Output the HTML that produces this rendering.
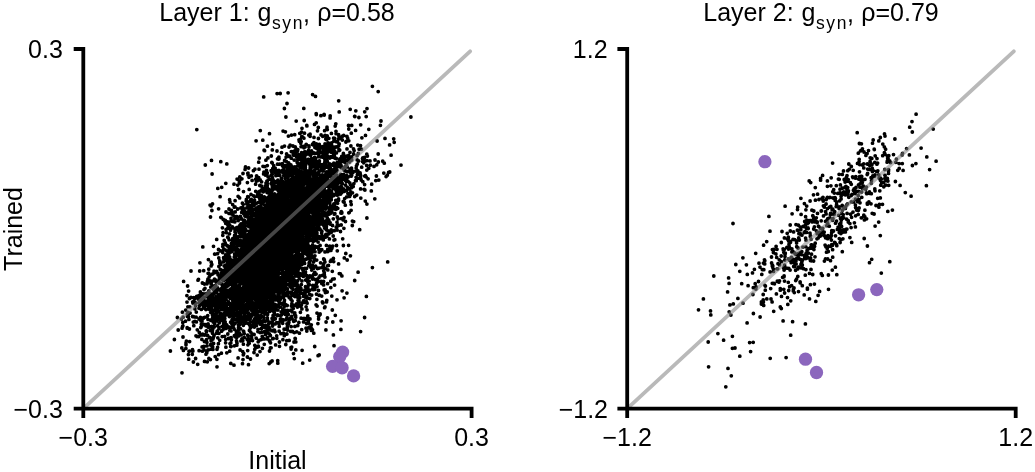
<!DOCTYPE html>
<html><head><meta charset="utf-8"><style>
html,body{margin:0;padding:0;background:#fff;}
body{width:1035px;height:472px;overflow:hidden;}
svg{display:block;}
text{font-family:"Liberation Sans",sans-serif;fill:#000;}
svg{will-change:transform;}
</style></head><body>
<svg width="1035" height="472" viewBox="0 0 1035 472">
<path fill="none" stroke="#000" stroke-width="3.8" stroke-linecap="round" d="M372.4 86.3h0M378.2 91.6h0M280.2 93.5h0M288.1 92.8h0M277.1 93.6h0M312.6 94.6h0M315.5 96.4h0M263.7 96.9h0M338.7 100.8h0M287.0 103.5h0M303.8 108.4h0M284.4 108.5h0M350.2 109.3h0M367.0 108.6h0M355.8 110.8h0M339.2 111.9h0M364.7 111.8h0M316.2 113.7h0M324.1 114.3h0M316.3 114.6h0M324.2 115.0h0M320.9 115.7h0M330.2 115.9h0M354.6 116.3h0M354.9 116.5h0M285.9 117.0h0M358.9 117.5h0M366.2 116.6h0M410.9 117.0h0M330.1 117.9h0M304.2 120.5h0M296.2 121.1h0M381.0 121.0h0M316.2 122.8h0M314.5 124.4h0M335.8 123.8h0M306.8 125.5h0M348.5 125.4h0M351.7 125.4h0M360.7 124.8h0M380.4 125.3h0M306.9 125.9h0M335.2 126.1h0M318.3 127.5h0M327.0 127.2h0M302.0 128.3h0M326.9 129.0h0M348.8 129.0h0M368.8 129.3h0M196.8 129.6h0M327.3 129.6h0M355.6 130.4h0M260.3 130.6h0M283.1 131.1h0M317.5 130.8h0M324.6 130.7h0M336.0 131.3h0M285.4 131.8h0M301.6 132.1h0M299.8 133.3h0M304.5 133.2h0M331.4 133.4h0M351.3 133.2h0M269.5 133.7h0M310.1 134.2h0M336.1 133.7h0M291.5 135.1h0M294.7 134.7h0M308.8 135.1h0M321.1 134.9h0M325.1 135.3h0M338.6 134.7h0M343.7 135.4h0M365.5 135.4h0M288.4 136.1h0M301.8 136.4h0M310.1 136.3h0M322.7 136.3h0M326.2 136.2h0M327.2 136.0h0M338.9 135.9h0M342.5 136.2h0M347.0 136.5h0M302.7 137.1h0M314.0 137.4h0M326.1 136.8h0M303.9 138.2h0M318.4 138.5h0M328.9 138.3h0M333.6 138.2h0M340.3 138.4h0M347.7 138.3h0M361.9 137.8h0M385.0 138.4h0M300.2 139.3h0M325.8 139.0h0M328.1 138.6h0M334.7 138.5h0M338.6 138.9h0M393.7 138.8h0M262.8 140.2h0M299.0 139.8h0M326.5 139.5h0M342.3 140.0h0M256.1 140.8h0M299.3 141.3h0M333.9 141.0h0M346.2 141.5h0M348.8 140.8h0M377.1 141.0h0M301.2 141.6h0M336.2 141.7h0M337.6 142.1h0M345.9 142.0h0M394.2 142.3h0M300.8 143.3h0M313.9 142.6h0M328.1 142.8h0M331.6 142.9h0M272.7 144.2h0M306.2 144.3h0M312.5 144.4h0M313.1 143.7h0M313.5 144.2h0M316.4 144.0h0M319.3 144.5h0M325.0 143.9h0M329.4 143.5h0M339.0 144.1h0M339.2 144.0h0M290.1 145.1h0M313.2 144.9h0M315.1 145.2h0M316.6 145.3h0M319.4 144.8h0M357.8 145.1h0M389.6 144.9h0M267.4 146.2h0M284.5 146.1h0M292.9 146.0h0M304.5 146.2h0M308.9 145.8h0M324.8 145.6h0M326.6 145.7h0M328.6 146.3h0M331.8 145.6h0M338.3 146.3h0M338.8 145.7h0M350.9 146.0h0M360.5 145.6h0M282.0 147.2h0M289.0 147.0h0M295.2 146.9h0M301.1 146.7h0M302.6 146.7h0M304.6 147.0h0M305.2 146.8h0M309.0 147.0h0M319.9 147.2h0M322.5 146.7h0M325.7 147.0h0M329.0 147.3h0M334.3 147.2h0M336.0 147.0h0M304.0 147.8h0M314.9 147.6h0M316.4 148.2h0M318.9 148.1h0M321.1 147.7h0M323.1 147.8h0M328.7 148.4h0M331.8 148.4h0M332.1 148.2h0M296.0 149.0h0M317.3 148.7h0M318.7 148.5h0M323.7 149.0h0M325.4 148.9h0M326.6 148.8h0M327.0 149.5h0M339.0 149.4h0M347.0 148.9h0M353.5 148.8h0M359.1 149.2h0M361.4 149.2h0M264.1 150.2h0M272.3 149.9h0M296.6 150.3h0M297.8 149.7h0M323.6 149.6h0M324.7 150.1h0M329.5 149.8h0M333.7 149.9h0M339.7 150.1h0M264.6 150.7h0M277.0 151.0h0M293.7 151.4h0M294.0 151.5h0M297.5 151.2h0M308.6 150.5h0M311.6 151.0h0M320.0 151.0h0M324.6 151.4h0M327.8 151.3h0M329.3 151.1h0M330.9 151.5h0M334.6 150.8h0M339.0 150.6h0M354.1 150.6h0M291.3 151.6h0M304.6 152.0h0M305.3 152.0h0M318.3 151.7h0M321.5 152.3h0M331.1 152.2h0M334.8 152.0h0M350.0 152.3h0M281.5 152.6h0M294.4 153.1h0M295.7 153.3h0M301.6 152.7h0M308.0 152.8h0M310.3 153.2h0M312.0 153.5h0M314.0 153.0h0M315.2 153.3h0M317.0 153.2h0M318.5 152.6h0M323.0 152.9h0M327.3 152.6h0M336.4 152.9h0M343.4 153.4h0M286.6 154.0h0M293.3 154.4h0M303.1 154.3h0M304.6 153.7h0M307.8 153.7h0M310.3 154.3h0M318.9 154.3h0M323.8 154.0h0M325.1 153.7h0M333.6 154.4h0M353.6 154.0h0M358.3 153.5h0M366.8 154.2h0M378.2 154.0h0M293.7 155.3h0M295.3 154.8h0M296.9 155.0h0M298.7 155.0h0M299.2 154.8h0M306.2 154.5h0M309.8 154.7h0M310.1 154.8h0M310.6 155.3h0M322.9 155.3h0M325.1 154.9h0M334.1 155.5h0M334.3 155.3h0M348.7 155.5h0M391.1 155.2h0M271.3 156.0h0M288.6 156.3h0M288.8 156.3h0M289.7 156.2h0M296.7 156.4h0M299.9 156.1h0M300.1 155.8h0M300.4 156.4h0M323.9 156.2h0M325.6 155.6h0M326.0 155.9h0M327.4 155.9h0M334.0 155.6h0M341.7 156.4h0M344.0 155.9h0M346.4 156.1h0M357.1 155.7h0M367.4 156.1h0M278.9 157.1h0M286.1 157.1h0M296.6 157.1h0M298.4 157.1h0M303.6 156.8h0M304.7 157.1h0M318.4 156.7h0M320.3 156.8h0M322.3 157.1h0M322.8 156.7h0M324.0 157.4h0M326.2 157.1h0M328.6 156.8h0M331.0 156.7h0M332.1 157.2h0M343.7 157.5h0M344.7 157.4h0M351.7 157.0h0M364.5 157.5h0M259.3 158.1h0M267.9 157.9h0M291.2 158.2h0M302.4 158.2h0M311.5 158.4h0M314.6 157.5h0M326.0 158.3h0M327.1 158.1h0M329.8 158.0h0M334.9 158.0h0M335.0 158.2h0M335.2 157.9h0M336.3 158.5h0M343.2 157.6h0M348.2 157.8h0M348.5 157.5h0M362.8 157.9h0M277.5 158.8h0M278.6 159.2h0M279.0 158.7h0M301.2 158.9h0M301.2 159.0h0M302.6 159.1h0M308.0 159.5h0M308.7 159.5h0M313.7 158.6h0M315.4 158.5h0M324.8 159.5h0M324.8 158.7h0M325.2 159.0h0M339.9 159.0h0M362.5 158.6h0M363.5 158.6h0M211.5 160.4h0M265.9 160.2h0M284.6 160.4h0M294.2 160.1h0M297.7 159.8h0M300.9 159.9h0M306.1 159.9h0M307.0 160.2h0M315.0 159.6h0M339.7 160.2h0M343.2 159.5h0M344.5 159.6h0M347.0 160.3h0M351.1 159.7h0M351.7 160.0h0M357.2 159.9h0M375.0 160.0h0M285.3 160.9h0M286.3 161.3h0M302.7 160.8h0M306.0 161.3h0M310.4 161.3h0M311.5 160.9h0M313.7 161.4h0M316.5 161.2h0M319.4 161.0h0M327.4 161.5h0M341.5 161.5h0M347.7 160.9h0M358.6 160.9h0M365.8 160.8h0M366.9 160.6h0M370.0 160.9h0M382.7 161.2h0M220.8 161.7h0M258.7 162.2h0M271.8 162.4h0M302.7 162.3h0M304.0 161.8h0M307.1 162.4h0M307.8 162.2h0M307.8 161.8h0M309.9 162.2h0M313.8 161.5h0M316.4 162.4h0M324.7 162.4h0M337.3 162.5h0M339.5 161.8h0M344.5 162.0h0M348.8 161.6h0M349.6 162.1h0M362.6 161.6h0M378.3 162.0h0M272.3 163.1h0M288.7 162.9h0M297.2 162.5h0M301.6 163.0h0M302.7 163.3h0M304.0 162.6h0M306.6 162.7h0M310.5 163.0h0M310.6 163.2h0M311.7 162.6h0M312.2 163.2h0M314.2 162.7h0M314.5 163.1h0M318.9 163.3h0M319.2 162.9h0M325.5 163.1h0M325.8 163.1h0M333.8 163.2h0M338.2 162.8h0M363.7 162.8h0M384.3 163.2h0M226.8 163.9h0M277.5 164.2h0M279.6 164.1h0M282.0 163.9h0M282.4 163.6h0M298.6 163.7h0M302.3 164.1h0M309.1 163.9h0M316.7 163.7h0M318.4 163.9h0M324.7 164.0h0M324.8 164.5h0M325.3 164.0h0M325.4 164.5h0M325.4 164.3h0M325.9 164.1h0M329.7 164.0h0M330.6 164.3h0M333.0 164.3h0M334.8 164.1h0M357.3 164.1h0M205.3 165.0h0M282.4 165.4h0M282.5 165.1h0M286.9 165.2h0M288.7 165.5h0M290.9 164.9h0M305.1 164.8h0M311.5 164.5h0M313.5 165.2h0M315.0 164.6h0M317.5 164.9h0M321.9 164.6h0M324.9 164.9h0M332.9 165.1h0M333.2 165.2h0M337.5 164.5h0M339.7 164.6h0M340.9 165.1h0M346.6 164.7h0M366.7 165.5h0M370.4 165.2h0M376.7 164.8h0M401.0 165.1h0M263.0 166.3h0M267.3 165.6h0M273.7 165.7h0M283.8 166.0h0M285.2 165.7h0M287.0 166.0h0M291.1 165.7h0M297.6 165.9h0M299.5 165.6h0M299.9 166.0h0M300.7 165.5h0M305.4 165.8h0M311.8 166.3h0M313.2 165.5h0M317.2 166.3h0M320.0 166.1h0M320.6 166.4h0M320.9 166.1h0M324.5 166.5h0M326.4 165.7h0M328.9 165.9h0M335.0 165.7h0M340.2 165.9h0M341.2 166.1h0M345.4 166.2h0M356.5 165.8h0M374.0 166.4h0M245.5 167.0h0M264.9 166.6h0M273.8 167.1h0M283.2 166.9h0M283.8 167.5h0M286.1 167.0h0M293.8 167.2h0M295.0 167.0h0M302.0 166.6h0M310.2 167.0h0M311.6 166.8h0M312.2 167.1h0M314.5 167.1h0M315.4 167.3h0M320.9 166.8h0M322.7 167.4h0M323.6 166.9h0M324.9 166.5h0M325.7 167.3h0M326.3 167.0h0M328.7 166.9h0M329.6 166.8h0M336.6 167.5h0M336.7 167.3h0M338.3 166.5h0M345.0 166.9h0M347.2 166.9h0M361.7 167.2h0M245.5 167.8h0M248.6 168.0h0M272.8 168.4h0M273.3 168.3h0M275.2 168.1h0M289.5 167.6h0M291.3 168.4h0M295.6 168.4h0M295.8 167.5h0M300.3 167.7h0M302.9 168.0h0M305.4 167.8h0M310.2 168.3h0M310.8 168.2h0M323.6 168.2h0M324.5 168.1h0M328.6 167.5h0M328.7 167.9h0M329.3 167.7h0M330.1 168.2h0M330.3 168.1h0M330.4 167.6h0M334.7 168.5h0M334.9 168.5h0M335.7 168.2h0M341.2 167.7h0M341.9 167.8h0M343.8 167.9h0M351.5 168.2h0M356.2 167.9h0M368.8 168.3h0M245.1 169.4h0M254.9 169.2h0M259.0 169.2h0M287.5 169.4h0M291.0 168.5h0M293.6 168.8h0M295.9 168.6h0M304.3 168.5h0M304.9 168.7h0M310.3 168.5h0M317.6 168.8h0M321.5 168.7h0M323.9 168.7h0M335.8 168.9h0M350.2 168.9h0M266.5 170.4h0M273.6 169.6h0M278.9 170.3h0M283.6 169.9h0M291.2 169.6h0M292.2 170.4h0M293.9 170.0h0M294.5 170.4h0M294.8 170.2h0M296.7 169.5h0M297.1 169.7h0M306.2 170.3h0M309.9 169.7h0M311.0 169.9h0M314.6 170.4h0M321.6 169.8h0M323.4 169.5h0M329.6 169.7h0M331.5 169.7h0M333.6 169.9h0M337.0 170.3h0M344.1 170.0h0M344.8 170.3h0M366.8 170.1h0M253.4 170.7h0M271.1 170.6h0M272.2 171.4h0M273.9 171.0h0M274.8 171.0h0M277.7 170.6h0M281.5 171.5h0M282.6 170.5h0M286.1 170.9h0M287.3 170.7h0M288.2 170.6h0M292.1 171.4h0M299.1 171.0h0M305.0 171.5h0M319.7 170.9h0M322.8 171.1h0M323.4 170.6h0M330.5 171.1h0M345.0 170.6h0M345.9 171.2h0M348.5 171.1h0M349.5 171.3h0M353.0 171.4h0M355.7 171.1h0M356.9 170.9h0M357.1 170.9h0M357.9 170.9h0M263.9 172.1h0M276.5 172.4h0M279.2 172.0h0M280.1 172.1h0M282.7 171.9h0M286.8 171.6h0M289.8 171.5h0M289.9 171.8h0M289.9 172.3h0M291.0 172.4h0M291.1 172.5h0M292.2 172.2h0M295.6 172.1h0M297.2 171.9h0M298.9 172.2h0M299.0 171.6h0M301.3 171.5h0M301.7 171.7h0M303.4 171.8h0M303.9 172.4h0M305.4 171.5h0M307.4 172.1h0M310.3 172.0h0M310.7 171.8h0M310.7 171.5h0M311.3 172.0h0M311.4 172.4h0M314.0 172.2h0M315.0 172.4h0M318.6 172.5h0M326.1 172.1h0M327.1 171.9h0M330.6 171.7h0M332.0 171.6h0M333.2 171.8h0M335.9 171.5h0M336.2 171.9h0M347.2 171.8h0M350.3 172.3h0M352.6 171.7h0M352.9 172.5h0M388.6 172.5h0M389.7 172.0h0M247.8 173.3h0M248.0 173.1h0M267.3 172.8h0M271.9 172.7h0M275.6 172.7h0M283.5 173.2h0M289.2 172.8h0M300.4 173.4h0M300.4 173.5h0M306.7 172.9h0M307.7 172.5h0M309.1 172.7h0M310.9 173.1h0M317.4 173.4h0M318.9 172.6h0M326.9 172.7h0M329.8 173.3h0M332.9 173.5h0M333.5 172.7h0M334.0 172.8h0M334.3 172.9h0M360.1 173.0h0M383.8 173.1h0M212.1 174.0h0M243.0 173.5h0M263.6 173.9h0M267.0 174.1h0M272.3 174.3h0M286.2 174.2h0M287.8 174.1h0M293.9 174.1h0M295.3 173.7h0M295.7 173.9h0M298.3 173.8h0M303.5 173.7h0M304.8 173.7h0M305.8 173.8h0M310.3 173.7h0M314.2 174.3h0M314.8 173.8h0M315.0 174.3h0M325.9 173.8h0M326.6 173.9h0M329.7 174.3h0M329.7 173.6h0M329.9 174.4h0M340.7 174.3h0M343.7 174.4h0M357.4 174.4h0M360.2 173.9h0M248.1 175.0h0M265.4 175.0h0M271.2 175.3h0M277.3 175.2h0M279.8 175.4h0M283.8 175.3h0M290.2 174.5h0M292.5 175.3h0M298.2 174.8h0M308.1 174.5h0M309.3 174.5h0M314.5 174.6h0M314.6 174.8h0M319.0 175.0h0M320.0 175.4h0M322.4 174.9h0M324.3 175.5h0M324.5 175.4h0M330.9 174.8h0M335.0 174.9h0M335.5 174.7h0M336.9 175.2h0M340.7 175.3h0M351.7 175.3h0M387.3 175.2h0M251.3 175.9h0M256.6 175.9h0M275.9 175.7h0M284.3 175.8h0M284.9 176.1h0M288.3 176.5h0M291.5 175.9h0M291.9 175.9h0M298.2 176.4h0M301.3 175.5h0M306.7 176.5h0M308.9 175.7h0M309.5 176.4h0M313.2 175.6h0M316.3 175.7h0M319.9 175.7h0M320.6 176.4h0M321.0 176.2h0M322.1 175.5h0M322.8 176.4h0M327.3 176.4h0M335.5 176.1h0M342.5 176.4h0M343.4 176.2h0M346.7 175.6h0M350.4 175.8h0M351.2 176.2h0M360.7 175.7h0M364.7 176.1h0M365.4 175.7h0M376.4 176.0h0M239.8 177.0h0M249.0 177.3h0M268.1 176.9h0M272.3 177.3h0M285.9 177.0h0M296.1 177.4h0M297.0 176.8h0M301.6 177.1h0M302.7 176.7h0M303.7 177.2h0M304.0 177.0h0M307.3 177.2h0M308.6 177.2h0M309.6 176.5h0M316.1 176.7h0M320.0 177.3h0M322.6 177.2h0M324.9 177.0h0M327.6 177.4h0M330.9 176.7h0M331.3 177.4h0M332.2 177.4h0M336.2 176.5h0M337.0 177.5h0M342.0 176.9h0M342.2 177.0h0M342.4 176.8h0M343.1 176.6h0M344.2 177.0h0M345.4 177.3h0M348.1 176.9h0M356.1 177.3h0M366.1 176.8h0M386.1 176.6h0M258.7 177.6h0M281.4 178.2h0M285.2 178.3h0M292.3 177.6h0M294.6 177.8h0M296.9 177.6h0M298.1 177.5h0M303.3 177.7h0M304.4 178.3h0M305.9 177.9h0M307.1 178.1h0M307.2 177.7h0M308.9 178.5h0M314.2 178.5h0M314.4 178.0h0M314.4 178.4h0M317.1 178.4h0M320.0 178.4h0M321.0 177.6h0M323.8 178.5h0M325.0 177.7h0M325.9 177.8h0M326.3 178.2h0M337.7 178.3h0M337.9 178.1h0M339.3 178.0h0M340.3 177.6h0M345.6 178.3h0M347.0 178.3h0M356.5 177.9h0M359.1 178.2h0M237.1 179.1h0M241.9 178.8h0M255.7 179.2h0M269.5 179.2h0M269.7 179.2h0M272.0 179.0h0M301.6 179.2h0M301.9 179.2h0M302.0 178.8h0M303.4 179.5h0M305.7 179.2h0M308.4 179.3h0M308.9 179.1h0M310.4 179.0h0M312.1 178.9h0M313.5 178.8h0M316.4 179.3h0M319.4 178.8h0M322.2 178.8h0M327.0 178.7h0M327.5 179.2h0M332.1 179.3h0M332.4 179.2h0M332.5 179.0h0M333.7 178.7h0M336.6 178.7h0M338.0 178.5h0M340.1 178.9h0M342.2 179.0h0M360.7 178.6h0M368.1 178.8h0M252.1 180.4h0M260.2 179.9h0M273.0 179.6h0M273.1 179.8h0M277.9 180.1h0M288.5 180.0h0M288.7 179.6h0M288.8 179.9h0M289.1 180.2h0M290.8 179.9h0M291.5 179.5h0M292.6 180.0h0M294.7 180.3h0M295.9 179.7h0M299.7 179.7h0M300.6 180.0h0M305.7 179.7h0M306.7 180.5h0M308.5 179.9h0M310.2 180.0h0M310.9 179.6h0M311.5 180.4h0M312.0 179.8h0M314.9 179.9h0M315.6 180.5h0M318.2 180.1h0M318.3 180.4h0M319.4 180.2h0M319.9 179.7h0M323.9 179.6h0M326.3 180.1h0M326.4 179.7h0M332.7 180.2h0M335.6 179.9h0M340.6 180.4h0M341.1 180.5h0M343.2 179.5h0M345.7 179.8h0M361.2 180.1h0M378.8 180.1h0M239.6 180.8h0M256.2 180.8h0M257.2 180.8h0M266.9 181.1h0M267.4 181.0h0M274.8 181.4h0M279.6 181.4h0M282.9 181.4h0M286.3 181.4h0M289.3 180.6h0M291.3 181.1h0M294.3 180.7h0M294.5 181.0h0M296.6 181.2h0M300.2 181.3h0M301.9 181.3h0M305.0 181.1h0M309.2 181.2h0M309.3 180.5h0M311.1 181.4h0M311.7 181.4h0M315.6 181.1h0M320.3 181.3h0M321.5 181.0h0M321.9 180.8h0M324.0 181.0h0M325.2 180.9h0M330.3 180.7h0M332.5 180.5h0M333.5 181.3h0M334.0 181.0h0M335.0 181.1h0M337.8 180.7h0M338.4 180.8h0M345.7 180.7h0M348.1 181.3h0M355.5 180.6h0M356.2 180.7h0M375.8 180.6h0M239.3 182.0h0M261.6 181.8h0M271.9 181.9h0M274.7 181.8h0M275.4 182.0h0M277.2 182.4h0M280.8 181.7h0M289.4 182.4h0M289.6 182.5h0M294.6 182.3h0M301.3 181.6h0M303.6 182.5h0M304.5 182.0h0M309.0 182.3h0M310.0 182.0h0M314.1 181.5h0M314.1 182.3h0M314.8 182.2h0M320.2 182.3h0M322.5 181.8h0M323.9 181.7h0M326.1 181.9h0M326.5 181.9h0M329.0 182.5h0M330.9 181.7h0M332.9 182.2h0M334.3 182.0h0M336.2 182.2h0M337.1 182.5h0M337.6 182.2h0M346.4 181.5h0M362.8 181.7h0M225.8 183.3h0M239.5 183.0h0M247.4 182.6h0M266.0 183.1h0M272.3 183.2h0M274.0 183.1h0M284.5 182.9h0M285.3 182.5h0M291.2 182.8h0M293.9 182.9h0M294.3 183.2h0M297.7 183.2h0M300.0 183.5h0M301.9 183.2h0M305.9 183.1h0M306.4 183.4h0M312.1 183.4h0M315.6 183.0h0M317.0 182.5h0M318.0 183.2h0M318.4 182.6h0M319.2 182.9h0M319.9 183.5h0M320.0 183.3h0M320.0 183.2h0M326.4 183.3h0M327.7 182.9h0M328.6 182.7h0M328.9 183.2h0M332.9 183.3h0M336.8 183.1h0M341.1 182.8h0M341.4 182.7h0M342.2 183.5h0M349.8 183.0h0M234.0 184.2h0M255.6 184.2h0M267.3 183.6h0M271.1 183.6h0M272.0 184.4h0M278.8 184.0h0M279.8 184.4h0M281.8 183.7h0M282.0 183.6h0M282.0 184.5h0M287.0 183.5h0M296.8 184.3h0M299.8 184.4h0M300.4 184.0h0M305.4 183.8h0M306.1 183.7h0M307.2 184.3h0M309.2 184.2h0M311.4 184.3h0M315.8 184.3h0M317.3 184.0h0M319.0 184.4h0M322.9 183.9h0M327.3 183.6h0M334.8 184.3h0M335.4 184.1h0M337.2 183.7h0M337.7 183.9h0M337.8 183.8h0M341.8 183.7h0M353.9 183.6h0M371.7 184.2h0M237.7 185.1h0M267.3 185.4h0M272.1 185.1h0M272.3 185.0h0M274.3 185.4h0M283.0 185.1h0M285.1 184.9h0M291.8 185.2h0M292.6 184.8h0M298.7 185.1h0M300.7 184.5h0M301.1 185.1h0M303.5 184.8h0M310.8 184.9h0M311.4 184.9h0M313.4 185.1h0M317.6 185.1h0M321.3 184.7h0M325.4 184.6h0M327.9 185.1h0M328.2 185.3h0M330.5 184.7h0M332.2 184.7h0M333.2 184.9h0M334.3 185.4h0M336.6 185.3h0M337.0 184.6h0M345.5 185.1h0M350.7 185.0h0M364.6 184.6h0M259.8 185.5h0M261.6 186.2h0M265.4 186.0h0M274.7 186.4h0M277.8 185.6h0M281.5 186.4h0M281.7 185.8h0M281.7 185.9h0M282.7 186.2h0M283.6 185.8h0M283.8 186.5h0M285.1 185.5h0M289.3 185.6h0M289.3 186.0h0M291.1 185.7h0M292.2 185.8h0M295.2 186.4h0M298.3 186.2h0M299.0 185.8h0M303.1 186.3h0M309.2 186.4h0M312.5 186.2h0M314.7 185.8h0M315.1 185.8h0M315.4 186.3h0M315.6 185.9h0M318.8 186.1h0M318.9 186.0h0M319.2 186.4h0M320.9 186.3h0M321.4 185.9h0M324.5 185.6h0M325.5 186.2h0M325.8 185.9h0M327.2 185.7h0M328.1 185.8h0M332.4 185.8h0M334.0 186.2h0M337.2 185.9h0M221.7 187.3h0M272.3 186.9h0M275.1 187.0h0M280.4 186.9h0M282.4 186.7h0M284.5 187.4h0M284.5 187.3h0M285.1 187.5h0M288.5 187.4h0M290.0 186.9h0M291.8 186.5h0M292.6 187.0h0M294.6 187.3h0M295.2 186.6h0M295.7 187.1h0M298.3 187.3h0M298.4 186.7h0M299.5 186.6h0M300.3 186.6h0M300.8 186.9h0M301.2 187.0h0M302.4 187.1h0M310.1 186.8h0M311.9 187.0h0M312.6 186.8h0M314.5 186.8h0M314.9 187.3h0M315.1 186.9h0M318.1 186.6h0M322.7 187.3h0M328.3 186.5h0M328.5 186.7h0M330.1 187.1h0M334.1 187.3h0M339.9 187.2h0M341.5 186.6h0M347.3 187.1h0M353.2 186.6h0M217.8 188.4h0M267.1 188.4h0M267.3 187.5h0M274.7 187.9h0M279.0 187.8h0M281.7 188.0h0M286.7 187.5h0M288.6 188.1h0M289.3 187.9h0M290.6 187.7h0M295.7 188.4h0M295.8 188.0h0M296.4 188.1h0M298.2 187.8h0M300.7 187.9h0M304.2 188.5h0M306.7 187.6h0M311.3 187.9h0M311.9 188.3h0M313.9 187.9h0M315.1 187.9h0M315.4 188.2h0M315.7 188.4h0M320.0 187.8h0M324.0 187.7h0M324.2 188.3h0M329.0 188.2h0M333.3 188.4h0M339.6 188.3h0M341.0 187.6h0M342.1 188.4h0M351.5 187.7h0M238.6 189.4h0M249.2 189.4h0M263.4 188.9h0M268.9 189.5h0M275.9 188.8h0M277.3 188.7h0M282.0 189.2h0M289.9 188.7h0M290.1 188.9h0M291.6 189.5h0M295.3 189.2h0M296.3 189.4h0M297.1 189.2h0M299.2 188.9h0M308.8 189.0h0M309.2 189.2h0M311.0 189.4h0M311.3 189.1h0M312.2 188.7h0M312.5 189.3h0M312.6 189.2h0M314.5 188.7h0M314.7 189.1h0M316.8 188.7h0M317.3 189.0h0M317.9 189.1h0M322.3 189.0h0M323.9 188.7h0M324.0 189.1h0M334.8 188.9h0M336.9 188.9h0M338.5 189.1h0M342.7 188.8h0M343.5 188.8h0M349.7 189.0h0M360.6 188.9h0M364.2 189.3h0M261.9 189.6h0M263.0 190.1h0M264.4 189.9h0M269.6 190.0h0M272.7 190.1h0M278.2 190.5h0M280.9 189.6h0M281.0 190.0h0M285.1 189.6h0M286.2 190.1h0M287.7 189.5h0M292.3 189.9h0M293.6 190.5h0M293.8 190.1h0M294.6 190.2h0M294.8 190.5h0M297.8 189.7h0M299.4 189.6h0M301.0 189.9h0M301.6 190.0h0M302.5 189.7h0M304.2 190.0h0M307.7 189.5h0M308.3 190.1h0M308.3 190.1h0M310.4 189.8h0M311.7 189.8h0M313.1 189.8h0M318.0 189.9h0M322.4 190.2h0M330.0 190.5h0M335.7 189.7h0M342.5 190.0h0M346.6 190.4h0M364.9 190.0h0M255.7 191.3h0M260.0 191.2h0M266.0 190.8h0M269.9 191.2h0M270.3 191.4h0M271.6 191.3h0M284.1 191.0h0M284.4 191.2h0M289.0 190.7h0M291.9 191.3h0M292.2 191.1h0M292.5 191.0h0M293.9 191.1h0M294.1 191.5h0M300.7 191.4h0M301.6 190.6h0M301.9 191.4h0M304.0 191.5h0M304.6 190.8h0M304.7 191.2h0M305.9 191.0h0M306.6 190.7h0M306.8 191.4h0M310.3 190.9h0M314.3 190.8h0M314.5 190.5h0M317.1 190.8h0M317.4 191.4h0M319.9 190.7h0M320.9 191.4h0M321.3 191.1h0M322.7 191.0h0M323.8 191.3h0M326.4 191.4h0M327.7 190.9h0M336.3 191.4h0M339.0 191.5h0M340.6 190.7h0M342.6 191.0h0M344.2 191.4h0M371.3 190.9h0M243.5 191.6h0M259.2 191.6h0M263.3 191.8h0M271.2 192.3h0M281.6 192.1h0M282.1 192.1h0M285.0 192.3h0M290.6 191.9h0M290.7 192.0h0M290.8 191.5h0M293.1 191.8h0M293.5 192.0h0M295.4 192.4h0M296.3 192.0h0M296.9 192.4h0M297.5 191.7h0M297.7 191.5h0M298.9 192.2h0M303.1 191.7h0M304.1 192.4h0M304.9 191.7h0M306.2 192.4h0M308.0 191.8h0M311.9 191.6h0M312.4 192.5h0M315.8 192.2h0M317.2 192.2h0M321.3 192.3h0M327.4 192.1h0M331.5 191.6h0M341.7 192.5h0M350.9 191.8h0M257.9 192.5h0M267.1 192.5h0M269.0 193.2h0M279.9 193.0h0M282.2 193.4h0M282.4 192.9h0M284.7 193.4h0M285.6 192.7h0M287.6 193.4h0M291.8 192.7h0M297.0 192.9h0M299.6 193.2h0M300.2 192.5h0M300.8 193.0h0M302.8 193.0h0M303.7 193.4h0M304.2 193.2h0M307.5 193.5h0M308.1 193.1h0M308.1 192.7h0M308.2 192.6h0M310.5 193.3h0M313.0 192.6h0M313.7 193.2h0M314.6 192.7h0M315.5 192.8h0M318.2 193.2h0M321.5 193.0h0M321.6 193.0h0M323.2 193.1h0M323.6 192.8h0M328.3 192.5h0M331.8 192.8h0M336.7 192.6h0M339.3 193.4h0M341.2 193.1h0M347.9 193.4h0M352.5 192.8h0M251.0 194.5h0M269.6 194.4h0M270.9 193.6h0M272.6 194.4h0M274.5 193.9h0M278.2 194.0h0M279.2 193.6h0M279.9 193.9h0M284.1 193.9h0M284.7 194.4h0M285.1 194.1h0M288.8 194.4h0M292.9 194.1h0M293.4 193.9h0M293.6 193.5h0M293.9 193.6h0M294.3 193.8h0M295.3 193.8h0M296.9 193.8h0M297.2 194.3h0M299.0 194.4h0M300.4 193.9h0M306.4 194.4h0M308.2 193.8h0M309.8 193.8h0M310.5 193.9h0M313.3 193.8h0M315.6 194.0h0M317.3 193.6h0M318.4 194.1h0M320.9 193.6h0M327.2 194.4h0M328.6 194.2h0M331.8 194.4h0M336.5 193.7h0M340.6 194.0h0M257.6 194.6h0M259.5 194.7h0M260.5 195.3h0M261.3 195.3h0M272.3 194.5h0M274.8 194.8h0M279.1 194.5h0M279.5 194.9h0M280.9 194.8h0M283.7 195.4h0M284.0 195.5h0M285.3 195.5h0M285.7 195.0h0M285.8 195.3h0M286.2 195.0h0M286.4 194.9h0M286.6 195.3h0M287.9 195.1h0M288.2 194.6h0M292.9 195.0h0M296.2 195.2h0M297.1 195.3h0M298.7 195.3h0M298.8 195.1h0M300.9 194.6h0M303.7 194.7h0M303.7 194.7h0M304.4 195.3h0M307.6 195.4h0M308.1 195.3h0M308.7 195.1h0M309.2 194.9h0M313.3 195.0h0M313.6 195.1h0M313.6 195.4h0M315.6 194.9h0M317.6 195.5h0M321.3 195.0h0M321.6 195.2h0M325.0 195.1h0M325.7 194.7h0M326.0 194.8h0M327.5 195.3h0M328.2 194.7h0M329.3 194.8h0M333.3 194.7h0M333.8 195.5h0M334.6 194.6h0M337.3 195.2h0M338.0 194.9h0M349.9 195.0h0M350.3 194.9h0M356.7 195.1h0M238.1 196.3h0M253.7 195.8h0M257.6 196.4h0M260.7 196.1h0M270.4 196.0h0M272.3 196.0h0M276.2 195.9h0M276.7 195.9h0M278.8 196.0h0M283.4 195.7h0M284.4 196.4h0M285.8 196.2h0M288.2 195.5h0M288.9 195.6h0M290.8 196.2h0M291.4 196.3h0M291.9 195.7h0M299.7 195.7h0M300.0 196.3h0M300.6 195.9h0M301.9 195.6h0M305.9 196.1h0M306.2 196.0h0M308.3 196.4h0M308.7 196.3h0M309.0 195.7h0M313.3 195.5h0M313.5 196.1h0M313.7 196.3h0M315.1 195.6h0M316.4 195.8h0M317.1 195.5h0M322.2 196.0h0M328.3 196.3h0M330.7 196.3h0M349.6 196.4h0M220.1 196.7h0M247.7 196.7h0M248.3 196.9h0M254.6 196.6h0M261.3 196.9h0M264.3 196.9h0M268.4 197.1h0M270.5 196.7h0M275.3 197.0h0M276.0 196.6h0M276.6 197.3h0M278.3 197.2h0M279.6 197.5h0M280.6 196.8h0M282.5 197.3h0M283.3 196.9h0M288.2 196.8h0M291.4 197.3h0M295.0 196.9h0M295.3 197.2h0M296.6 197.2h0M296.7 197.0h0M296.9 196.6h0M299.2 197.0h0M299.2 196.9h0M300.3 197.1h0M303.1 197.1h0M307.3 197.0h0M308.5 197.5h0M309.3 197.0h0M310.2 197.2h0M312.9 196.9h0M313.7 197.4h0M313.9 197.1h0M314.5 197.5h0M315.0 196.9h0M315.7 196.9h0M318.8 197.2h0M321.4 196.5h0M323.3 196.8h0M326.8 197.2h0M330.1 197.4h0M331.4 197.3h0M346.7 196.9h0M354.7 196.5h0M239.6 197.9h0M265.5 197.8h0M267.4 198.4h0M269.6 198.0h0M271.1 197.9h0M272.1 197.7h0M273.2 198.1h0M275.3 197.8h0M276.2 198.5h0M278.0 198.1h0M279.2 197.6h0M280.4 197.8h0M281.7 198.2h0M281.9 197.5h0M281.9 198.4h0M286.0 198.3h0M287.7 198.3h0M292.1 198.3h0M293.7 198.2h0M297.2 198.4h0M297.4 197.6h0M297.9 197.6h0M298.1 197.6h0M300.0 197.9h0M300.2 198.4h0M300.3 198.0h0M301.0 198.0h0M305.6 198.2h0M308.2 198.5h0M308.3 197.9h0M309.0 198.0h0M310.1 198.4h0M311.0 198.4h0M311.2 198.3h0M311.5 198.2h0M311.7 198.0h0M311.8 198.4h0M314.8 198.2h0M316.1 198.0h0M316.1 198.3h0M323.0 197.6h0M323.6 197.5h0M324.9 197.8h0M326.4 198.2h0M328.7 198.3h0M330.2 197.8h0M360.8 198.1h0M246.4 199.3h0M251.3 199.4h0M259.7 198.5h0M270.7 199.3h0M271.5 198.6h0M272.0 199.1h0M272.9 199.0h0M273.6 198.7h0M274.3 198.8h0M275.4 198.6h0M277.1 198.9h0M279.2 199.1h0M281.5 199.3h0M283.6 198.8h0M283.6 198.6h0M284.3 198.8h0M285.1 199.2h0M285.5 199.3h0M294.1 198.6h0M294.3 199.2h0M294.6 199.0h0M295.5 199.2h0M299.2 199.3h0M301.3 199.0h0M301.6 198.5h0M306.6 198.8h0M306.8 198.6h0M312.3 199.3h0M319.0 198.9h0M319.3 199.3h0M328.7 199.0h0M338.5 198.9h0M344.7 198.6h0M374.8 198.8h0M229.6 199.7h0M250.6 200.3h0M254.5 200.1h0M261.1 200.3h0M261.9 200.0h0M262.4 200.2h0M263.8 199.6h0M266.8 200.1h0M266.9 199.8h0M269.0 199.6h0M272.1 200.2h0M272.7 199.8h0M273.1 199.9h0M275.3 200.1h0M275.8 200.4h0M277.1 200.0h0M277.5 200.4h0M277.9 199.9h0M279.6 199.8h0M280.2 199.6h0M281.2 200.3h0M282.0 200.3h0M286.3 199.7h0M288.5 199.7h0M290.6 199.8h0M290.8 199.8h0M291.1 199.8h0M291.1 200.0h0M291.2 200.1h0M292.0 199.6h0M293.2 199.9h0M293.8 199.8h0M294.2 200.3h0M294.6 200.2h0M295.4 199.6h0M297.4 200.5h0M299.8 199.6h0M300.0 199.7h0M301.4 199.9h0M303.6 199.5h0M303.7 199.9h0M305.5 199.6h0M308.6 200.4h0M310.9 199.6h0M311.4 199.7h0M311.4 199.8h0M312.5 199.7h0M313.0 199.9h0M313.9 199.6h0M319.1 200.0h0M325.4 199.6h0M327.4 199.6h0M328.2 199.6h0M329.9 199.5h0M331.3 199.8h0M335.8 200.3h0M338.5 200.3h0M235.1 200.7h0M246.2 201.1h0M254.7 201.4h0M259.8 201.5h0M260.8 200.5h0M263.5 201.5h0M264.7 200.6h0M270.4 200.9h0M272.3 200.8h0M272.4 201.5h0M273.6 201.0h0M274.0 200.6h0M275.8 201.4h0M277.0 200.8h0M280.0 200.6h0M281.4 200.8h0M281.4 201.5h0M288.9 200.7h0M289.5 201.4h0M290.0 200.9h0M292.1 200.7h0M292.2 201.2h0M292.4 201.1h0M295.5 200.9h0M298.1 200.6h0M298.2 201.4h0M301.5 201.3h0M301.9 200.8h0M303.1 201.0h0M303.7 200.5h0M305.4 201.0h0M305.9 200.9h0M306.6 200.7h0M309.5 201.4h0M312.5 201.3h0M312.6 200.9h0M314.2 200.8h0M315.1 201.5h0M317.3 200.8h0M317.6 200.7h0M317.6 201.3h0M321.8 200.6h0M323.4 201.4h0M327.0 200.6h0M327.6 200.7h0M343.3 201.5h0M365.3 201.1h0M230.0 202.0h0M249.5 201.7h0M251.7 201.8h0M258.6 202.4h0M266.8 201.6h0M271.1 201.6h0M274.1 202.3h0M276.9 201.7h0M279.1 202.3h0M282.6 202.1h0M285.4 201.9h0M287.2 202.2h0M291.2 201.7h0M292.8 201.9h0M293.1 201.7h0M294.7 202.1h0M296.9 201.5h0M297.1 202.3h0M297.1 202.5h0M299.5 201.7h0M301.0 201.6h0M301.9 202.0h0M302.1 202.0h0M304.0 202.5h0M305.9 202.0h0M306.3 202.2h0M306.7 202.4h0M308.1 201.6h0M311.2 201.9h0M312.3 201.8h0M314.1 202.2h0M314.4 202.0h0M319.1 202.2h0M321.5 202.3h0M323.2 201.6h0M323.9 202.1h0M325.9 201.6h0M326.2 201.9h0M336.0 201.9h0M344.1 202.2h0M350.8 201.6h0M242.4 203.2h0M248.0 202.8h0M252.7 203.3h0M256.2 203.4h0M261.2 202.5h0M268.7 203.4h0M270.2 202.7h0M278.9 203.4h0M279.7 202.5h0M280.8 203.0h0M281.1 203.3h0M281.5 202.7h0M286.9 202.9h0M287.1 203.4h0M287.2 203.0h0M288.4 203.2h0M289.9 202.9h0M290.6 202.8h0M291.9 202.6h0M293.9 203.1h0M296.5 202.5h0M297.4 202.5h0M297.5 203.1h0M298.0 203.2h0M298.1 202.6h0M300.4 203.2h0M301.5 203.0h0M303.1 202.8h0M303.6 203.3h0M304.7 203.4h0M305.0 202.9h0M306.1 202.9h0M311.1 203.0h0M311.3 203.0h0M311.8 202.8h0M312.2 202.5h0M312.7 203.4h0M313.1 203.3h0M314.3 202.9h0M319.9 203.2h0M320.4 202.8h0M322.1 202.6h0M327.6 203.1h0M329.8 203.0h0M337.6 203.2h0M212.5 203.9h0M243.2 204.3h0M246.8 203.9h0M255.8 203.5h0M256.0 203.8h0M261.8 203.9h0M262.1 203.9h0M262.3 203.6h0M267.6 203.6h0M272.1 204.2h0M274.3 203.9h0M275.2 204.3h0M276.3 204.1h0M276.7 204.1h0M277.0 204.4h0M279.3 204.3h0M280.6 204.1h0M282.1 204.0h0M283.1 204.0h0M284.3 204.1h0M284.7 204.1h0M285.3 203.7h0M287.4 203.6h0M288.3 203.6h0M290.9 203.6h0M291.2 204.1h0M291.6 204.5h0M292.8 203.8h0M292.9 204.1h0M293.7 204.3h0M294.8 203.8h0M295.2 203.9h0M295.5 203.7h0M295.6 203.6h0M297.1 204.1h0M297.6 204.5h0M297.8 204.0h0M298.2 204.1h0M298.4 203.9h0M300.0 204.4h0M301.1 203.8h0M301.3 203.8h0M302.8 203.9h0M303.0 203.6h0M305.8 203.9h0M306.6 204.3h0M306.6 203.9h0M307.9 204.3h0M308.3 203.7h0M308.8 203.7h0M308.9 204.1h0M310.3 204.1h0M311.3 203.6h0M312.8 203.8h0M314.5 203.7h0M314.8 203.7h0M315.9 203.6h0M317.9 204.3h0M318.0 204.3h0M319.8 203.7h0M320.8 203.6h0M322.1 204.3h0M324.4 204.3h0M325.5 204.3h0M333.9 203.8h0M366.9 204.1h0M210.1 205.1h0M232.7 204.6h0M252.9 204.9h0M253.4 205.3h0M254.0 205.3h0M264.4 204.9h0M267.4 205.3h0M268.4 205.1h0M272.1 204.6h0M273.0 205.2h0M275.2 204.6h0M275.3 204.9h0M275.6 204.5h0M275.8 204.7h0M275.9 205.0h0M276.7 204.8h0M278.1 204.9h0M278.6 204.7h0M278.8 204.9h0M279.6 204.8h0M280.1 204.9h0M280.7 204.7h0M281.0 205.0h0M281.1 205.1h0M281.3 205.4h0M282.6 205.1h0M284.6 204.9h0M285.3 205.5h0M285.5 205.4h0M286.8 205.2h0M287.7 204.9h0M288.4 204.8h0M289.5 205.2h0M289.6 205.3h0M290.3 205.4h0M291.0 205.0h0M291.7 205.3h0M292.2 204.6h0M292.5 205.0h0M293.6 204.9h0M294.0 205.3h0M294.2 205.1h0M294.6 204.5h0M295.2 205.1h0M296.3 205.3h0M299.0 205.4h0M299.2 205.0h0M300.8 204.7h0M301.2 204.8h0M302.6 205.0h0M303.5 204.7h0M304.3 205.3h0M304.5 204.6h0M304.7 204.7h0M307.9 205.1h0M308.2 204.6h0M308.4 204.9h0M312.3 205.4h0M315.0 204.5h0M317.5 205.3h0M318.7 205.0h0M318.9 204.9h0M319.6 205.1h0M321.5 205.5h0M321.9 204.6h0M334.3 204.6h0M345.3 205.2h0M351.2 204.5h0M211.1 205.9h0M249.2 205.7h0M250.7 205.9h0M251.4 206.4h0M260.2 206.1h0M267.9 205.7h0M268.5 205.5h0M268.6 205.8h0M268.9 205.5h0M269.2 205.9h0M271.3 205.7h0M271.9 206.4h0M272.1 205.8h0M272.5 206.3h0M273.2 206.0h0M273.3 205.8h0M275.2 206.2h0M275.9 206.0h0M277.1 206.3h0M279.2 205.9h0M280.0 206.4h0M280.2 205.5h0M282.4 205.6h0M283.9 206.1h0M285.7 205.7h0M286.5 206.0h0M288.3 206.4h0M288.4 205.7h0M294.4 206.0h0M294.7 206.2h0M296.3 206.2h0M296.6 206.4h0M296.8 206.3h0M297.5 206.2h0M297.6 205.6h0M297.9 206.3h0M298.7 205.7h0M301.4 206.4h0M301.6 205.6h0M302.7 206.1h0M303.7 206.5h0M304.9 205.8h0M305.0 205.8h0M305.3 205.9h0M306.4 205.9h0M306.6 205.9h0M307.3 205.6h0M307.8 205.9h0M308.3 206.3h0M308.5 205.6h0M309.3 206.3h0M310.3 205.7h0M312.1 206.0h0M312.5 205.9h0M314.3 205.9h0M317.4 206.1h0M319.3 205.9h0M320.3 206.0h0M320.5 205.7h0M320.5 206.4h0M330.5 205.9h0M332.6 206.3h0M332.9 205.7h0M234.3 207.2h0M235.0 206.8h0M242.6 207.4h0M247.8 207.2h0M249.0 206.8h0M250.4 207.3h0M258.8 206.6h0M261.2 207.4h0M265.4 206.8h0M266.6 206.8h0M267.5 206.9h0M269.1 206.9h0M270.0 207.4h0M270.6 207.3h0M271.3 206.9h0M272.0 206.5h0M272.0 206.6h0M273.2 206.7h0M274.6 207.0h0M275.4 207.1h0M276.4 207.5h0M276.4 207.2h0M277.0 206.8h0M277.7 206.9h0M278.5 206.6h0M281.6 206.8h0M286.4 207.0h0M286.7 207.0h0M286.9 207.3h0M290.8 206.7h0M291.7 206.8h0M292.6 206.8h0M293.2 206.8h0M293.5 206.7h0M293.7 206.9h0M294.5 207.2h0M296.4 207.0h0M297.1 207.4h0M298.8 206.7h0M301.2 206.6h0M303.4 206.8h0M304.0 207.4h0M305.4 206.6h0M306.5 207.0h0M308.9 207.5h0M310.4 206.9h0M317.0 207.0h0M319.4 206.9h0M326.4 207.2h0M326.7 206.7h0M330.8 206.6h0M336.6 207.4h0M240.9 207.9h0M243.2 207.9h0M246.8 207.9h0M250.7 208.2h0M256.9 207.8h0M257.8 207.6h0M257.9 208.2h0M258.7 208.5h0M259.5 207.9h0M266.7 207.6h0M267.6 207.9h0M268.4 208.0h0M269.3 207.9h0M269.4 208.0h0M272.1 208.3h0M273.4 207.7h0M273.5 207.7h0M274.0 207.9h0M276.3 207.5h0M276.8 207.7h0M279.0 207.9h0M281.4 208.4h0M282.6 208.0h0M282.9 207.8h0M285.2 207.7h0M287.0 208.2h0M288.2 208.4h0M288.6 208.3h0M288.8 207.6h0M290.3 207.6h0M291.2 207.7h0M293.1 208.5h0M294.7 208.5h0M297.2 207.6h0M298.4 207.9h0M299.7 208.2h0M302.2 208.4h0M302.3 208.4h0M304.1 208.2h0M306.0 208.4h0M306.3 208.4h0M306.7 208.1h0M306.9 207.5h0M309.2 208.4h0M309.3 207.6h0M310.0 207.7h0M310.1 208.1h0M312.9 207.6h0M312.9 208.4h0M315.0 207.9h0M318.0 208.3h0M318.2 208.2h0M319.0 208.1h0M319.9 208.2h0M321.8 208.4h0M321.9 208.0h0M323.9 207.7h0M324.4 208.5h0M327.6 207.7h0M334.5 207.7h0M334.6 208.3h0M337.8 208.3h0M218.6 208.8h0M229.0 209.0h0M237.7 209.0h0M242.4 209.4h0M253.6 209.3h0M255.2 208.9h0M259.2 209.0h0M262.1 209.4h0M263.5 208.9h0M266.0 208.7h0M266.4 208.8h0M266.9 209.0h0M267.2 209.2h0M267.2 209.3h0M270.7 209.3h0M274.4 208.7h0M275.1 209.2h0M275.6 208.7h0M276.7 209.0h0M277.1 209.0h0M281.7 209.4h0M283.7 208.7h0M283.8 209.1h0M285.3 209.2h0M285.4 208.8h0M289.8 209.1h0M290.9 209.5h0M291.1 209.0h0M292.8 209.4h0M292.9 209.1h0M293.0 209.4h0M293.7 208.8h0M294.0 208.8h0M295.1 209.1h0M295.7 208.6h0M296.7 209.2h0M297.5 209.2h0M297.9 208.6h0M297.9 209.5h0M298.7 209.3h0M298.8 208.9h0M299.3 208.7h0M299.7 209.0h0M301.5 209.0h0M304.0 208.7h0M304.5 209.0h0M307.0 209.4h0M307.5 209.1h0M307.8 209.5h0M310.6 208.9h0M310.8 209.1h0M311.0 209.0h0M314.6 209.0h0M315.1 209.5h0M319.7 208.6h0M320.5 208.5h0M323.9 209.1h0M325.7 209.1h0M329.5 209.1h0M332.5 209.0h0M335.8 209.4h0M243.7 210.1h0M249.3 210.0h0M256.0 209.7h0M256.9 209.6h0M258.9 209.7h0M263.8 209.6h0M264.7 210.0h0M266.3 210.1h0M267.4 210.2h0M269.4 210.2h0M271.7 210.4h0M273.9 209.9h0M275.5 210.4h0M277.5 209.7h0M279.1 209.5h0M279.1 209.5h0M279.4 209.5h0M281.3 210.3h0M283.9 209.9h0M285.8 210.0h0M286.6 209.9h0M287.1 209.7h0M288.7 210.4h0M289.7 210.3h0M290.5 209.8h0M290.5 210.2h0M291.1 210.2h0M296.7 210.2h0M297.2 209.7h0M297.6 210.1h0M298.2 209.9h0M299.3 210.2h0M300.1 209.8h0M302.0 209.8h0M302.1 209.7h0M303.4 209.6h0M303.7 210.3h0M305.1 210.2h0M309.7 210.3h0M314.7 209.9h0M316.2 209.8h0M317.7 209.6h0M318.5 209.6h0M320.2 210.3h0M320.5 210.1h0M321.5 210.1h0M351.1 210.3h0M211.9 210.5h0M231.5 210.5h0M248.7 211.3h0M251.6 211.4h0M257.2 211.4h0M257.3 210.6h0M259.3 211.2h0M269.9 211.1h0M270.1 210.9h0M272.3 211.5h0M273.2 210.7h0M274.1 210.6h0M278.5 210.9h0M280.3 211.3h0M281.7 210.5h0M282.0 211.0h0M282.4 210.7h0M282.5 211.5h0M282.6 211.4h0M286.4 211.3h0M288.0 210.7h0M288.2 211.4h0M288.2 211.0h0M288.5 210.5h0M289.5 211.3h0M290.9 211.1h0M290.9 211.3h0M291.3 210.6h0M293.3 211.0h0M293.3 210.7h0M294.9 211.1h0M297.7 211.4h0M298.1 211.0h0M298.2 210.9h0M299.0 210.8h0M301.2 211.4h0M303.1 210.9h0M303.3 211.3h0M304.4 211.5h0M305.1 211.2h0M306.6 210.5h0M307.0 211.3h0M308.9 210.9h0M309.4 211.1h0M313.3 210.6h0M314.6 210.7h0M315.1 210.7h0M315.7 211.2h0M317.2 211.0h0M319.3 210.6h0M331.0 211.1h0M226.0 212.0h0M231.8 211.9h0M235.2 211.9h0M241.7 212.4h0M242.2 211.5h0M244.9 212.0h0M245.5 212.1h0M245.9 212.2h0M251.0 212.3h0M261.1 212.2h0M261.2 212.1h0M262.2 211.9h0M262.6 211.6h0M265.7 212.3h0M270.1 212.2h0M270.6 212.1h0M273.0 211.7h0M274.3 212.1h0M277.6 212.1h0M280.0 211.5h0M281.2 212.2h0M282.9 211.9h0M283.2 211.8h0M285.5 212.4h0M286.0 212.3h0M291.0 212.5h0M293.4 211.7h0M296.1 212.2h0M297.4 212.2h0M297.7 212.0h0M298.1 211.9h0M301.6 212.1h0M301.9 211.7h0M302.0 211.9h0M302.5 212.0h0M303.7 212.5h0M304.9 212.4h0M306.0 212.2h0M307.4 211.7h0M307.7 211.5h0M313.2 211.7h0M314.7 211.7h0M315.1 211.7h0M316.2 212.1h0M317.6 212.1h0M318.2 212.3h0M318.6 211.6h0M322.5 211.9h0M327.9 212.4h0M328.6 212.0h0M331.2 211.7h0M331.6 211.5h0M331.8 212.0h0M341.3 211.6h0M341.8 212.3h0M229.0 213.4h0M246.1 212.8h0M249.0 213.4h0M252.8 212.6h0M253.2 213.2h0M256.0 212.6h0M256.7 213.3h0M258.0 212.8h0M259.2 212.9h0M262.9 212.7h0M263.2 212.6h0M265.2 213.5h0M267.0 213.0h0M267.4 213.2h0M269.1 213.4h0M270.4 212.6h0M271.0 212.8h0M271.0 212.9h0M271.6 213.3h0M271.9 213.3h0M272.9 212.6h0M273.8 213.1h0M277.3 213.4h0M280.0 213.1h0M280.7 212.6h0M282.1 212.8h0M283.9 212.6h0M284.4 213.0h0M284.9 212.8h0M285.0 213.0h0M289.2 213.1h0M289.2 213.0h0M292.7 213.2h0M294.2 212.6h0M294.8 212.8h0M297.3 212.6h0M297.4 212.8h0M300.4 212.5h0M300.7 212.5h0M301.2 213.2h0M301.6 213.3h0M301.8 212.8h0M301.8 213.5h0M303.1 213.5h0M303.4 213.0h0M303.5 212.9h0M304.0 212.7h0M304.9 212.6h0M306.9 212.5h0M308.2 212.6h0M308.4 213.2h0M311.8 212.6h0M314.2 212.8h0M319.0 213.4h0M324.5 213.4h0M324.5 212.6h0M329.2 212.8h0M330.3 213.4h0M340.9 213.0h0M341.8 213.1h0M348.8 212.8h0M349.2 212.6h0M230.5 213.5h0M243.7 213.8h0M254.1 213.7h0M256.3 214.4h0M259.0 214.3h0M261.8 213.7h0M262.8 213.9h0M263.0 213.8h0M267.8 213.5h0M268.4 214.1h0M273.6 214.3h0M273.9 213.8h0M274.1 213.9h0M274.4 213.7h0M275.4 213.7h0M276.4 214.0h0M276.7 213.9h0M278.2 214.3h0M278.5 214.0h0M278.8 213.6h0M278.9 213.7h0M280.7 213.7h0M281.0 213.8h0M281.5 213.5h0M282.2 214.3h0M283.3 214.4h0M285.8 213.6h0M287.4 214.0h0M288.2 214.3h0M288.3 213.5h0M288.4 213.8h0M288.4 214.4h0M289.1 214.5h0M290.0 213.9h0M294.5 214.4h0M295.1 213.8h0M296.1 214.5h0M296.2 213.9h0M299.2 213.6h0M300.3 213.6h0M300.8 213.9h0M301.4 213.5h0M302.6 214.4h0M303.0 214.5h0M303.5 213.7h0M305.3 213.7h0M307.3 214.1h0M313.7 214.2h0M314.4 213.7h0M320.1 214.3h0M320.2 214.2h0M322.5 214.3h0M327.4 214.4h0M328.1 214.3h0M329.3 214.0h0M334.3 214.2h0M334.9 213.7h0M232.9 215.0h0M253.5 215.2h0M257.6 215.1h0M258.2 214.7h0M260.2 215.3h0M262.9 215.2h0M269.5 214.6h0M271.8 215.2h0M273.9 214.5h0M274.3 214.8h0M274.4 215.3h0M275.9 214.8h0M278.3 215.1h0M279.3 214.8h0M280.7 214.6h0M282.6 215.3h0M283.7 214.8h0M284.0 214.6h0M284.7 215.2h0M285.1 214.5h0M286.8 215.4h0M286.9 215.3h0M288.6 215.2h0M289.5 214.8h0M289.9 215.0h0M294.9 215.3h0M297.5 215.5h0M297.8 214.7h0M301.4 214.9h0M302.7 215.2h0M303.0 215.0h0M304.1 214.8h0M305.5 215.2h0M307.1 215.4h0M308.2 214.9h0M308.5 214.8h0M313.1 214.8h0M316.2 214.6h0M317.1 214.9h0M318.6 215.3h0M322.7 214.5h0M233.8 215.8h0M240.4 216.4h0M244.9 216.1h0M245.2 216.2h0M247.0 215.5h0M251.1 215.9h0M256.1 215.5h0M257.7 216.4h0M260.3 215.9h0M260.5 215.6h0M261.4 216.0h0M262.4 215.7h0M263.9 215.6h0M264.2 215.5h0M264.6 215.9h0M265.2 216.3h0M266.0 216.1h0M269.4 216.3h0M270.9 216.0h0M275.2 215.6h0M276.7 215.6h0M279.9 216.4h0M283.3 215.8h0M283.7 215.5h0M284.0 215.8h0M285.3 216.4h0M286.7 215.7h0M287.3 216.0h0M289.6 215.8h0M290.2 216.2h0M290.3 216.2h0M290.9 215.7h0M291.0 216.3h0M291.1 216.1h0M292.3 215.6h0M292.5 215.6h0M292.8 216.2h0M293.6 216.0h0M293.9 215.6h0M294.0 216.5h0M296.2 216.1h0M296.6 216.2h0M297.6 215.9h0M298.0 215.9h0M298.3 215.6h0M299.0 216.1h0M300.3 216.3h0M300.5 216.1h0M301.1 216.1h0M303.2 216.3h0M305.6 216.1h0M306.0 216.1h0M307.2 216.4h0M307.9 216.4h0M308.8 216.2h0M309.6 216.2h0M318.6 216.4h0M319.1 215.8h0M320.9 215.7h0M324.1 215.8h0M210.5 217.0h0M220.8 217.3h0M221.2 217.5h0M236.5 216.7h0M237.0 216.7h0M247.8 217.2h0M248.2 217.5h0M261.2 216.6h0M262.1 217.4h0M262.4 217.1h0M265.6 216.7h0M267.7 217.3h0M270.5 217.1h0M271.1 216.6h0M271.7 216.8h0M274.3 217.3h0M275.8 216.6h0M276.0 217.3h0M276.0 216.6h0M278.9 216.8h0M279.4 216.5h0M279.8 216.8h0M282.8 216.6h0M283.2 216.7h0M283.3 217.5h0M283.4 216.8h0M283.4 216.8h0M284.1 217.3h0M284.6 216.9h0M284.8 217.5h0M287.0 217.4h0M287.4 217.4h0M287.8 217.0h0M287.8 217.3h0M287.9 216.7h0M289.3 217.5h0M289.7 216.7h0M289.9 217.4h0M290.2 217.4h0M290.2 217.1h0M290.5 216.9h0M291.3 217.4h0M291.8 217.3h0M292.0 216.9h0M292.4 217.4h0M292.8 217.2h0M293.6 217.0h0M293.7 217.1h0M295.1 217.0h0M295.6 217.2h0M298.0 216.7h0M298.4 217.4h0M298.8 217.0h0M302.3 217.4h0M302.3 217.4h0M302.6 216.5h0M302.8 216.9h0M304.7 216.7h0M306.3 217.3h0M309.2 217.4h0M310.4 217.0h0M314.9 216.7h0M315.0 216.7h0M315.9 216.8h0M319.2 217.3h0M319.4 216.9h0M321.0 217.4h0M327.2 217.5h0M337.3 217.0h0M344.0 217.4h0M231.0 218.3h0M234.9 218.4h0M237.2 217.9h0M241.1 218.1h0M249.0 217.5h0M250.8 217.7h0M256.0 218.0h0M256.3 217.8h0M256.5 217.8h0M258.4 218.0h0M259.8 218.3h0M264.9 217.6h0M265.8 218.3h0M267.4 218.0h0M267.7 218.1h0M267.8 218.0h0M268.5 217.9h0M271.9 217.7h0M272.9 218.1h0M273.3 217.8h0M275.9 218.3h0M276.2 217.9h0M276.3 217.9h0M277.1 217.7h0M277.5 218.0h0M280.1 218.2h0M281.5 217.9h0M281.7 218.0h0M282.1 217.6h0M283.4 217.5h0M283.7 218.2h0M284.0 217.6h0M285.9 218.4h0M288.1 217.6h0M288.5 218.4h0M289.4 218.0h0M290.3 218.5h0M290.6 217.7h0M290.7 218.1h0M290.9 218.0h0M290.9 218.1h0M291.1 218.5h0M295.5 218.3h0M295.6 217.8h0M295.8 218.3h0M295.9 217.7h0M297.5 218.4h0M298.0 218.5h0M300.1 218.0h0M300.2 217.8h0M302.1 218.0h0M302.9 218.3h0M303.9 217.7h0M304.3 217.6h0M310.3 217.9h0M312.5 217.9h0M312.9 217.9h0M314.4 218.4h0M315.5 217.5h0M366.9 218.0h0M223.3 219.4h0M241.0 218.9h0M249.2 219.1h0M251.8 219.3h0M252.7 219.1h0M253.0 218.9h0M256.6 218.9h0M256.7 219.3h0M258.0 218.6h0M260.3 218.8h0M262.8 219.1h0M266.1 219.2h0M266.5 218.7h0M267.7 219.5h0M269.8 218.8h0M272.1 218.8h0M272.7 219.1h0M274.5 218.5h0M275.1 219.1h0M276.2 219.0h0M279.3 219.2h0M280.6 218.9h0M280.9 219.5h0M281.1 219.2h0M283.8 219.0h0M286.1 218.8h0M287.7 218.8h0M287.8 219.2h0M290.0 218.7h0M292.0 219.3h0M292.3 218.6h0M293.1 219.0h0M294.1 219.1h0M295.3 219.2h0M295.6 219.5h0M295.9 218.7h0M298.0 218.8h0M299.0 219.0h0M299.0 218.9h0M299.7 219.2h0M300.7 218.8h0M302.3 218.9h0M302.9 218.6h0M302.9 219.5h0M306.0 219.4h0M307.6 219.5h0M310.2 219.3h0M311.5 219.4h0M315.5 218.8h0M315.6 219.0h0M315.7 219.5h0M315.7 219.2h0M315.9 218.6h0M319.6 218.9h0M320.3 218.7h0M321.9 218.9h0M322.6 219.1h0M333.3 218.8h0M338.1 218.8h0M341.3 218.6h0M225.3 220.3h0M238.2 220.5h0M243.2 220.1h0M244.3 220.1h0M248.5 219.7h0M250.5 219.6h0M253.0 219.8h0M253.3 219.7h0M263.5 220.1h0M263.9 220.1h0M264.3 220.2h0M267.1 219.6h0M268.8 219.8h0M269.7 220.0h0M269.9 220.3h0M271.0 220.0h0M271.3 219.7h0M271.7 220.4h0M272.4 219.6h0M274.0 219.7h0M274.3 220.2h0M276.2 219.8h0M277.1 220.0h0M278.2 220.0h0M278.6 220.0h0M282.1 220.0h0M283.6 220.4h0M284.4 219.7h0M285.7 219.7h0M286.4 220.3h0M286.6 219.7h0M288.8 220.2h0M289.6 220.2h0M291.9 219.6h0M292.2 219.9h0M293.6 219.6h0M296.9 220.2h0M297.3 220.1h0M297.4 219.7h0M298.8 219.8h0M298.8 219.9h0M299.3 220.4h0M299.8 219.8h0M301.1 220.3h0M303.9 220.4h0M307.5 220.1h0M307.9 220.0h0M309.2 220.4h0M310.5 219.8h0M315.0 219.5h0M318.0 220.3h0M319.0 220.2h0M319.2 219.8h0M319.3 220.5h0M326.7 220.4h0M327.1 219.6h0M328.7 219.8h0M343.3 219.9h0M224.9 221.2h0M231.0 221.0h0M232.5 221.4h0M233.6 221.0h0M252.1 220.9h0M257.8 221.3h0M261.9 221.5h0M263.1 220.6h0M264.9 220.6h0M265.1 221.1h0M265.8 220.6h0M267.2 220.7h0M268.9 220.7h0M271.7 220.8h0M273.0 221.4h0M274.9 221.4h0M277.2 221.2h0M278.0 221.2h0M278.2 221.2h0M278.7 220.7h0M278.8 220.6h0M279.0 221.0h0M279.6 220.6h0M280.3 221.4h0M281.2 221.5h0M282.0 221.4h0M282.2 221.0h0M283.5 221.3h0M283.7 221.0h0M285.1 221.5h0M285.2 220.9h0M285.3 220.9h0M286.0 220.9h0M286.9 220.5h0M289.1 221.0h0M290.1 220.6h0M290.5 221.2h0M292.3 220.5h0M292.4 221.4h0M292.6 221.3h0M292.8 220.6h0M293.0 221.0h0M293.1 220.8h0M294.2 221.5h0M295.7 220.5h0M299.0 221.2h0M303.2 221.0h0M304.0 220.5h0M304.2 220.7h0M304.5 220.6h0M306.0 220.7h0M306.2 220.7h0M307.3 221.1h0M311.7 221.3h0M315.0 221.2h0M316.0 220.7h0M317.7 220.6h0M319.9 221.5h0M320.1 221.0h0M323.2 220.9h0M326.7 221.3h0M326.8 221.0h0M329.0 221.1h0M352.4 221.1h0M227.7 221.9h0M234.8 221.9h0M245.5 221.9h0M252.2 222.1h0M254.4 222.4h0M254.7 222.1h0M256.8 221.8h0M257.0 222.4h0M257.7 222.0h0M259.6 222.0h0M260.4 221.6h0M260.4 222.4h0M261.7 222.1h0M262.5 222.4h0M264.6 222.4h0M265.1 221.8h0M267.5 222.4h0M267.9 221.6h0M270.5 221.6h0M270.6 222.1h0M271.1 221.6h0M272.7 222.1h0M272.9 221.8h0M274.2 222.4h0M275.6 222.1h0M277.3 222.5h0M278.3 222.1h0M278.3 222.0h0M278.8 222.2h0M278.9 221.9h0M279.2 222.2h0M279.2 221.8h0M282.0 222.4h0M282.3 222.1h0M283.3 222.2h0M286.9 222.0h0M288.2 221.6h0M288.7 222.2h0M289.1 222.3h0M290.5 221.6h0M290.8 221.6h0M291.5 222.0h0M294.0 221.6h0M294.8 221.7h0M295.6 221.9h0M296.6 221.6h0M296.9 222.5h0M297.5 221.9h0M299.7 222.2h0M301.7 222.3h0M301.9 222.3h0M302.8 222.0h0M302.9 221.7h0M306.7 222.3h0M308.0 221.9h0M311.0 221.9h0M312.3 221.9h0M316.4 222.0h0M318.2 222.4h0M319.3 221.7h0M319.5 222.2h0M320.4 221.8h0M323.2 221.8h0M337.0 222.2h0M345.5 221.5h0M353.7 221.6h0M225.8 223.4h0M228.3 223.3h0M243.3 223.1h0M244.9 223.5h0M248.2 222.9h0M250.7 222.9h0M251.5 223.3h0M257.8 223.1h0M257.9 223.2h0M258.0 222.9h0M258.2 222.6h0M260.4 223.4h0M262.1 223.0h0M262.3 222.5h0M265.2 222.6h0M266.6 222.9h0M268.5 222.6h0M269.1 223.5h0M269.2 223.4h0M269.9 223.0h0M271.0 222.8h0M271.8 223.3h0M272.4 222.8h0M274.0 223.4h0M274.7 223.2h0M274.8 223.1h0M275.3 223.4h0M275.4 222.8h0M276.5 223.2h0M277.4 222.7h0M277.7 223.2h0M278.3 222.6h0M279.6 223.2h0M279.8 223.4h0M281.2 222.6h0M282.5 222.9h0M282.7 223.3h0M282.8 223.2h0M283.8 222.5h0M284.8 223.4h0M285.1 223.3h0M285.2 223.1h0M286.3 223.3h0M287.2 222.7h0M287.4 223.1h0M287.9 222.9h0M288.0 222.7h0M288.1 223.2h0M288.3 223.1h0M288.7 223.1h0M288.7 222.7h0M291.4 222.7h0M292.2 223.0h0M294.1 222.8h0M294.2 223.3h0M294.6 222.9h0M296.9 222.9h0M298.2 222.6h0M299.4 223.3h0M299.7 223.3h0M299.9 223.0h0M300.4 222.8h0M300.5 223.3h0M300.5 222.8h0M302.1 222.8h0M302.5 223.1h0M303.4 223.3h0M304.8 222.7h0M307.9 223.2h0M310.6 222.6h0M311.4 223.0h0M312.8 223.1h0M316.1 222.7h0M317.7 223.2h0M320.0 223.5h0M320.2 223.2h0M320.9 222.6h0M323.4 222.6h0M327.0 223.2h0M330.1 222.6h0M227.7 224.4h0M240.9 223.9h0M248.5 224.1h0M248.6 224.3h0M248.7 223.9h0M249.9 223.6h0M251.5 224.3h0M251.5 224.0h0M256.8 224.1h0M258.6 223.8h0M260.9 223.8h0M264.3 224.2h0M265.3 224.4h0M266.9 224.0h0M269.4 224.1h0M271.3 224.3h0M272.2 223.9h0M272.6 223.8h0M274.9 224.0h0M275.5 223.9h0M277.2 223.7h0M278.7 224.3h0M281.0 223.6h0M282.9 224.4h0M285.5 224.0h0M285.5 224.1h0M285.9 223.7h0M286.9 224.2h0M287.0 223.6h0M287.9 224.2h0M288.2 223.7h0M289.6 223.7h0M290.4 223.9h0M290.5 223.9h0M290.6 224.2h0M291.6 224.4h0M291.8 224.4h0M293.8 223.6h0M294.3 223.9h0M294.4 224.3h0M298.1 224.0h0M300.3 223.6h0M300.8 223.7h0M302.4 224.3h0M304.9 223.7h0M306.6 224.2h0M307.0 223.9h0M308.4 223.7h0M308.6 224.1h0M310.2 224.3h0M313.4 224.3h0M317.5 223.5h0M319.8 224.2h0M322.1 224.0h0M326.8 224.0h0M330.1 224.1h0M229.7 224.8h0M240.0 225.1h0M242.6 225.0h0M242.6 225.4h0M251.3 225.4h0M252.3 225.2h0M253.9 224.9h0M258.5 224.7h0M260.1 225.2h0M260.1 224.7h0M261.0 224.8h0M263.6 224.7h0M264.4 224.9h0M267.2 224.6h0M267.6 225.3h0M269.7 224.9h0M275.3 225.1h0M276.7 225.4h0M279.5 225.5h0M279.8 225.1h0M284.7 225.1h0M287.6 224.6h0M287.7 224.5h0M288.0 225.5h0M289.6 224.6h0M290.1 225.3h0M290.4 225.1h0M290.6 224.6h0M292.7 225.5h0M293.9 225.0h0M295.1 225.4h0M296.3 225.4h0M299.7 224.6h0M300.7 224.6h0M300.7 225.4h0M302.0 225.5h0M302.5 225.2h0M302.7 224.7h0M303.6 225.3h0M303.6 225.0h0M313.2 224.5h0M314.4 224.7h0M317.2 224.5h0M318.3 225.0h0M324.9 224.9h0M332.5 225.5h0M337.4 224.7h0M338.6 225.4h0M341.2 225.0h0M239.7 226.0h0M242.6 226.1h0M244.9 226.2h0M245.7 225.9h0M250.1 226.1h0M251.0 225.7h0M251.9 226.4h0M255.0 226.2h0M257.5 226.2h0M259.5 226.4h0M262.0 226.3h0M263.5 226.2h0M263.6 226.3h0M264.2 226.3h0M265.3 226.5h0M270.7 225.7h0M271.2 225.8h0M272.4 226.0h0M273.4 226.2h0M274.0 225.6h0M274.6 226.4h0M274.9 225.9h0M276.9 226.4h0M277.6 226.2h0M278.3 226.3h0M278.8 225.8h0M278.9 225.8h0M279.9 226.3h0M281.1 226.2h0M281.6 225.7h0M283.6 226.3h0M283.7 226.2h0M284.7 226.0h0M287.3 225.6h0M287.8 225.8h0M288.5 225.9h0M291.7 226.1h0M291.8 225.8h0M292.4 226.2h0M292.5 226.4h0M292.6 226.2h0M292.7 225.9h0M293.1 226.3h0M293.5 226.3h0M294.0 225.9h0M295.7 225.6h0M295.8 226.1h0M297.7 226.0h0M298.1 226.3h0M298.7 226.4h0M300.0 226.3h0M300.6 226.0h0M301.1 226.3h0M301.7 225.6h0M303.8 225.8h0M304.2 226.4h0M305.6 225.9h0M306.7 226.3h0M308.3 226.1h0M308.8 226.0h0M309.6 226.1h0M311.7 225.9h0M312.3 225.8h0M323.9 225.7h0M352.3 225.5h0M232.4 226.8h0M237.3 227.5h0M240.1 227.3h0M241.0 226.7h0M243.4 226.5h0M243.5 226.6h0M244.0 226.5h0M248.8 226.6h0M249.5 226.6h0M250.3 227.2h0M253.1 227.2h0M253.3 227.1h0M254.4 227.4h0M254.5 227.4h0M254.8 227.1h0M255.0 227.1h0M255.8 226.6h0M256.0 227.5h0M256.1 226.8h0M257.3 227.0h0M257.3 227.0h0M257.9 226.8h0M262.9 226.9h0M265.4 227.5h0M265.6 226.8h0M265.8 226.9h0M265.9 227.4h0M266.6 226.8h0M267.5 227.5h0M267.9 227.2h0M268.2 226.7h0M270.0 227.1h0M270.2 227.1h0M270.5 227.0h0M271.1 226.5h0M271.2 226.7h0M271.3 227.0h0M272.1 227.1h0M272.8 227.1h0M272.9 226.9h0M273.5 226.6h0M273.9 226.7h0M275.1 226.9h0M275.7 226.7h0M277.0 226.5h0M278.4 227.2h0M280.9 226.6h0M281.5 226.7h0M285.3 227.3h0M285.7 227.2h0M285.8 227.3h0M286.7 227.4h0M287.3 226.8h0M287.4 227.0h0M287.8 226.8h0M288.1 227.5h0M289.9 226.6h0M290.0 227.0h0M290.8 227.0h0M294.2 227.3h0M294.7 227.5h0M296.6 226.5h0M299.5 226.8h0M300.7 226.6h0M300.9 227.0h0M302.8 227.5h0M305.4 226.8h0M306.1 227.2h0M307.7 226.7h0M310.6 226.8h0M312.0 226.7h0M313.1 226.5h0M318.9 227.4h0M326.4 226.7h0M336.2 227.1h0M336.7 227.5h0M222.4 227.8h0M227.8 228.0h0M228.0 227.7h0M229.0 228.1h0M232.8 227.8h0M236.2 227.9h0M239.0 227.6h0M250.5 227.5h0M255.5 227.7h0M258.5 227.9h0M258.7 228.1h0M259.9 228.0h0M262.6 228.1h0M263.2 227.9h0M266.8 228.1h0M267.5 228.1h0M267.8 227.8h0M268.4 228.0h0M270.6 228.2h0M270.6 227.9h0M275.0 228.4h0M275.4 227.9h0M276.8 228.0h0M277.4 227.5h0M279.0 227.8h0M279.1 228.1h0M280.0 227.6h0M280.2 228.3h0M280.2 228.5h0M281.4 228.5h0M283.0 228.4h0M283.1 227.8h0M283.8 228.3h0M284.1 227.9h0M284.4 228.2h0M285.3 227.8h0M286.4 227.9h0M286.6 227.9h0M286.8 227.9h0M287.2 227.5h0M289.0 228.4h0M289.1 227.8h0M289.9 228.1h0M290.1 227.6h0M290.6 228.0h0M294.9 228.4h0M296.3 228.2h0M298.2 227.6h0M298.5 227.5h0M299.0 227.5h0M302.4 228.1h0M302.8 228.4h0M303.1 228.3h0M303.8 228.3h0M304.6 227.9h0M304.7 228.2h0M304.8 228.1h0M305.7 228.2h0M306.7 228.4h0M306.9 227.9h0M308.7 227.9h0M312.8 227.6h0M312.9 228.0h0M313.6 228.1h0M315.2 228.3h0M316.7 227.7h0M324.6 228.0h0M325.9 227.7h0M326.3 228.2h0M343.9 228.3h0M229.9 228.6h0M235.1 228.8h0M235.3 229.4h0M236.6 229.1h0M241.8 228.8h0M241.9 228.8h0M244.2 228.6h0M244.8 228.8h0M252.8 229.0h0M255.3 228.8h0M260.1 229.0h0M262.3 228.6h0M264.4 228.5h0M264.8 229.5h0M265.8 229.0h0M266.0 228.6h0M266.2 228.6h0M266.5 229.1h0M267.8 229.2h0M268.6 229.1h0M268.7 229.0h0M269.2 229.3h0M269.3 229.5h0M269.7 229.3h0M269.9 228.5h0M271.3 229.4h0M273.0 229.2h0M273.3 229.2h0M276.7 229.4h0M278.2 228.7h0M278.7 228.6h0M280.6 229.4h0M282.2 228.5h0M283.0 229.2h0M283.5 229.1h0M284.1 229.4h0M285.0 228.8h0M285.4 229.1h0M286.2 228.8h0M287.4 229.2h0M288.5 229.1h0M289.2 229.2h0M289.8 229.4h0M289.8 228.8h0M290.5 229.3h0M291.7 228.8h0M291.7 229.2h0M293.1 228.8h0M293.5 228.9h0M294.9 229.2h0M294.9 228.8h0M295.6 228.7h0M295.7 228.8h0M298.3 229.2h0M298.3 229.4h0M299.3 228.8h0M299.6 229.1h0M299.8 229.3h0M299.8 229.2h0M300.2 228.7h0M301.0 229.3h0M302.9 228.7h0M303.8 228.8h0M304.0 228.6h0M304.4 228.6h0M306.3 228.7h0M307.0 228.9h0M307.5 229.0h0M308.8 228.8h0M308.8 229.1h0M315.4 229.0h0M316.0 228.5h0M316.6 228.7h0M319.8 229.3h0M319.9 228.9h0M226.1 229.5h0M230.5 230.2h0M235.1 230.3h0M241.0 230.1h0M245.8 229.7h0M251.1 229.8h0M251.2 230.0h0M251.4 230.4h0M253.3 230.1h0M257.2 230.1h0M258.0 229.7h0M262.1 229.7h0M264.1 230.5h0M264.9 230.1h0M271.1 230.0h0M272.5 230.2h0M273.0 230.2h0M275.3 230.4h0M276.4 229.8h0M276.5 229.9h0M276.8 229.9h0M277.2 230.3h0M278.6 229.7h0M279.0 230.2h0M281.4 230.2h0M281.7 230.2h0M282.1 229.8h0M284.1 230.5h0M284.5 230.0h0M284.7 229.6h0M286.2 229.6h0M286.7 229.7h0M287.7 230.4h0M288.3 230.2h0M288.5 230.1h0M290.4 230.5h0M290.6 229.7h0M290.8 229.5h0M291.0 230.2h0M292.3 230.4h0M292.4 230.4h0M292.9 230.3h0M293.0 229.9h0M293.5 229.5h0M295.8 229.7h0M296.3 230.3h0M298.9 229.8h0M301.8 230.4h0M304.4 230.0h0M304.9 229.8h0M306.7 230.5h0M307.5 230.2h0M310.2 229.6h0M310.2 230.2h0M311.0 229.5h0M313.5 229.6h0M316.5 229.9h0M320.7 230.1h0M326.3 229.8h0M331.2 229.8h0M337.1 230.1h0M359.7 229.7h0M238.5 230.8h0M244.0 231.3h0M246.1 230.8h0M249.3 231.4h0M249.4 231.1h0M254.5 230.7h0M255.1 231.4h0M260.4 231.2h0M261.4 230.9h0M262.1 231.5h0M263.8 231.4h0M265.8 231.4h0M266.3 231.1h0M267.2 231.1h0M268.8 231.3h0M269.4 230.7h0M271.2 231.1h0M272.0 230.6h0M272.4 231.0h0M272.9 231.4h0M273.3 231.1h0M273.4 231.0h0M273.8 231.1h0M274.2 230.7h0M274.6 231.3h0M275.5 230.8h0M276.5 231.5h0M277.2 231.1h0M277.8 230.6h0M278.5 231.2h0M280.2 231.5h0M281.4 231.3h0M285.7 231.4h0M288.0 231.4h0M288.5 230.9h0M289.8 230.7h0M291.9 230.9h0M292.3 231.0h0M293.0 231.3h0M293.3 231.2h0M293.8 230.8h0M293.9 230.5h0M294.5 231.3h0M297.9 230.9h0M299.4 230.5h0M302.6 231.5h0M302.8 230.8h0M303.2 230.7h0M305.5 230.8h0M305.7 230.5h0M306.6 231.0h0M306.9 230.8h0M307.2 231.0h0M312.6 231.1h0M313.1 231.4h0M314.9 231.4h0M316.7 231.3h0M321.9 231.4h0M328.0 231.0h0M334.3 230.7h0M340.5 231.5h0M235.0 231.9h0M240.4 232.5h0M249.4 231.8h0M250.5 231.8h0M251.4 231.6h0M252.9 232.1h0M255.9 232.3h0M256.7 232.2h0M257.1 231.7h0M260.3 232.3h0M262.0 232.2h0M266.5 231.6h0M268.2 232.0h0M268.5 231.8h0M270.2 231.7h0M270.4 232.0h0M271.3 231.9h0M271.3 231.6h0M271.5 232.4h0M272.3 232.0h0M273.4 231.6h0M273.6 232.3h0M274.4 231.8h0M275.5 231.5h0M277.3 232.3h0M277.5 232.4h0M280.8 232.4h0M284.9 231.7h0M287.1 231.7h0M289.0 231.9h0M289.1 232.3h0M291.7 232.0h0M293.3 232.0h0M293.8 231.6h0M294.3 232.3h0M296.4 232.3h0M299.6 232.4h0M299.8 231.5h0M300.0 231.9h0M301.5 231.6h0M301.8 232.3h0M306.7 232.0h0M307.6 232.0h0M310.8 232.1h0M314.9 232.4h0M331.3 232.3h0M223.1 232.7h0M226.5 232.7h0M235.6 233.3h0M239.5 232.6h0M239.6 232.8h0M241.8 233.4h0M244.5 233.0h0M256.6 233.4h0M258.0 233.2h0M258.7 233.0h0M259.7 233.1h0M261.3 233.5h0M263.7 232.6h0M268.1 232.7h0M268.3 232.8h0M269.9 232.6h0M270.3 232.8h0M270.6 232.9h0M271.8 232.5h0M272.6 233.4h0M272.7 233.0h0M274.4 232.6h0M274.9 233.1h0M274.9 233.1h0M274.9 233.2h0M275.2 232.8h0M275.4 233.1h0M275.7 232.7h0M278.2 233.4h0M279.4 233.2h0M280.8 233.5h0M284.4 232.6h0M285.5 233.5h0M287.1 233.4h0M287.3 233.5h0M289.6 232.6h0M289.7 232.7h0M290.8 233.2h0M291.1 232.7h0M291.7 233.1h0M293.3 233.0h0M293.6 233.1h0M293.8 232.9h0M296.6 233.4h0M298.3 232.7h0M300.8 232.8h0M305.1 233.4h0M307.6 232.7h0M308.4 233.0h0M309.5 232.8h0M311.6 233.3h0M316.9 233.1h0M316.9 233.4h0M316.9 232.7h0M321.6 233.2h0M229.5 233.8h0M241.5 234.3h0M249.4 234.5h0M252.8 233.9h0M253.0 234.1h0M256.8 234.2h0M258.3 233.9h0M259.1 233.8h0M259.2 234.0h0M259.8 234.0h0M260.1 233.9h0M263.8 233.8h0M264.9 234.3h0M266.5 233.7h0M268.5 234.3h0M269.2 233.9h0M271.2 234.0h0M271.9 234.2h0M273.7 234.1h0M273.7 234.3h0M274.3 233.8h0M274.9 233.6h0M275.4 233.9h0M275.4 234.4h0M275.8 233.6h0M275.9 234.4h0M277.9 234.5h0M278.5 234.2h0M279.8 233.5h0M280.0 234.1h0M280.8 233.9h0M282.5 233.8h0M285.9 234.4h0M287.4 234.0h0M288.4 234.5h0M290.3 234.2h0M290.5 234.5h0M290.7 234.4h0M291.9 234.4h0M293.5 233.5h0M296.5 233.5h0M297.0 233.9h0M298.5 233.7h0M301.4 233.6h0M303.6 234.0h0M309.6 234.0h0M311.3 234.2h0M325.9 234.4h0M328.9 233.8h0M222.8 235.3h0M234.6 235.3h0M240.5 235.0h0M245.0 235.4h0M245.1 235.0h0M247.8 234.6h0M251.0 234.7h0M251.8 235.3h0M252.1 234.9h0M252.6 234.6h0M253.9 234.9h0M255.4 235.0h0M257.2 234.7h0M257.7 235.0h0M260.0 235.3h0M261.4 235.5h0M263.9 235.2h0M263.9 235.2h0M264.9 235.3h0M267.8 235.5h0M270.2 235.1h0M270.8 235.3h0M271.9 234.7h0M273.7 235.1h0M275.4 234.8h0M275.5 234.8h0M278.4 234.7h0M278.4 235.1h0M278.5 235.1h0M279.8 234.7h0M282.8 234.9h0M283.7 234.6h0M283.8 234.8h0M284.8 235.1h0M285.9 234.9h0M286.5 235.3h0M287.2 235.4h0M287.4 235.1h0M287.5 235.0h0M288.7 235.1h0M288.8 234.9h0M289.4 234.9h0M291.2 235.0h0M291.5 235.2h0M293.0 235.5h0M293.9 235.4h0M294.1 234.9h0M294.8 235.3h0M295.2 234.6h0M295.8 235.2h0M295.9 234.9h0M297.3 234.7h0M298.6 235.0h0M299.7 235.3h0M300.4 235.4h0M300.6 235.4h0M300.8 234.9h0M302.5 234.7h0M306.5 234.6h0M310.3 235.2h0M310.5 235.2h0M314.5 234.7h0M316.0 234.8h0M235.6 236.2h0M241.8 236.3h0M244.9 235.6h0M247.9 236.2h0M251.3 235.9h0M255.7 236.4h0M256.2 236.1h0M257.3 235.5h0M259.6 235.5h0M259.7 236.0h0M260.4 235.9h0M261.5 236.2h0M261.6 235.5h0M265.0 235.8h0M268.9 236.5h0M271.1 236.0h0M271.2 236.5h0M272.3 235.6h0M277.4 236.2h0M277.5 235.6h0M278.4 235.9h0M280.2 236.4h0M280.4 236.2h0M281.9 235.5h0M283.7 236.1h0M285.8 236.4h0M285.8 236.4h0M287.1 236.1h0M288.6 236.0h0M290.9 235.7h0M291.9 236.4h0M292.5 236.4h0M293.1 235.9h0M293.8 236.5h0M293.8 236.4h0M296.2 235.6h0M296.8 235.8h0M299.8 236.3h0M300.7 236.1h0M302.5 236.1h0M306.4 236.5h0M308.1 236.1h0M308.3 236.1h0M309.6 236.3h0M313.5 236.3h0M317.0 235.5h0M317.7 236.3h0M318.4 236.4h0M321.7 236.4h0M323.7 236.4h0M326.9 236.2h0M333.2 236.0h0M227.7 237.2h0M235.9 236.7h0M238.8 236.5h0M241.4 236.7h0M243.4 236.6h0M247.1 236.6h0M248.3 237.5h0M250.8 237.1h0M252.4 236.8h0M253.1 237.0h0M257.3 236.5h0M258.5 237.5h0M258.8 236.7h0M260.8 236.9h0M261.0 237.1h0M261.9 237.3h0M264.3 236.5h0M266.2 236.7h0M267.2 236.7h0M271.8 237.0h0M272.0 237.0h0M272.9 237.1h0M273.7 236.8h0M275.2 236.8h0M275.7 236.8h0M275.7 237.3h0M275.7 236.6h0M276.0 237.0h0M276.1 236.6h0M278.4 236.8h0M278.4 236.6h0M279.5 237.2h0M280.9 237.1h0M280.9 237.0h0M281.6 237.5h0M282.9 237.0h0M284.1 236.6h0M286.3 237.0h0M286.8 237.0h0M287.5 237.4h0M288.3 236.7h0M290.3 236.8h0M291.3 237.2h0M293.3 236.6h0M293.5 237.2h0M293.9 237.1h0M294.3 236.9h0M294.3 237.4h0M294.5 236.7h0M295.7 236.7h0M298.1 237.0h0M298.7 236.6h0M300.2 236.9h0M302.7 236.9h0M306.1 236.6h0M307.8 236.7h0M314.9 237.4h0M316.2 236.8h0M317.1 236.7h0M317.5 237.2h0M320.9 237.0h0M323.0 237.3h0M325.4 237.2h0M228.2 237.7h0M233.6 238.2h0M244.9 238.0h0M247.2 238.4h0M250.1 238.4h0M252.4 238.3h0M256.6 238.3h0M257.2 237.5h0M258.1 237.8h0M259.5 237.8h0M261.1 238.3h0M261.4 238.0h0M262.7 238.2h0M262.9 238.0h0M264.7 238.1h0M264.9 237.8h0M265.3 237.7h0M265.5 237.6h0M267.5 237.5h0M268.6 238.2h0M270.9 237.9h0M270.9 237.8h0M271.2 238.3h0M273.4 238.1h0M274.2 237.7h0M274.9 238.4h0M275.1 238.4h0M275.7 237.8h0M277.5 238.4h0M277.7 237.6h0M278.1 238.5h0M278.4 238.2h0M278.8 237.8h0M279.2 237.8h0M279.5 238.2h0M280.2 238.0h0M280.2 237.6h0M280.5 237.9h0M280.6 238.5h0M280.6 238.0h0M281.5 237.5h0M282.7 237.8h0M283.4 237.7h0M283.8 237.6h0M284.1 238.0h0M285.8 238.4h0M286.6 237.7h0M287.4 237.6h0M287.8 237.7h0M288.8 237.9h0M288.9 238.2h0M289.4 237.7h0M291.9 237.9h0M293.5 238.3h0M294.0 238.1h0M294.5 238.0h0M295.5 237.5h0M296.5 238.2h0M297.2 237.6h0M301.2 237.7h0M306.4 238.3h0M306.9 238.2h0M308.4 238.5h0M308.7 238.2h0M309.0 238.3h0M309.9 237.9h0M313.5 237.6h0M314.2 238.2h0M318.2 237.9h0M318.8 237.6h0M320.0 238.5h0M216.7 239.4h0M232.7 238.7h0M234.4 239.5h0M234.7 238.6h0M236.7 239.3h0M244.3 239.1h0M246.7 239.1h0M247.3 239.3h0M248.8 239.3h0M250.5 239.4h0M252.0 239.4h0M252.6 238.9h0M253.9 239.5h0M255.8 239.4h0M257.4 238.7h0M257.7 239.0h0M258.0 239.1h0M258.9 239.0h0M260.3 239.3h0M263.7 239.2h0M265.0 238.9h0M265.7 238.9h0M265.8 239.4h0M266.1 239.2h0M269.9 239.4h0M270.3 238.7h0M271.7 239.1h0M273.1 238.5h0M273.5 238.8h0M273.6 238.5h0M274.8 239.4h0M275.9 239.1h0M276.1 239.3h0M276.3 238.6h0M276.8 239.3h0M277.3 239.3h0M280.3 238.6h0M281.7 238.9h0M282.4 239.2h0M282.8 238.7h0M283.3 239.5h0M286.6 239.2h0M287.0 239.4h0M288.1 238.8h0M288.5 239.1h0M288.5 238.9h0M290.2 239.4h0M290.9 238.7h0M291.2 239.5h0M292.3 239.4h0M292.4 238.8h0M292.7 238.6h0M293.1 239.3h0M293.1 239.5h0M294.0 239.3h0M294.2 238.7h0M295.3 238.9h0M295.3 239.0h0M295.8 238.9h0M296.4 239.1h0M300.7 238.9h0M301.8 239.4h0M302.3 238.8h0M302.4 238.9h0M303.5 239.3h0M305.0 239.5h0M307.0 239.0h0M308.3 239.4h0M309.7 239.3h0M311.1 238.8h0M311.4 238.8h0M316.7 239.3h0M321.0 238.5h0M329.4 238.9h0M342.7 238.8h0M224.2 240.3h0M229.1 239.8h0M235.5 239.9h0M237.3 239.7h0M239.1 240.3h0M240.3 240.3h0M244.3 240.0h0M245.6 240.1h0M251.5 239.7h0M254.1 240.2h0M257.9 240.5h0M258.5 239.8h0M261.4 239.9h0M265.3 240.2h0M265.4 240.1h0M266.9 240.1h0M267.7 239.8h0M268.5 239.5h0M269.1 239.8h0M270.1 240.0h0M271.3 239.9h0M272.7 239.5h0M273.2 239.8h0M273.3 239.9h0M273.7 240.2h0M274.6 239.9h0M274.9 239.8h0M276.6 239.9h0M276.7 240.1h0M279.1 240.2h0M279.2 239.6h0M279.5 239.6h0M279.5 240.3h0M279.6 239.6h0M279.8 240.2h0M281.0 239.8h0M282.1 240.3h0M282.3 239.9h0M283.8 240.2h0M285.5 240.0h0M285.6 239.7h0M285.7 240.4h0M286.9 240.3h0M292.4 239.7h0M292.9 239.9h0M293.6 240.2h0M293.7 240.3h0M293.7 239.7h0M293.8 240.5h0M294.3 239.9h0M294.8 240.2h0M295.0 239.5h0M297.4 240.1h0M297.9 239.8h0M300.3 239.9h0M300.3 239.9h0M304.2 240.1h0M306.3 239.6h0M309.7 239.7h0M310.9 240.4h0M311.3 239.9h0M311.7 240.4h0M315.0 240.5h0M323.3 239.9h0M334.0 240.1h0M334.8 239.7h0M232.5 241.1h0M234.4 241.3h0M240.3 241.3h0M243.3 240.6h0M246.7 240.9h0M247.1 241.2h0M247.7 241.3h0M252.9 241.1h0M257.1 240.9h0M257.8 241.4h0M258.7 240.5h0M258.7 241.0h0M259.4 241.4h0M259.5 241.4h0M260.1 241.3h0M261.2 241.3h0M263.2 241.3h0M263.5 240.5h0M263.7 241.3h0M264.6 241.3h0M264.7 241.0h0M264.8 240.8h0M264.8 240.9h0M266.9 240.7h0M266.9 241.5h0M269.8 241.3h0M269.9 241.5h0M270.2 241.5h0M270.2 240.9h0M273.0 241.5h0M273.7 240.5h0M274.5 241.3h0M274.6 241.3h0M275.8 240.9h0M276.6 241.3h0M277.0 241.2h0M277.4 241.1h0M277.8 240.8h0M278.3 240.5h0M278.5 240.8h0M279.1 241.4h0M279.6 240.8h0M280.4 241.3h0M281.0 241.3h0M281.0 240.5h0M281.1 241.2h0M283.4 240.8h0M284.1 241.0h0M287.8 241.0h0M289.7 241.3h0M293.2 241.4h0M293.4 240.6h0M294.7 241.2h0M295.6 240.7h0M296.1 241.4h0M296.4 241.1h0M296.6 241.3h0M296.8 241.3h0M299.0 240.9h0M299.2 241.2h0M299.9 240.7h0M300.7 241.0h0M300.8 241.2h0M301.7 240.8h0M304.9 241.4h0M305.2 240.5h0M308.6 241.0h0M309.2 240.6h0M313.3 241.4h0M313.7 240.9h0M238.2 241.7h0M238.4 242.2h0M241.3 242.3h0M242.0 242.1h0M242.2 242.4h0M243.6 242.0h0M244.7 241.6h0M246.1 241.6h0M247.0 242.4h0M248.9 241.8h0M249.7 242.5h0M255.2 241.9h0M255.7 242.3h0M257.0 242.2h0M258.4 241.6h0M259.2 242.2h0M259.3 241.8h0M259.9 242.4h0M261.1 242.1h0M262.1 241.8h0M264.6 241.7h0M264.9 242.1h0M265.8 242.1h0M266.5 242.0h0M266.8 241.6h0M267.3 242.0h0M267.9 241.6h0M268.4 241.8h0M268.7 242.5h0M270.8 242.3h0M270.9 241.8h0M271.5 242.0h0M272.5 242.1h0M273.1 241.6h0M273.3 241.6h0M274.6 241.6h0M276.5 242.1h0M278.9 242.4h0M279.1 241.8h0M279.5 241.9h0M279.7 242.1h0M279.9 241.6h0M282.3 241.8h0M284.2 241.5h0M285.2 242.2h0M286.3 241.8h0M289.7 242.5h0M289.7 242.0h0M291.0 241.7h0M291.4 242.2h0M293.9 241.5h0M294.0 242.1h0M295.3 242.0h0M296.4 242.4h0M298.4 241.5h0M299.4 242.2h0M299.6 241.5h0M300.4 242.0h0M302.3 242.0h0M303.0 241.9h0M306.3 242.5h0M306.7 241.7h0M318.1 242.1h0M225.2 243.0h0M231.4 243.4h0M233.6 242.6h0M235.5 242.6h0M235.5 243.5h0M238.1 242.8h0M240.5 242.8h0M244.1 242.5h0M244.5 243.1h0M245.0 243.0h0M245.1 243.5h0M245.5 242.8h0M245.8 243.2h0M246.3 243.4h0M247.1 243.5h0M248.3 242.9h0M249.5 243.5h0M252.3 242.7h0M253.1 242.5h0M255.4 242.9h0M256.0 243.0h0M257.0 243.1h0M257.6 242.6h0M259.1 243.5h0M262.2 242.6h0M262.8 242.5h0M262.9 243.2h0M264.0 243.4h0M264.6 243.2h0M265.9 242.6h0M267.3 243.3h0M267.4 243.2h0M269.0 243.3h0M270.3 243.0h0M270.4 243.2h0M270.4 242.5h0M272.0 242.6h0M272.6 243.1h0M273.3 242.7h0M273.4 242.7h0M273.9 243.4h0M274.2 243.1h0M274.9 242.6h0M275.9 242.9h0M278.1 242.7h0M278.1 243.2h0M279.9 242.8h0M280.8 242.5h0M281.6 243.0h0M283.9 242.7h0M284.7 242.7h0M284.8 243.1h0M287.2 242.8h0M289.2 242.8h0M290.3 242.7h0M291.5 242.8h0M291.8 242.7h0M292.1 242.9h0M293.9 242.6h0M298.2 243.4h0M298.4 242.9h0M301.3 243.4h0M301.6 242.5h0M303.6 243.4h0M303.8 243.2h0M305.3 242.7h0M306.5 243.0h0M224.4 244.0h0M225.3 244.3h0M232.7 244.2h0M232.7 244.2h0M239.7 244.2h0M239.8 244.4h0M243.1 243.7h0M251.2 244.5h0M256.0 244.2h0M256.8 244.1h0M257.4 244.0h0M259.1 243.5h0M259.1 244.0h0M263.5 244.3h0M263.8 243.9h0M264.9 243.6h0M265.0 243.8h0M265.5 244.2h0M265.7 244.4h0M266.4 244.1h0M266.8 244.1h0M267.6 244.2h0M268.4 243.9h0M269.8 243.9h0M271.7 244.1h0M271.8 243.6h0M272.9 244.3h0M274.3 243.9h0M274.7 244.3h0M275.5 244.1h0M275.5 244.0h0M278.8 244.2h0M280.3 244.0h0M281.2 243.9h0M282.2 244.3h0M287.5 244.2h0M287.6 244.1h0M288.9 243.7h0M289.1 243.8h0M290.7 244.0h0M292.8 243.6h0M292.9 244.0h0M293.4 244.4h0M293.7 244.1h0M294.1 244.4h0M294.7 244.3h0M295.5 243.9h0M295.6 244.0h0M298.2 244.0h0M298.3 243.9h0M299.0 244.4h0M302.4 244.1h0M304.6 244.1h0M222.9 244.5h0M227.0 245.5h0M238.6 245.3h0M239.3 245.5h0M239.4 245.1h0M244.5 244.8h0M244.9 245.0h0M245.6 244.9h0M252.8 244.6h0M253.0 245.2h0M258.3 245.0h0M258.5 245.0h0M260.7 245.3h0M263.0 245.0h0M264.9 244.9h0M265.3 244.7h0M265.6 245.3h0M265.8 245.4h0M266.3 244.6h0M267.0 245.2h0M267.9 245.2h0M269.5 245.4h0M270.3 244.7h0M271.5 245.3h0M272.1 245.5h0M272.6 244.6h0M274.5 244.5h0M276.6 245.3h0M276.6 244.6h0M277.0 244.7h0M278.8 245.0h0M279.6 245.0h0M280.2 244.7h0M280.2 245.2h0M280.3 244.6h0M280.4 245.4h0M282.7 245.3h0M283.4 245.0h0M284.4 244.8h0M285.3 244.9h0M286.4 245.4h0M287.0 245.3h0M288.1 245.2h0M290.7 245.4h0M291.1 245.5h0M292.5 244.6h0M295.7 244.5h0M297.6 245.5h0M299.2 245.3h0M300.2 245.3h0M302.5 244.8h0M303.4 244.9h0M306.6 244.5h0M307.6 245.5h0M307.9 244.5h0M312.6 245.0h0M320.1 245.4h0M326.4 245.4h0M348.6 245.3h0M213.5 246.3h0M222.8 246.4h0M227.6 246.0h0M231.5 245.7h0M231.6 245.8h0M232.1 246.5h0M233.2 245.6h0M233.8 246.0h0M233.9 245.5h0M239.4 245.6h0M241.7 245.5h0M244.5 246.0h0M249.1 246.4h0M249.6 246.0h0M250.0 245.9h0M250.8 245.6h0M252.6 246.3h0M254.0 246.3h0M254.1 245.8h0M255.0 246.2h0M256.4 246.1h0M257.7 245.8h0M257.9 245.9h0M259.0 245.7h0M259.9 246.0h0M262.0 246.1h0M263.1 245.7h0M263.5 245.9h0M264.2 245.7h0M265.0 246.4h0M265.8 245.7h0M267.5 245.6h0M268.1 246.4h0M268.8 245.9h0M269.1 245.5h0M271.2 246.4h0M272.8 245.8h0M275.2 245.5h0M275.2 246.2h0M276.4 246.2h0M276.5 245.9h0M276.5 245.9h0M279.8 245.9h0M280.7 246.2h0M281.1 245.8h0M282.3 246.2h0M283.9 246.0h0M284.3 245.8h0M285.0 246.4h0M285.0 246.3h0M285.3 246.0h0M286.7 246.5h0M286.7 246.2h0M286.9 245.6h0M287.2 245.5h0M288.1 246.1h0M288.8 245.5h0M288.8 246.2h0M288.9 245.7h0M291.1 246.0h0M291.3 246.0h0M295.0 246.1h0M296.5 246.1h0M297.8 245.9h0M298.9 245.6h0M304.3 246.4h0M308.0 245.5h0M309.2 246.3h0M313.8 246.4h0M329.7 246.2h0M332.7 246.1h0M336.5 245.5h0M343.4 245.5h0M202.8 246.9h0M228.4 246.6h0M229.5 246.6h0M236.3 247.5h0M236.5 247.2h0M243.2 247.3h0M244.2 247.2h0M244.3 246.7h0M245.0 247.2h0M245.2 247.4h0M247.3 246.7h0M249.0 246.6h0M250.9 247.3h0M254.1 247.0h0M257.0 247.0h0M257.4 246.6h0M258.4 247.4h0M259.1 246.8h0M260.5 247.1h0M261.1 247.1h0M261.1 247.2h0M261.6 247.2h0M261.9 247.1h0M262.7 247.3h0M263.1 247.0h0M263.2 247.2h0M263.2 247.5h0M264.7 247.3h0M264.7 247.1h0M265.1 247.3h0M266.2 247.4h0M266.4 246.6h0M266.5 247.1h0M267.2 247.0h0M267.9 246.7h0M270.3 246.8h0M273.8 247.4h0M273.8 246.6h0M274.9 247.4h0M276.0 247.4h0M276.0 247.5h0M277.5 246.6h0M277.7 247.3h0M280.4 247.3h0M282.4 246.7h0M282.8 247.1h0M284.0 247.3h0M284.2 246.8h0M285.2 247.4h0M285.3 246.6h0M286.8 247.1h0M286.9 247.3h0M289.3 247.4h0M290.6 247.2h0M295.6 247.5h0M296.5 247.1h0M298.1 247.4h0M299.8 247.1h0M301.5 247.1h0M304.4 247.3h0M305.5 246.6h0M310.4 247.4h0M311.4 246.7h0M315.2 246.5h0M316.6 247.0h0M317.7 247.3h0M318.3 247.0h0M330.2 247.4h0M229.1 247.9h0M231.2 248.2h0M232.1 248.3h0M234.0 248.4h0M235.3 248.5h0M236.0 247.6h0M243.7 248.5h0M245.9 247.7h0M246.7 247.7h0M248.1 248.3h0M249.0 248.2h0M253.3 247.7h0M253.4 247.7h0M256.4 247.8h0M256.6 248.0h0M257.0 247.8h0M257.9 248.0h0M258.3 248.0h0M259.0 247.8h0M259.6 247.7h0M260.1 248.2h0M260.1 248.2h0M261.4 247.8h0M261.4 248.5h0M261.7 248.2h0M261.7 247.9h0M261.8 247.8h0M263.5 247.8h0M264.3 248.5h0M266.2 248.0h0M266.8 248.4h0M269.0 248.0h0M270.5 248.2h0M275.4 248.5h0M275.6 247.8h0M275.7 248.2h0M275.8 248.2h0M276.5 247.6h0M278.5 248.1h0M279.5 247.6h0M280.4 248.1h0M281.5 248.2h0M281.9 248.0h0M282.3 247.7h0M284.1 248.2h0M284.8 247.8h0M285.1 247.8h0M285.3 247.6h0M287.4 247.5h0M290.5 247.6h0M290.7 247.6h0M291.3 248.0h0M293.0 247.7h0M293.1 247.6h0M293.2 247.8h0M293.5 247.7h0M295.6 248.5h0M296.3 248.4h0M298.7 247.7h0M303.7 247.8h0M306.1 248.0h0M311.0 247.6h0M312.0 247.9h0M331.9 248.3h0M218.5 249.5h0M223.7 248.8h0M235.6 249.5h0M235.8 249.4h0M237.4 249.1h0M241.2 249.4h0M241.2 249.1h0M241.5 248.9h0M245.6 249.1h0M248.5 248.8h0M250.3 249.4h0M250.9 249.4h0M251.2 249.0h0M251.9 248.6h0M254.8 249.1h0M255.4 248.7h0M255.6 248.8h0M255.9 249.2h0M256.0 249.1h0M259.0 248.7h0M259.9 248.7h0M260.9 249.1h0M260.9 249.4h0M261.5 248.7h0M262.9 249.2h0M263.0 249.3h0M264.6 248.9h0M265.1 249.2h0M265.3 248.7h0M265.9 249.2h0M266.5 249.4h0M267.2 249.4h0M268.6 248.9h0M270.0 249.2h0M271.3 249.3h0M272.3 249.4h0M275.2 248.8h0M276.9 248.8h0M278.0 249.0h0M278.3 248.7h0M278.5 249.4h0M278.7 249.0h0M279.1 249.1h0M281.7 248.7h0M284.0 249.4h0M284.4 249.0h0M284.5 249.2h0M285.4 248.5h0M288.4 248.7h0M289.4 248.9h0M292.3 249.4h0M298.4 249.1h0M305.9 249.2h0M307.6 249.4h0M314.4 248.5h0M318.9 249.4h0M327.7 249.4h0M225.2 249.8h0M230.1 250.4h0M230.6 250.1h0M232.1 249.6h0M232.7 250.2h0M235.2 249.8h0M239.9 250.4h0M241.6 250.2h0M242.5 249.6h0M243.3 250.3h0M245.6 250.0h0M246.3 249.7h0M246.4 250.2h0M246.7 249.9h0M247.5 249.9h0M248.0 250.4h0M248.1 250.4h0M248.5 250.2h0M249.4 249.7h0M250.1 249.7h0M255.3 250.4h0M255.7 250.3h0M256.1 250.0h0M258.3 250.4h0M259.0 250.1h0M259.6 249.5h0M260.3 249.5h0M260.4 249.9h0M261.2 250.5h0M261.5 249.5h0M264.0 249.9h0M264.2 249.7h0M264.3 250.2h0M264.5 249.5h0M264.8 250.2h0M264.8 249.6h0M265.0 250.2h0M265.3 249.9h0M265.9 249.8h0M266.9 249.8h0M269.0 250.2h0M269.2 249.7h0M269.2 249.6h0M271.8 249.5h0M273.3 249.5h0M274.9 249.9h0M275.1 249.9h0M276.6 249.7h0M277.1 249.9h0M278.0 250.3h0M281.3 249.9h0M281.6 250.5h0M282.3 249.9h0M282.5 250.4h0M284.6 250.1h0M285.3 249.6h0M291.2 250.4h0M291.2 250.2h0M291.4 249.9h0M294.3 250.4h0M294.5 250.0h0M295.6 250.2h0M298.6 250.3h0M298.7 249.9h0M299.4 250.0h0M300.9 249.9h0M301.3 250.0h0M307.0 249.8h0M309.0 249.5h0M320.0 249.6h0M321.3 250.1h0M321.8 249.7h0M330.9 250.4h0M220.4 250.9h0M222.6 250.9h0M226.8 251.0h0M227.4 251.3h0M239.3 251.0h0M241.9 250.6h0M242.3 250.9h0M243.7 250.5h0M244.7 251.2h0M245.8 251.0h0M246.0 251.2h0M248.1 251.4h0M248.6 250.5h0M248.8 251.0h0M248.9 250.6h0M252.4 250.7h0M252.5 250.9h0M253.0 251.2h0M253.6 250.9h0M257.0 250.7h0M257.7 250.5h0M258.2 251.2h0M258.5 251.1h0M258.8 251.4h0M261.4 250.8h0M262.2 250.8h0M264.3 251.4h0M265.0 250.7h0M265.5 251.2h0M266.4 251.0h0M266.5 251.2h0M269.5 250.6h0M269.9 251.5h0M271.2 250.8h0M272.0 250.8h0M273.7 251.3h0M274.0 250.6h0M274.5 250.8h0M275.6 251.1h0M281.1 251.4h0M281.5 251.2h0M281.5 250.9h0M282.0 251.2h0M282.2 251.3h0M282.7 251.4h0M283.2 251.4h0M289.8 251.1h0M290.7 251.1h0M293.6 251.1h0M293.7 251.3h0M296.5 251.3h0M298.0 250.6h0M302.6 251.2h0M302.9 251.1h0M306.8 251.1h0M307.9 250.6h0M312.0 250.8h0M314.0 251.2h0M320.7 250.8h0M337.3 250.8h0M230.3 252.2h0M230.7 251.8h0M232.0 251.5h0M236.1 252.4h0M236.2 251.7h0M236.3 251.6h0M236.4 252.1h0M237.1 252.4h0M237.6 251.5h0M240.9 252.2h0M242.3 251.8h0M242.9 252.0h0M243.4 252.5h0M245.5 252.5h0M245.7 251.5h0M247.0 251.8h0M247.3 251.6h0M247.6 252.4h0M247.7 251.8h0M249.7 251.9h0M250.3 251.5h0M250.9 252.3h0M253.4 252.0h0M254.5 251.9h0M255.1 251.7h0M256.7 252.2h0M256.9 251.7h0M257.2 252.4h0M258.4 252.3h0M259.3 252.0h0M262.0 251.6h0M262.3 251.7h0M262.9 251.8h0M263.1 251.9h0M265.8 251.8h0M266.4 252.4h0M266.8 252.4h0M267.7 252.2h0M267.9 251.5h0M270.7 252.4h0M271.6 252.3h0M271.6 251.8h0M273.4 252.4h0M273.6 251.7h0M275.2 251.5h0M280.2 251.5h0M281.8 252.0h0M282.3 252.4h0M282.4 252.3h0M282.9 252.3h0M283.5 251.7h0M284.0 252.4h0M284.1 252.3h0M285.5 252.2h0M287.5 251.9h0M289.3 252.3h0M291.3 252.5h0M292.4 252.3h0M293.7 251.5h0M294.6 251.6h0M296.8 252.1h0M297.4 252.4h0M298.5 251.9h0M305.3 251.8h0M309.6 252.1h0M312.5 252.1h0M315.0 251.7h0M319.2 252.1h0M325.0 251.9h0M327.8 251.6h0M222.7 252.6h0M228.1 252.6h0M238.6 253.3h0M244.1 252.7h0M245.9 252.9h0M246.0 253.2h0M247.9 253.2h0M249.9 253.1h0M250.6 253.3h0M252.9 253.2h0M253.0 253.5h0M253.3 253.2h0M255.9 252.5h0M256.4 252.6h0M261.2 252.9h0M261.4 252.7h0M261.6 252.9h0M263.1 252.6h0M263.2 253.0h0M263.3 253.5h0M266.6 253.3h0M268.9 252.7h0M269.2 253.4h0M273.5 253.1h0M274.8 252.8h0M276.3 253.2h0M278.3 252.7h0M280.3 253.3h0M280.9 252.9h0M281.3 252.6h0M282.0 253.1h0M282.4 252.7h0M285.0 253.1h0M296.9 252.8h0M297.8 253.1h0M298.0 252.9h0M304.2 253.1h0M304.3 253.2h0M304.8 252.7h0M308.4 252.8h0M214.6 254.1h0M214.9 254.2h0M217.6 253.6h0M234.7 254.2h0M238.2 253.7h0M240.5 254.0h0M240.8 254.2h0M247.0 254.4h0M247.0 253.9h0M248.4 253.9h0M250.8 254.0h0M250.8 253.6h0M251.0 254.1h0M252.1 254.0h0M252.4 254.1h0M253.9 254.2h0M255.9 254.0h0M256.0 254.4h0M256.0 254.1h0M256.3 254.4h0M257.1 253.9h0M259.3 253.6h0M259.3 254.5h0M259.3 254.4h0M259.6 253.6h0M260.0 253.9h0M260.7 254.2h0M260.8 254.2h0M262.9 254.4h0M263.1 254.2h0M263.3 254.1h0M264.0 253.8h0M264.3 254.4h0M264.5 253.8h0M265.2 254.2h0M266.2 253.5h0M266.5 253.9h0M268.1 253.6h0M268.3 254.1h0M268.6 253.9h0M269.0 253.7h0M270.8 253.6h0M270.9 254.3h0M271.3 254.1h0M271.4 253.8h0M271.4 254.1h0M276.3 253.7h0M276.6 253.8h0M277.2 253.9h0M277.8 254.3h0M279.6 254.2h0M279.7 254.1h0M281.4 254.5h0M284.0 254.4h0M285.1 254.5h0M285.3 253.9h0M286.1 253.5h0M286.2 254.3h0M301.3 254.3h0M303.0 254.1h0M306.7 254.2h0M345.8 253.5h0M225.6 255.0h0M228.8 254.7h0M228.9 254.9h0M240.0 254.8h0M241.9 255.0h0M246.3 255.1h0M247.0 254.7h0M247.5 255.2h0M248.1 255.2h0M251.1 255.4h0M251.3 255.0h0M251.5 255.4h0M251.8 254.5h0M252.0 255.2h0M252.7 254.8h0M254.1 254.6h0M255.0 254.7h0M255.6 254.5h0M258.2 254.5h0M259.0 254.5h0M260.6 255.1h0M262.8 254.7h0M263.0 255.4h0M264.0 255.4h0M268.0 254.9h0M269.0 254.9h0M269.1 255.4h0M269.2 254.7h0M271.2 255.4h0M273.2 254.7h0M277.1 254.5h0M277.6 255.0h0M284.2 254.6h0M287.0 255.3h0M287.1 255.4h0M288.6 254.9h0M288.8 254.6h0M290.0 254.6h0M298.4 255.2h0M300.5 254.8h0M301.5 254.9h0M310.1 254.9h0M226.1 256.5h0M227.2 255.7h0M234.9 255.7h0M236.0 255.6h0M239.3 256.2h0M243.4 255.5h0M244.9 255.7h0M247.4 256.1h0M248.5 256.5h0M248.9 256.3h0M255.0 256.0h0M255.2 256.0h0M255.3 255.7h0M255.9 255.6h0M256.5 256.5h0M259.2 256.4h0M260.5 255.8h0M260.9 255.8h0M261.1 255.8h0M261.4 255.8h0M261.4 256.3h0M261.5 256.5h0M263.5 256.1h0M266.8 255.7h0M267.0 256.1h0M267.7 256.1h0M267.8 256.0h0M267.9 255.6h0M268.6 255.8h0M268.9 256.1h0M269.0 256.0h0M273.0 255.9h0M273.2 255.9h0M274.7 256.1h0M275.1 255.5h0M276.0 255.9h0M277.0 256.1h0M278.4 256.3h0M281.0 256.0h0M287.4 256.4h0M287.8 255.8h0M290.6 255.9h0M290.9 256.0h0M291.7 255.7h0M292.1 255.9h0M293.3 256.1h0M293.8 256.4h0M295.2 256.2h0M295.2 255.6h0M296.2 255.8h0M296.3 256.0h0M302.7 256.1h0M307.9 255.8h0M308.5 256.0h0M311.7 255.6h0M312.8 256.4h0M314.9 255.8h0M350.4 255.8h0M229.1 257.4h0M229.7 257.1h0M234.3 256.9h0M235.6 256.9h0M239.7 256.8h0M245.7 257.3h0M248.0 256.8h0M248.3 256.8h0M249.0 257.4h0M250.3 257.4h0M252.5 256.7h0M253.3 257.1h0M253.7 257.0h0M254.3 257.4h0M254.3 257.4h0M257.5 257.0h0M259.0 256.5h0M261.3 256.9h0M261.4 257.2h0M261.5 257.0h0M261.7 256.5h0M262.0 257.3h0M262.7 257.0h0M263.1 256.9h0M263.2 256.5h0M263.3 257.3h0M263.4 257.3h0M263.9 257.3h0M265.0 256.9h0M265.0 257.2h0M270.3 257.2h0M272.4 256.8h0M272.5 257.4h0M274.1 256.9h0M274.1 257.0h0M274.2 256.5h0M275.0 256.9h0M276.6 256.7h0M276.6 257.1h0M278.9 256.9h0M279.3 256.9h0M279.8 257.1h0M281.5 257.4h0M283.8 257.2h0M284.7 256.6h0M285.9 256.7h0M287.0 257.2h0M287.3 256.8h0M287.8 257.2h0M290.0 257.4h0M291.3 256.6h0M291.5 257.2h0M292.3 257.2h0M294.7 257.0h0M295.2 257.4h0M298.8 257.0h0M299.0 257.1h0M299.5 257.3h0M311.6 257.0h0M218.8 257.9h0M223.6 257.7h0M226.2 258.2h0M229.6 257.8h0M235.4 257.9h0M240.3 257.6h0M242.4 258.0h0M246.0 257.5h0M246.3 257.7h0M246.4 258.0h0M247.3 258.4h0M250.8 258.2h0M253.7 257.6h0M253.9 258.1h0M255.3 257.8h0M255.7 258.3h0M256.6 257.6h0M256.9 258.0h0M257.0 257.5h0M257.1 257.9h0M259.4 258.2h0M259.9 257.6h0M260.4 257.9h0M260.9 258.5h0M261.0 257.6h0M262.2 258.4h0M262.4 258.2h0M263.1 258.2h0M263.5 258.4h0M267.3 258.4h0M267.5 258.1h0M268.4 258.1h0M268.9 257.7h0M269.9 258.5h0M270.1 257.6h0M270.6 258.0h0M270.6 258.4h0M271.6 258.2h0M274.7 258.0h0M276.0 258.1h0M276.7 258.0h0M277.3 258.1h0M277.8 258.1h0M278.1 258.3h0M278.3 257.7h0M279.0 257.7h0M279.3 258.4h0M280.5 258.0h0M284.8 257.7h0M286.4 257.5h0M286.9 257.7h0M289.6 257.9h0M290.8 257.9h0M291.3 258.4h0M293.0 257.6h0M295.4 257.9h0M296.4 258.4h0M298.2 257.7h0M300.6 258.5h0M333.4 258.4h0M344.3 257.9h0M224.0 259.2h0M237.3 259.5h0M242.4 259.1h0M243.3 259.2h0M244.7 259.4h0M245.5 258.6h0M247.2 259.4h0M249.1 258.8h0M250.2 258.8h0M250.9 258.6h0M251.2 258.9h0M251.4 258.9h0M251.5 259.0h0M253.0 258.5h0M253.4 258.6h0M254.1 259.2h0M256.6 258.6h0M256.9 258.9h0M257.2 258.5h0M257.8 259.4h0M258.0 259.5h0M258.9 259.1h0M259.1 259.0h0M259.6 259.1h0M260.6 259.0h0M261.5 259.5h0M262.1 259.0h0M264.1 259.1h0M265.1 258.6h0M267.5 258.9h0M267.8 259.0h0M269.4 259.5h0M271.9 259.3h0M273.0 258.8h0M273.9 259.4h0M274.3 259.0h0M276.0 258.9h0M277.9 258.6h0M279.0 258.6h0M279.6 258.5h0M281.0 258.8h0M284.6 258.6h0M285.8 259.1h0M287.3 258.6h0M288.7 258.7h0M289.1 258.8h0M289.9 258.8h0M291.1 259.2h0M295.3 259.5h0M301.3 258.9h0M301.9 258.9h0M302.0 259.3h0M302.5 259.2h0M304.9 259.3h0M306.5 259.0h0M309.6 258.9h0M314.1 258.9h0M314.3 258.9h0M323.7 259.0h0M208.4 259.6h0M224.9 260.5h0M226.4 259.8h0M229.9 260.4h0M230.0 259.6h0M230.9 260.4h0M231.5 260.2h0M233.4 260.4h0M238.1 259.8h0M241.0 260.3h0M242.4 260.3h0M243.0 259.8h0M243.8 259.9h0M245.2 259.7h0M245.9 260.2h0M246.4 260.1h0M246.5 260.2h0M247.0 259.9h0M247.5 260.0h0M248.0 259.6h0M249.4 259.7h0M250.4 260.2h0M251.7 260.3h0M254.1 259.6h0M254.9 260.2h0M255.0 260.5h0M255.4 260.5h0M255.5 259.7h0M258.0 259.5h0M258.6 259.9h0M259.8 260.4h0M260.5 259.5h0M262.2 260.4h0M263.1 259.6h0M263.9 259.7h0M264.5 259.8h0M267.1 260.3h0M268.0 260.4h0M268.3 260.3h0M268.6 260.3h0M269.5 259.9h0M270.0 260.4h0M270.1 260.4h0M271.4 260.2h0M272.8 259.7h0M273.3 259.6h0M273.6 259.8h0M275.3 259.5h0M275.9 259.7h0M276.4 259.5h0M277.3 260.2h0M277.5 260.4h0M277.6 260.1h0M278.0 259.5h0M278.1 260.3h0M278.3 260.3h0M280.4 260.5h0M281.3 259.6h0M281.9 259.5h0M284.7 259.7h0M285.1 260.3h0M285.1 260.1h0M287.4 260.2h0M289.7 260.3h0M290.0 260.0h0M291.2 259.7h0M296.8 259.8h0M298.9 259.9h0M299.3 259.6h0M304.5 260.2h0M310.3 260.3h0M316.7 260.1h0M324.3 259.7h0M331.1 260.2h0M347.2 260.0h0M219.7 260.8h0M227.0 260.7h0M228.9 261.2h0M232.5 261.0h0M233.0 260.6h0M234.6 260.8h0M236.8 260.8h0M240.2 260.6h0M240.8 261.3h0M245.9 260.8h0M248.5 261.1h0M248.9 261.3h0M249.8 261.4h0M254.7 260.9h0M256.7 260.6h0M257.8 260.9h0M259.9 261.3h0M260.5 260.7h0M260.8 260.8h0M261.5 260.5h0M261.7 261.0h0M262.2 260.7h0M263.0 260.6h0M265.1 260.5h0M266.2 260.9h0M268.2 261.4h0M269.7 261.3h0M270.1 261.4h0M270.1 260.5h0M270.6 260.9h0M271.4 260.6h0M272.2 260.8h0M272.3 261.3h0M272.3 260.6h0M273.4 260.8h0M273.6 261.2h0M273.7 261.2h0M274.0 260.6h0M274.4 260.5h0M276.0 261.2h0M278.3 261.4h0M278.6 260.9h0M279.1 261.0h0M281.6 260.8h0M281.9 260.8h0M282.0 261.5h0M282.5 261.0h0M284.6 260.8h0M289.8 260.7h0M292.9 260.9h0M293.4 260.7h0M294.7 261.0h0M297.3 260.7h0M299.1 260.9h0M300.6 261.3h0M302.5 260.8h0M330.4 261.4h0M211.2 262.2h0M223.3 261.9h0M230.1 261.8h0M233.3 261.7h0M233.6 262.3h0M233.7 261.9h0M235.2 262.1h0M237.4 261.7h0M238.6 262.2h0M239.2 261.7h0M240.5 262.3h0M240.5 262.2h0M242.4 262.3h0M245.9 261.6h0M247.3 262.0h0M247.4 262.0h0M248.9 261.7h0M249.3 261.7h0M252.0 261.6h0M252.0 262.0h0M253.5 261.6h0M253.5 262.5h0M254.6 261.7h0M255.1 262.1h0M255.2 262.4h0M256.3 261.7h0M256.8 262.2h0M257.2 262.2h0M257.4 262.2h0M257.8 262.2h0M258.3 262.1h0M259.8 261.8h0M262.3 262.0h0M264.0 261.7h0M264.9 261.9h0M265.0 262.0h0M265.9 262.2h0M266.7 261.7h0M266.9 262.5h0M269.8 261.5h0M269.8 262.0h0M271.5 262.3h0M271.8 262.0h0M273.9 262.3h0M274.4 261.7h0M277.4 262.4h0M277.5 261.6h0M277.7 261.7h0M278.7 262.1h0M283.8 262.5h0M286.0 261.9h0M286.8 261.9h0M290.0 262.3h0M290.2 262.1h0M290.4 261.9h0M290.7 261.7h0M290.8 261.7h0M291.1 262.1h0M294.1 261.8h0M298.4 262.2h0M309.8 261.6h0M313.6 261.9h0M324.9 262.0h0M333.7 261.6h0M387.7 261.9h0M199.9 262.8h0M219.8 263.1h0M219.9 262.5h0M229.1 262.9h0M230.5 262.8h0M233.4 263.2h0M236.0 263.2h0M239.8 262.9h0M241.5 262.8h0M242.4 263.1h0M244.6 263.3h0M245.2 262.9h0M245.4 263.2h0M247.0 263.0h0M249.0 263.1h0M250.7 262.9h0M250.7 263.0h0M250.9 262.5h0M251.4 262.7h0M251.7 263.0h0M254.6 262.6h0M255.5 262.9h0M255.7 263.4h0M256.5 263.1h0M257.7 263.1h0M259.7 263.0h0M259.9 262.6h0M263.8 263.1h0M264.5 263.1h0M265.4 263.1h0M266.2 263.0h0M266.8 263.0h0M267.4 263.4h0M267.8 263.4h0M268.5 263.2h0M269.3 262.7h0M269.6 262.8h0M269.7 262.6h0M270.2 262.9h0M271.0 263.2h0M271.5 263.0h0M271.8 262.8h0M272.1 263.0h0M275.2 262.8h0M275.9 262.6h0M277.1 263.5h0M277.3 262.7h0M277.9 262.8h0M284.1 262.6h0M292.4 263.4h0M300.6 262.7h0M303.8 263.4h0M304.6 263.4h0M309.1 262.9h0M320.6 262.8h0M211.8 264.4h0M220.6 264.4h0M227.0 264.2h0M227.6 263.7h0M229.7 263.7h0M231.8 264.0h0M232.9 264.4h0M236.6 264.2h0M239.9 264.3h0M242.3 263.6h0M243.6 264.2h0M244.0 263.6h0M244.7 264.0h0M251.4 263.6h0M251.6 264.5h0M252.4 264.4h0M253.7 263.7h0M254.5 263.6h0M256.2 264.2h0M256.4 263.6h0M256.4 264.1h0M256.9 263.9h0M258.2 263.5h0M258.3 264.0h0M258.5 263.6h0M260.9 263.5h0M262.3 264.0h0M262.7 263.6h0M263.3 264.1h0M263.7 264.3h0M264.5 263.7h0M265.0 263.9h0M267.2 264.0h0M270.3 263.9h0M274.0 264.0h0M274.9 264.0h0M277.2 263.8h0M279.5 263.8h0M281.0 263.6h0M283.1 263.8h0M287.7 263.7h0M291.8 263.8h0M295.1 264.3h0M296.3 264.2h0M300.6 264.0h0M301.2 263.6h0M301.8 264.5h0M302.4 263.8h0M323.7 263.8h0M338.6 263.9h0M225.6 265.4h0M227.3 264.8h0M228.5 265.4h0M231.6 265.3h0M231.7 264.7h0M233.0 265.1h0M234.0 264.6h0M235.6 265.0h0M237.6 265.3h0M241.9 265.4h0M242.3 264.6h0M245.5 265.0h0M245.6 265.5h0M246.4 265.0h0M246.5 265.1h0M246.6 264.7h0M248.8 265.5h0M249.0 265.1h0M249.2 265.3h0M249.5 264.8h0M249.7 265.1h0M251.5 265.1h0M252.3 265.0h0M256.4 264.5h0M257.8 265.1h0M258.2 265.0h0M259.0 265.1h0M259.6 265.2h0M259.9 265.2h0M261.1 265.0h0M262.4 265.4h0M263.1 264.5h0M263.1 265.3h0M263.4 264.9h0M263.7 264.5h0M266.2 265.1h0M266.2 264.8h0M268.4 265.0h0M270.1 264.7h0M271.7 264.6h0M271.7 264.7h0M273.9 264.9h0M276.8 265.1h0M279.8 265.3h0M280.4 265.2h0M284.6 265.0h0M292.2 265.3h0M293.3 265.2h0M299.7 264.7h0M311.2 265.2h0M312.5 265.4h0M328.5 265.4h0M211.2 265.9h0M224.2 266.0h0M227.8 266.5h0M228.1 266.1h0M232.2 265.7h0M233.6 266.1h0M234.9 265.6h0M236.2 266.2h0M236.3 266.1h0M237.6 266.4h0M239.2 266.1h0M242.3 265.7h0M242.9 266.0h0M242.9 265.5h0M244.3 266.4h0M245.5 266.3h0M247.0 266.1h0M248.1 266.1h0M251.2 265.8h0M251.3 266.0h0M252.2 266.0h0M253.7 265.9h0M256.5 266.0h0M259.0 266.0h0M260.5 265.5h0M260.8 265.8h0M261.3 266.4h0M261.8 266.0h0M262.5 266.1h0M262.9 266.4h0M264.4 266.4h0M265.8 266.2h0M267.7 266.2h0M268.2 266.3h0M268.9 265.6h0M269.4 265.6h0M269.9 266.4h0M270.2 265.8h0M273.3 265.8h0M276.6 265.7h0M276.9 265.6h0M278.5 266.2h0M282.8 266.4h0M284.1 266.3h0M288.0 266.2h0M288.0 266.4h0M289.8 265.8h0M291.8 266.5h0M293.9 266.5h0M299.4 266.2h0M299.8 266.0h0M308.8 265.7h0M315.6 266.2h0M323.2 266.0h0M327.5 265.8h0M218.9 266.5h0M226.9 267.2h0M231.7 266.8h0M232.3 267.0h0M234.3 266.6h0M236.6 267.1h0M237.5 267.0h0M239.7 266.8h0M239.9 267.2h0M240.5 266.9h0M242.3 267.1h0M243.8 266.8h0M244.2 267.2h0M245.8 266.9h0M247.8 267.1h0M249.4 267.1h0M250.8 266.8h0M250.8 267.4h0M251.4 267.1h0M253.0 266.6h0M253.7 266.6h0M254.5 267.3h0M254.5 267.3h0M254.6 266.9h0M256.7 266.5h0M258.9 267.2h0M259.7 266.7h0M262.9 266.6h0M264.1 267.0h0M264.3 267.3h0M264.6 266.9h0M264.8 267.2h0M265.1 266.8h0M266.2 266.8h0M266.2 266.7h0M266.7 266.6h0M268.2 267.4h0M273.1 267.0h0M273.1 267.0h0M276.8 266.8h0M277.0 267.4h0M278.6 266.7h0M278.8 266.8h0M281.2 266.9h0M286.7 267.0h0M287.9 266.9h0M294.4 266.7h0M295.1 267.1h0M297.3 267.0h0M298.9 267.5h0M299.8 266.9h0M310.8 267.3h0M225.6 267.9h0M226.2 267.6h0M228.9 267.7h0M237.1 267.6h0M237.5 268.1h0M238.9 267.8h0M240.2 268.2h0M241.2 267.9h0M242.4 267.8h0M242.6 268.5h0M246.9 268.1h0M247.2 268.1h0M248.8 268.2h0M249.6 268.0h0M250.1 268.1h0M254.3 267.9h0M255.6 267.6h0M256.5 267.6h0M256.7 267.5h0M257.1 267.9h0M257.6 268.5h0M258.6 267.8h0M258.8 267.6h0M258.9 267.7h0M259.2 267.9h0M260.3 268.0h0M261.1 267.6h0M261.9 268.0h0M262.6 267.9h0M263.8 268.0h0M264.6 267.6h0M265.5 268.3h0M265.6 268.3h0M266.2 268.3h0M267.2 268.4h0M267.9 267.8h0M269.3 268.3h0M269.6 268.3h0M273.6 268.0h0M276.0 268.4h0M279.2 268.1h0M279.6 267.9h0M281.7 268.5h0M283.1 268.2h0M285.1 268.2h0M285.8 267.9h0M288.3 268.4h0M288.7 267.9h0M290.8 268.3h0M292.7 267.9h0M293.4 267.6h0M294.0 268.3h0M298.9 267.6h0M304.8 268.3h0M306.6 268.3h0M313.6 268.2h0M313.7 268.3h0M317.5 268.5h0M319.1 268.1h0M321.8 267.6h0M324.5 268.4h0M372.4 267.6h0M208.8 269.2h0M220.3 269.5h0M225.3 269.4h0M227.8 269.5h0M228.6 269.1h0M228.8 269.4h0M231.1 269.2h0M237.1 268.7h0M238.0 268.7h0M240.5 268.6h0M240.7 268.7h0M240.9 269.0h0M241.9 269.2h0M242.5 268.7h0M244.7 269.2h0M244.8 269.3h0M245.4 268.7h0M245.6 269.4h0M246.3 269.4h0M248.3 268.8h0M250.8 268.5h0M255.1 269.4h0M255.9 269.3h0M257.7 268.8h0M258.4 268.6h0M258.5 269.3h0M259.2 269.2h0M259.6 269.3h0M260.8 269.4h0M262.2 269.4h0M262.3 269.5h0M262.4 268.7h0M264.4 268.6h0M266.4 268.5h0M267.3 269.5h0M268.6 269.1h0M269.1 268.9h0M270.9 269.5h0M272.1 269.2h0M272.9 269.2h0M278.1 269.3h0M279.2 269.3h0M281.9 268.6h0M282.3 269.2h0M282.5 269.2h0M289.4 269.4h0M295.9 269.4h0M296.5 269.4h0M298.2 269.2h0M298.4 269.3h0M302.3 269.1h0M302.8 268.6h0M325.1 268.5h0M221.3 270.2h0M223.8 270.3h0M231.3 270.2h0M232.2 269.7h0M232.4 270.3h0M235.2 269.8h0M235.3 270.1h0M237.2 269.6h0M237.5 270.0h0M239.3 269.9h0M241.7 270.4h0M242.0 270.4h0M242.3 270.5h0M243.4 269.5h0M245.3 269.7h0M247.2 269.8h0M248.9 270.3h0M250.6 269.9h0M250.7 270.4h0M252.9 270.3h0M255.3 270.5h0M256.7 270.2h0M257.1 270.2h0M257.5 269.8h0M261.0 270.4h0M261.1 270.1h0M262.8 270.2h0M264.4 269.7h0M265.0 270.0h0M266.7 270.1h0M266.8 270.0h0M267.0 269.7h0M270.8 270.0h0M272.4 269.8h0M272.8 270.3h0M276.0 270.1h0M276.9 270.0h0M278.9 270.2h0M279.3 269.8h0M287.7 269.6h0M292.6 270.5h0M296.6 270.2h0M296.8 269.6h0M296.9 270.3h0M297.9 269.6h0M311.7 270.0h0M327.8 269.9h0M191.0 271.0h0M199.7 271.0h0M203.7 270.7h0M214.0 271.1h0M216.6 271.3h0M221.6 270.9h0M222.0 271.3h0M223.4 271.4h0M227.7 271.0h0M232.3 271.4h0M233.3 271.2h0M233.9 270.7h0M234.9 270.9h0M235.3 270.8h0M241.9 270.6h0M242.5 270.7h0M242.9 271.3h0M242.9 270.8h0M243.7 271.0h0M245.4 271.3h0M246.7 271.2h0M248.2 270.6h0M248.6 270.9h0M249.5 271.1h0M250.0 270.5h0M250.6 270.7h0M251.4 270.5h0M252.7 270.7h0M252.9 270.8h0M253.2 271.1h0M256.1 271.2h0M256.6 270.6h0M257.0 271.3h0M259.0 270.8h0M260.3 270.7h0M260.4 271.4h0M261.8 270.7h0M261.8 271.4h0M262.0 270.6h0M262.1 271.1h0M266.1 270.7h0M267.2 271.4h0M267.8 271.1h0M269.3 271.0h0M270.3 271.5h0M272.5 271.3h0M273.2 270.8h0M273.5 271.4h0M275.4 271.4h0M276.7 271.4h0M278.3 271.3h0M286.8 270.7h0M290.4 270.6h0M295.9 271.1h0M296.5 271.1h0M297.9 271.0h0M303.2 271.0h0M323.7 270.8h0M332.3 271.3h0M216.7 272.3h0M226.6 271.8h0M227.0 272.1h0M228.3 272.2h0M233.9 272.4h0M234.6 271.8h0M239.2 272.0h0M239.3 271.7h0M242.2 272.1h0M243.5 272.4h0M244.8 271.9h0M245.5 271.5h0M245.8 271.9h0M248.1 271.9h0M250.2 271.9h0M250.6 271.7h0M251.0 272.2h0M252.6 271.6h0M254.5 272.5h0M256.3 271.8h0M257.5 271.6h0M260.3 272.5h0M260.8 271.8h0M262.0 272.2h0M262.2 271.6h0M262.2 272.1h0M262.5 271.6h0M262.6 271.9h0M263.6 272.0h0M263.7 272.4h0M264.0 271.9h0M265.1 271.6h0M266.0 272.0h0M266.7 272.4h0M267.2 271.8h0M267.3 272.3h0M268.5 272.3h0M269.6 272.2h0M271.1 271.9h0M272.8 272.4h0M276.1 271.9h0M277.6 271.9h0M282.4 272.3h0M283.2 271.9h0M283.3 271.9h0M284.4 272.2h0M287.3 271.8h0M289.9 272.1h0M290.5 271.9h0M290.8 271.8h0M296.6 271.8h0M297.5 271.7h0M305.5 272.0h0M314.8 272.3h0M358.1 272.2h0M208.1 273.3h0M208.7 273.2h0M214.4 272.8h0M218.0 273.5h0M221.8 272.7h0M222.0 273.4h0M227.3 273.0h0M232.5 272.9h0M236.4 272.9h0M240.8 272.5h0M242.3 273.2h0M243.0 273.1h0M246.5 272.8h0M247.0 272.8h0M248.8 273.3h0M250.0 272.9h0M251.0 272.7h0M251.0 273.1h0M251.3 272.6h0M252.0 273.0h0M252.1 273.1h0M252.9 273.5h0M253.4 272.6h0M255.9 273.0h0M257.8 272.6h0M260.3 272.7h0M261.1 272.7h0M261.2 273.0h0M262.2 273.0h0M262.2 272.9h0M263.1 273.0h0M263.4 272.7h0M265.1 272.8h0M266.3 272.6h0M266.7 272.7h0M267.9 272.7h0M268.3 273.1h0M269.2 273.1h0M271.0 273.3h0M272.6 272.5h0M277.6 273.1h0M277.8 273.4h0M280.1 273.3h0M281.8 273.0h0M282.6 272.8h0M292.8 273.4h0M293.9 273.2h0M324.3 272.7h0M212.3 274.1h0M221.6 274.5h0M224.2 274.1h0M225.5 273.6h0M226.0 273.5h0M227.3 273.7h0M229.3 273.7h0M230.4 273.8h0M231.7 274.0h0M233.7 274.2h0M235.7 273.9h0M236.8 273.9h0M236.8 274.4h0M237.4 273.7h0M240.1 273.7h0M240.6 273.8h0M243.5 273.6h0M243.7 274.0h0M244.7 273.5h0M245.9 273.9h0M247.3 273.9h0M247.4 274.2h0M247.5 274.1h0M248.8 274.3h0M249.4 273.8h0M255.0 273.7h0M255.1 273.7h0M256.6 274.1h0M257.0 274.3h0M258.0 274.3h0M258.3 273.6h0M258.8 273.6h0M260.6 274.4h0M260.7 274.1h0M260.7 274.4h0M262.3 273.7h0M262.8 273.7h0M263.3 274.1h0M264.1 273.7h0M266.4 273.6h0M266.6 273.7h0M267.9 274.3h0M270.6 273.9h0M270.9 274.0h0M272.0 274.4h0M275.2 273.6h0M275.4 274.0h0M277.2 273.8h0M279.1 274.1h0M286.5 273.6h0M287.1 273.7h0M289.9 273.7h0M296.2 274.2h0M297.8 273.9h0M298.7 273.9h0M299.4 273.8h0M300.0 273.6h0M302.9 273.7h0M304.4 274.0h0M313.9 273.8h0M315.2 274.4h0M316.1 274.1h0M324.3 274.4h0M339.3 273.6h0M340.4 273.8h0M210.0 275.4h0M218.0 274.8h0M223.9 275.5h0M225.6 274.8h0M227.5 275.4h0M231.5 275.4h0M234.0 275.1h0M235.9 274.8h0M236.4 275.1h0M237.5 275.1h0M240.9 274.7h0M241.8 275.2h0M243.2 274.7h0M243.3 274.5h0M246.3 275.3h0M251.0 275.2h0M251.5 275.2h0M255.2 274.9h0M255.2 274.9h0M255.4 274.8h0M255.9 275.4h0M256.3 274.7h0M257.1 274.6h0M257.1 275.3h0M257.2 275.2h0M258.3 275.3h0M259.4 275.1h0M259.9 275.4h0M261.1 275.0h0M261.1 274.6h0M261.8 274.7h0M262.6 275.3h0M264.1 275.3h0M266.2 274.9h0M266.8 275.1h0M268.0 274.9h0M269.2 274.7h0M270.3 274.9h0M270.8 275.0h0M271.0 274.7h0M272.6 274.7h0M275.5 274.6h0M275.5 274.6h0M276.6 274.7h0M282.7 274.8h0M283.2 275.1h0M286.1 274.8h0M288.3 275.4h0M296.3 275.0h0M296.5 275.3h0M298.8 275.3h0M300.8 275.0h0M303.1 274.7h0M305.4 274.6h0M306.5 275.5h0M322.5 275.4h0M222.9 275.7h0M224.0 275.5h0M224.8 276.3h0M225.2 276.2h0M225.6 275.9h0M228.9 276.1h0M229.3 276.5h0M230.4 276.5h0M235.4 276.1h0M236.5 276.0h0M237.7 276.0h0M239.8 276.0h0M240.9 275.8h0M244.4 276.3h0M246.0 276.0h0M246.7 275.8h0M247.3 276.4h0M247.4 276.2h0M248.2 275.9h0M248.8 275.5h0M249.2 275.9h0M249.3 276.0h0M249.5 275.5h0M250.5 275.6h0M252.3 275.7h0M252.7 276.0h0M255.5 276.0h0M259.8 275.7h0M262.0 276.5h0M262.4 276.2h0M263.3 275.5h0M263.4 276.0h0M263.9 276.2h0M265.7 276.2h0M265.9 276.0h0M270.1 275.8h0M273.1 275.9h0M273.3 276.0h0M273.4 276.2h0M273.7 275.7h0M276.2 275.8h0M283.5 276.1h0M284.9 276.3h0M288.3 275.7h0M289.4 276.5h0M291.5 275.8h0M295.4 275.9h0M295.8 276.1h0M298.7 276.4h0M303.3 276.4h0M309.0 276.1h0M310.0 275.8h0M310.3 276.2h0M312.3 275.9h0M320.0 275.9h0M341.9 275.9h0M209.2 277.1h0M219.2 276.6h0M221.3 276.9h0M223.3 277.5h0M228.5 276.7h0M229.4 276.6h0M232.2 277.2h0M234.0 277.3h0M235.0 277.1h0M236.6 277.2h0M242.0 276.7h0M242.5 276.9h0M245.2 277.0h0M248.3 276.6h0M248.7 277.2h0M250.6 276.5h0M253.0 276.6h0M254.2 277.4h0M254.3 277.4h0M254.5 276.7h0M255.9 277.3h0M256.7 277.3h0M258.3 276.6h0M260.0 276.9h0M261.8 277.3h0M262.8 277.3h0M264.0 277.3h0M264.2 277.0h0M264.3 277.2h0M267.0 277.4h0M267.3 277.5h0M268.5 277.2h0M269.1 277.4h0M272.0 276.6h0M272.5 276.6h0M277.2 277.2h0M278.0 276.7h0M282.0 277.4h0M282.7 277.3h0M292.5 277.1h0M307.2 277.2h0M309.6 277.0h0M309.8 276.5h0M324.9 277.0h0M220.0 277.5h0M225.2 278.0h0M228.5 278.3h0M229.0 277.6h0M230.3 277.9h0M234.6 278.1h0M235.2 277.9h0M236.3 278.1h0M238.0 278.3h0M240.7 277.9h0M247.6 278.4h0M248.1 277.8h0M249.4 277.9h0M250.5 277.8h0M254.9 277.6h0M255.3 278.2h0M259.0 277.9h0M263.0 278.2h0M263.7 277.6h0M266.1 277.7h0M267.4 277.8h0M268.2 278.1h0M270.0 278.3h0M271.9 277.9h0M274.6 277.5h0M275.9 278.4h0M280.3 277.8h0M284.0 278.4h0M286.0 278.1h0M287.9 278.1h0M290.7 277.6h0M318.9 277.7h0M198.5 279.3h0M207.9 279.2h0M214.5 279.1h0M225.4 279.2h0M225.5 279.0h0M225.5 278.6h0M229.9 278.9h0M231.6 279.2h0M236.1 278.9h0M236.8 278.9h0M241.4 278.6h0M243.4 278.8h0M247.9 279.0h0M250.7 278.6h0M250.7 279.1h0M252.1 279.0h0M254.3 278.8h0M254.8 278.6h0M257.0 278.8h0M259.7 278.8h0M262.6 279.5h0M264.6 279.0h0M266.2 278.8h0M268.2 278.8h0M270.0 279.3h0M270.5 279.2h0M272.5 278.9h0M273.9 278.9h0M274.1 279.1h0M275.4 279.3h0M276.8 279.4h0M279.9 279.0h0M285.7 278.9h0M286.2 278.7h0M289.1 279.2h0M293.2 278.8h0M299.3 278.6h0M307.4 278.9h0M312.6 279.1h0M313.8 278.8h0M317.3 279.1h0M332.6 279.1h0M334.2 278.8h0M198.0 280.2h0M209.1 280.4h0M215.2 279.7h0M219.0 279.7h0M222.6 279.7h0M227.3 279.8h0M229.4 279.9h0M231.1 280.3h0M232.8 280.3h0M236.5 279.8h0M237.3 279.7h0M238.0 279.7h0M240.3 280.2h0M242.2 279.8h0M245.5 280.0h0M246.1 279.8h0M247.0 280.4h0M248.2 279.8h0M249.5 280.0h0M249.8 279.6h0M250.7 279.7h0M251.6 280.3h0M251.6 280.1h0M252.0 279.6h0M253.7 280.5h0M254.2 280.0h0M256.6 280.2h0M257.2 280.5h0M257.6 280.0h0M259.0 279.5h0M260.2 279.6h0M260.5 279.8h0M262.5 280.5h0M266.0 279.9h0M267.1 279.9h0M270.9 280.3h0M276.2 280.2h0M279.6 279.9h0M280.7 279.6h0M281.7 280.4h0M284.3 280.4h0M288.0 280.1h0M289.9 279.6h0M292.8 279.6h0M294.2 279.8h0M305.6 280.1h0M315.7 279.8h0M354.7 280.5h0M183.6 281.4h0M207.4 281.4h0M209.1 281.3h0M211.1 281.1h0M213.1 280.8h0M218.8 280.9h0M223.3 280.7h0M229.1 280.9h0M229.5 281.1h0M230.6 281.2h0M232.1 281.4h0M232.2 280.8h0M234.3 280.8h0M234.4 281.4h0M240.4 281.2h0M240.5 280.5h0M245.6 280.7h0M245.7 281.0h0M247.0 281.4h0M247.4 281.3h0M248.8 281.4h0M248.8 281.2h0M251.1 281.5h0M251.2 281.4h0M255.8 280.7h0M256.7 281.0h0M257.5 280.5h0M257.7 281.4h0M258.1 281.0h0M259.1 280.5h0M260.4 281.2h0M260.7 280.7h0M262.2 280.6h0M262.6 280.9h0M262.9 280.6h0M263.3 280.8h0M264.0 281.2h0M266.5 280.7h0M267.5 281.0h0M268.3 281.1h0M272.2 281.2h0M272.5 281.2h0M275.8 280.8h0M280.3 281.3h0M281.0 281.0h0M281.2 281.1h0M282.2 281.5h0M285.5 281.0h0M287.6 280.7h0M291.6 281.1h0M297.2 280.8h0M297.7 280.7h0M301.9 280.9h0M309.2 281.1h0M321.3 281.3h0M323.6 281.4h0M330.8 281.2h0M209.8 282.0h0M211.0 282.2h0M216.2 282.2h0M226.9 282.3h0M229.1 281.9h0M232.5 282.5h0M236.8 281.7h0M238.9 281.5h0M241.9 282.0h0M242.5 282.0h0M243.1 281.5h0M246.5 282.0h0M246.9 281.7h0M247.4 282.0h0M248.4 282.5h0M251.1 282.1h0M253.2 282.5h0M253.9 281.8h0M254.8 281.9h0M256.4 282.0h0M265.8 282.5h0M266.5 282.3h0M267.1 282.4h0M268.3 281.7h0M270.3 281.9h0M277.5 281.5h0M283.8 282.1h0M283.9 282.5h0M285.2 281.9h0M285.3 282.0h0M285.8 281.7h0M289.9 281.8h0M290.7 281.9h0M293.5 281.6h0M296.9 282.3h0M307.9 282.2h0M318.4 281.6h0M202.4 283.0h0M211.2 283.0h0M219.4 283.2h0M220.8 283.5h0M228.7 283.3h0M233.7 282.7h0M234.0 282.8h0M235.1 282.8h0M235.9 282.9h0M241.1 283.4h0M242.3 283.3h0M243.1 283.5h0M244.4 282.5h0M244.6 282.8h0M244.8 283.3h0M245.0 282.7h0M245.8 283.1h0M246.5 282.8h0M247.2 283.3h0M248.5 282.8h0M249.1 282.5h0M250.2 283.1h0M251.2 282.7h0M254.3 282.9h0M256.6 282.9h0M258.1 282.9h0M263.6 283.2h0M263.8 283.3h0M265.4 282.8h0M267.1 282.6h0M268.5 283.1h0M268.8 282.8h0M271.3 283.0h0M272.5 283.2h0M277.6 282.6h0M278.5 282.8h0M278.8 282.5h0M279.7 283.4h0M282.0 283.2h0M282.2 283.1h0M283.5 282.5h0M285.4 282.9h0M290.4 282.5h0M291.3 282.8h0M291.6 282.8h0M291.6 282.6h0M293.1 283.5h0M295.0 283.1h0M321.8 283.5h0M204.5 284.0h0M207.0 283.8h0M211.1 283.9h0M222.1 284.5h0M225.5 284.1h0M228.9 283.7h0M231.0 284.5h0M234.3 284.4h0M240.2 284.1h0M241.0 283.6h0M242.3 283.6h0M243.0 283.6h0M244.6 284.0h0M245.0 284.3h0M245.5 283.8h0M245.6 283.6h0M248.5 284.2h0M248.7 284.3h0M255.0 284.1h0M255.8 283.7h0M256.5 284.3h0M259.8 283.7h0M260.2 284.1h0M261.6 283.7h0M264.5 284.0h0M265.7 284.3h0M266.7 284.0h0M269.3 284.4h0M269.7 283.8h0M270.1 283.7h0M270.1 284.1h0M270.3 283.5h0M271.9 284.2h0M272.4 284.4h0M273.5 283.9h0M273.5 283.6h0M275.1 284.2h0M275.2 284.3h0M275.9 284.3h0M279.3 283.8h0M282.4 283.9h0M284.8 284.3h0M286.4 284.4h0M292.0 284.2h0M292.8 284.2h0M308.4 283.9h0M316.5 283.5h0M327.6 283.7h0M227.6 285.5h0M227.9 285.5h0M228.4 285.2h0M228.4 284.5h0M236.2 285.1h0M239.7 285.0h0M244.4 284.7h0M245.6 285.2h0M247.6 285.4h0M248.3 285.3h0M249.1 284.8h0M249.3 284.6h0M249.8 285.3h0M250.4 285.2h0M250.8 284.5h0M252.3 285.0h0M252.8 285.0h0M252.9 285.3h0M252.9 285.1h0M253.4 284.8h0M254.0 284.6h0M256.8 284.7h0M258.7 285.5h0M264.8 285.3h0M267.1 284.7h0M267.4 284.7h0M274.8 285.2h0M278.6 284.9h0M280.5 284.8h0M281.6 284.8h0M285.5 284.8h0M288.8 285.0h0M289.4 284.5h0M292.7 284.9h0M293.3 284.5h0M295.4 285.0h0M297.6 284.8h0M301.4 284.6h0M309.3 284.7h0M312.8 285.4h0M315.8 285.1h0M323.6 284.9h0M334.6 285.1h0M187.6 286.0h0M212.1 285.9h0M212.6 286.0h0M213.9 286.1h0M215.7 285.5h0M215.8 285.8h0M224.9 286.3h0M225.3 285.8h0M226.2 286.3h0M226.3 285.9h0M226.6 286.1h0M227.5 286.1h0M232.7 286.1h0M238.2 286.4h0M243.9 286.4h0M250.3 285.5h0M258.6 286.1h0M258.7 285.9h0M259.7 286.3h0M260.6 285.7h0M262.1 286.0h0M262.4 286.1h0M263.1 286.3h0M264.8 286.5h0M265.2 286.2h0M267.2 285.7h0M267.9 286.2h0M270.9 286.3h0M273.2 285.9h0M276.2 286.2h0M279.3 285.9h0M279.3 286.5h0M282.3 285.8h0M290.2 286.2h0M291.1 286.0h0M295.0 285.7h0M210.8 287.2h0M216.1 286.7h0M217.2 287.4h0M222.4 287.2h0M222.8 286.8h0M225.9 287.2h0M234.9 287.2h0M235.0 286.6h0M236.0 286.9h0M238.7 287.3h0M244.2 286.7h0M244.8 287.0h0M245.1 287.4h0M246.7 287.4h0M247.4 287.4h0M247.5 287.1h0M247.6 287.1h0M248.1 287.3h0M249.4 286.9h0M250.7 287.4h0M251.8 287.0h0M255.9 286.7h0M259.1 287.4h0M259.9 287.2h0M261.7 287.1h0M264.5 286.7h0M265.2 287.1h0M265.6 287.0h0M270.9 286.6h0M271.5 287.4h0M272.2 287.0h0M272.7 287.2h0M273.0 287.1h0M279.1 286.9h0M279.4 286.6h0M285.4 286.7h0M292.2 286.9h0M299.9 286.8h0M305.5 286.7h0M307.9 287.0h0M313.8 286.8h0M317.0 286.6h0M205.0 288.3h0M212.2 288.2h0M217.7 288.4h0M221.9 288.4h0M224.0 288.1h0M224.5 287.5h0M234.0 288.2h0M235.4 288.4h0M236.7 288.1h0M236.9 287.8h0M237.3 287.9h0M237.7 288.0h0M240.1 287.9h0M243.4 287.7h0M243.5 287.5h0M244.6 287.8h0M246.0 287.9h0M250.3 287.7h0M250.3 288.1h0M251.3 288.0h0M253.2 288.2h0M253.6 287.7h0M255.7 288.0h0M257.0 288.1h0M258.0 287.9h0M258.9 288.1h0M259.6 287.9h0M260.6 287.8h0M261.0 288.4h0M261.9 287.6h0M267.0 288.2h0M269.7 287.8h0M277.1 288.2h0M280.6 288.0h0M281.6 287.6h0M281.9 287.5h0M285.3 288.2h0M291.3 287.8h0M297.8 288.1h0M298.2 287.7h0M330.8 287.6h0M218.2 289.4h0M221.3 288.7h0M221.5 288.6h0M225.2 289.4h0M230.7 289.1h0M230.9 288.9h0M231.6 288.9h0M234.6 289.5h0M235.9 289.3h0M236.5 288.6h0M241.8 289.5h0M242.0 289.0h0M244.7 289.0h0M249.3 288.8h0M250.5 289.2h0M250.9 289.2h0M251.4 288.6h0M252.5 288.8h0M253.3 289.2h0M256.6 289.2h0M261.0 289.3h0M264.1 289.4h0M264.4 289.1h0M265.6 289.3h0M267.0 288.7h0M267.0 288.8h0M269.0 289.4h0M270.7 289.5h0M274.0 288.7h0M278.2 289.0h0M282.1 288.8h0M285.2 289.2h0M285.7 289.2h0M287.4 288.9h0M296.5 289.3h0M297.6 289.3h0M299.0 289.4h0M300.9 288.5h0M305.8 289.5h0M306.2 289.0h0M312.6 288.6h0M314.8 289.4h0M204.0 289.6h0M213.6 289.7h0M215.7 290.0h0M216.8 290.1h0M222.9 290.3h0M223.4 290.4h0M229.2 290.2h0M230.5 290.4h0M231.1 290.2h0M232.8 289.9h0M232.9 290.1h0M236.1 289.8h0M241.4 290.0h0M241.9 289.8h0M243.4 290.5h0M245.2 289.5h0M245.5 290.1h0M246.4 289.7h0M248.1 289.5h0M249.5 290.0h0M251.5 290.1h0M252.2 290.0h0M253.5 289.6h0M253.5 290.3h0M255.4 289.9h0M256.0 290.1h0M256.8 290.3h0M258.6 290.3h0M258.9 290.4h0M261.4 290.2h0M263.9 289.8h0M266.8 290.3h0M267.1 289.8h0M267.1 290.4h0M268.0 289.7h0M270.3 289.8h0M270.8 289.6h0M272.3 289.7h0M274.6 289.5h0M275.2 290.5h0M275.6 290.1h0M276.0 289.6h0M281.9 290.0h0M283.4 290.3h0M283.5 290.0h0M293.1 289.5h0M301.2 289.9h0M304.9 289.9h0M309.1 289.8h0M309.8 290.3h0M313.3 289.7h0M324.2 290.0h0M325.1 289.8h0M188.6 291.1h0M208.9 290.8h0M217.0 291.1h0M220.9 291.3h0M225.5 290.8h0M226.4 290.9h0M226.6 290.6h0M227.5 290.7h0M229.7 290.7h0M238.3 291.0h0M242.9 290.8h0M243.1 290.8h0M246.9 290.9h0M249.9 291.5h0M254.5 291.4h0M254.9 290.7h0M257.1 290.9h0M259.0 291.1h0M260.1 291.0h0M260.1 290.5h0M261.2 291.0h0M261.6 290.8h0M262.4 290.7h0M262.6 290.8h0M263.3 291.5h0M263.4 291.4h0M264.2 290.8h0M269.1 291.2h0M273.4 291.3h0M275.8 291.4h0M278.5 291.2h0M280.6 290.9h0M282.9 291.0h0M298.2 290.9h0M298.4 291.2h0M300.6 291.3h0M304.7 290.6h0M306.6 290.6h0M308.1 291.2h0M318.5 290.5h0M342.1 290.8h0M200.4 292.0h0M215.2 291.9h0M216.7 291.8h0M222.2 292.4h0M225.2 291.7h0M226.0 291.6h0M226.3 292.2h0M226.9 292.1h0M228.0 292.3h0M230.1 291.6h0M231.5 292.3h0M233.7 292.0h0M235.5 292.0h0M237.6 291.9h0M240.3 292.2h0M241.1 291.7h0M241.5 292.3h0M242.1 292.5h0M242.7 292.1h0M244.3 291.5h0M246.3 292.3h0M246.6 291.8h0M248.8 291.8h0M251.3 291.5h0M251.9 292.1h0M253.5 291.6h0M254.2 291.7h0M255.0 292.4h0M255.5 291.8h0M256.4 291.9h0M258.5 291.5h0M259.3 292.0h0M260.8 292.0h0M261.2 292.3h0M262.1 292.2h0M265.9 291.7h0M269.1 291.6h0M270.3 291.9h0M270.4 291.7h0M271.3 291.9h0M272.4 291.8h0M272.6 291.9h0M276.4 291.5h0M277.0 291.7h0M277.3 291.7h0M277.5 291.6h0M281.2 291.7h0M288.7 292.2h0M290.5 292.3h0M291.5 292.2h0M295.6 292.2h0M296.3 292.0h0M299.7 292.1h0M327.2 292.0h0M201.4 293.5h0M206.8 293.4h0M208.8 293.3h0M209.7 293.3h0M213.8 293.5h0M214.2 292.7h0M215.1 293.0h0M215.8 292.9h0M221.1 293.0h0M221.8 292.5h0M233.2 293.1h0M238.2 293.5h0M238.8 292.8h0M239.2 292.7h0M243.8 293.3h0M245.0 292.8h0M250.9 293.3h0M251.4 292.6h0M252.0 293.1h0M252.0 293.0h0M254.4 292.8h0M264.3 292.6h0M266.8 292.9h0M267.2 292.7h0M267.6 292.6h0M268.9 293.5h0M269.5 292.6h0M272.9 292.8h0M278.7 293.3h0M279.6 293.3h0M286.0 293.0h0M287.2 292.7h0M287.2 293.0h0M287.8 293.2h0M301.9 293.2h0M325.4 292.5h0M346.9 293.1h0M203.9 293.8h0M207.6 294.2h0M210.1 294.1h0M211.7 294.2h0M214.1 293.9h0M225.4 294.0h0M232.0 294.4h0M232.6 293.7h0M233.5 294.2h0M234.8 294.1h0M237.0 293.8h0M241.5 294.1h0M241.8 294.1h0M244.5 294.3h0M244.9 293.9h0M246.9 294.3h0M249.4 294.3h0M249.6 293.6h0M250.6 293.6h0M252.9 293.6h0M253.1 293.7h0M254.5 294.2h0M255.1 294.1h0M258.2 294.2h0M258.6 294.3h0M260.0 294.5h0M264.4 294.2h0M266.6 294.0h0M268.6 294.2h0M270.1 293.5h0M273.9 294.1h0M278.0 294.4h0M278.9 294.4h0M283.9 294.0h0M291.4 294.1h0M294.7 293.5h0M296.5 294.4h0M305.1 293.7h0M309.3 294.2h0M316.5 294.2h0M199.1 295.4h0M200.5 294.6h0M212.1 294.9h0M218.6 294.7h0M219.1 294.9h0M219.4 295.3h0M220.4 294.5h0M220.6 295.5h0M222.7 294.8h0M224.6 294.9h0M226.8 295.1h0M227.0 295.1h0M229.7 295.4h0M231.3 294.7h0M232.4 295.1h0M233.7 295.1h0M233.8 294.8h0M235.7 294.9h0M237.1 295.1h0M238.2 294.8h0M239.6 294.6h0M243.0 294.6h0M243.7 295.3h0M244.3 294.9h0M245.8 294.6h0M246.0 294.8h0M249.2 295.3h0M253.4 294.8h0M253.5 295.1h0M256.9 294.8h0M261.7 294.8h0M262.5 295.2h0M265.4 294.8h0M268.1 295.2h0M271.2 294.9h0M274.2 295.2h0M283.0 294.7h0M283.1 294.6h0M283.7 294.9h0M285.9 295.4h0M287.0 294.8h0M292.1 295.0h0M293.2 294.8h0M298.9 294.7h0M299.2 294.7h0M305.1 295.1h0M311.7 295.1h0M319.1 295.3h0M319.4 295.1h0M186.9 295.6h0M196.7 296.4h0M201.3 295.9h0M202.6 295.7h0M207.4 295.8h0M210.1 296.3h0M210.6 296.4h0M211.8 295.5h0M212.6 295.9h0M222.0 296.0h0M228.8 296.0h0M230.0 295.6h0M232.1 295.6h0M232.1 296.5h0M232.7 296.4h0M236.8 296.4h0M238.2 296.2h0M238.7 296.2h0M240.2 295.6h0M241.8 296.3h0M243.5 296.4h0M243.7 296.2h0M245.1 295.7h0M245.6 296.0h0M246.9 296.3h0M248.8 296.2h0M249.3 295.7h0M250.3 296.3h0M252.3 295.8h0M254.8 296.2h0M256.8 295.7h0M259.1 296.3h0M260.2 295.6h0M262.2 295.7h0M262.7 295.8h0M269.1 295.8h0M269.7 295.8h0M272.1 296.0h0M288.1 295.9h0M294.1 296.1h0M299.1 296.5h0M303.4 296.3h0M306.2 296.5h0M321.7 296.1h0M331.8 296.1h0M366.4 296.4h0M191.0 297.5h0M198.8 296.9h0M204.0 297.4h0M206.8 296.6h0M207.2 296.7h0M210.1 297.3h0M216.4 296.8h0M221.0 296.7h0M222.6 296.5h0M224.3 296.9h0M227.2 296.7h0M228.6 296.7h0M237.4 296.7h0M238.6 296.5h0M240.1 297.3h0M240.3 296.7h0M244.7 297.0h0M245.5 297.3h0M245.6 297.4h0M246.5 296.7h0M251.5 297.3h0M251.9 297.3h0M252.1 296.6h0M253.7 297.1h0M254.2 296.7h0M255.7 297.1h0M257.2 296.8h0M258.5 296.8h0M258.7 297.5h0M260.8 297.3h0M261.6 297.4h0M262.3 297.3h0M264.5 297.1h0M265.2 297.0h0M265.2 297.1h0M266.0 297.1h0M267.6 297.2h0M267.7 297.3h0M268.0 297.5h0M269.6 297.5h0M271.3 296.6h0M273.6 296.7h0M276.3 296.8h0M279.6 296.6h0M282.1 297.4h0M283.5 297.1h0M290.3 297.4h0M295.0 296.6h0M297.9 297.4h0M189.4 298.5h0M193.8 297.7h0M201.1 297.9h0M208.3 297.8h0M213.5 297.7h0M214.9 298.1h0M217.7 297.7h0M218.9 297.9h0M219.5 297.7h0M220.4 298.4h0M222.5 298.4h0M230.1 298.4h0M230.6 298.1h0M231.4 298.1h0M236.3 298.4h0M241.8 298.2h0M246.6 297.9h0M249.6 297.9h0M250.0 297.6h0M254.0 298.3h0M255.5 298.4h0M257.4 298.2h0M259.0 297.7h0M265.0 298.1h0M268.1 298.1h0M268.9 297.6h0M269.1 297.8h0M269.9 297.9h0M271.4 298.3h0M272.6 298.2h0M273.5 298.1h0M275.6 298.5h0M277.4 298.1h0M278.1 298.4h0M289.3 297.7h0M299.8 297.8h0M305.9 297.9h0M307.8 298.0h0M309.8 298.5h0M344.1 297.8h0M194.5 298.7h0M198.1 299.0h0M200.6 298.6h0M203.9 299.4h0M210.3 299.3h0M219.2 298.7h0M219.4 298.7h0M224.1 299.3h0M224.6 299.4h0M226.1 299.4h0M232.5 299.2h0M234.3 298.6h0M234.3 299.2h0M234.7 298.6h0M235.8 298.6h0M236.4 298.9h0M237.6 298.9h0M239.1 299.1h0M242.4 298.7h0M242.8 299.2h0M245.4 299.0h0M246.1 299.4h0M247.0 299.0h0M247.4 299.2h0M247.9 298.9h0M249.9 299.1h0M251.0 299.2h0M252.9 299.1h0M256.7 298.7h0M258.7 298.7h0M266.3 298.8h0M266.7 299.2h0M271.6 299.0h0M274.1 298.9h0M276.2 298.6h0M277.3 298.8h0M280.2 299.2h0M291.0 299.4h0M316.9 299.3h0M199.4 300.0h0M202.9 300.4h0M209.3 299.6h0M212.6 300.3h0M215.2 299.6h0M218.0 299.7h0M220.7 299.9h0M223.4 300.2h0M223.8 300.4h0M238.2 299.9h0M242.3 300.3h0M244.7 299.6h0M246.4 300.0h0M247.2 299.9h0M247.3 299.9h0M247.7 299.7h0M248.3 300.4h0M249.7 299.7h0M250.1 300.3h0M255.5 299.8h0M256.9 299.7h0M257.8 300.0h0M258.1 300.2h0M258.1 299.9h0M259.0 299.5h0M259.5 300.0h0M262.8 300.1h0M265.8 299.5h0M266.1 299.6h0M266.9 300.0h0M273.6 300.0h0M275.4 299.8h0M278.1 300.4h0M280.0 300.1h0M284.5 300.1h0M298.0 300.3h0M326.8 300.3h0M337.0 299.8h0M201.9 301.3h0M207.5 300.9h0M211.9 300.6h0M219.3 301.0h0M222.8 300.8h0M232.8 300.9h0M235.5 300.5h0M237.6 300.5h0M237.7 301.4h0M238.4 301.1h0M249.1 301.4h0M251.7 300.7h0M256.1 301.1h0M260.7 300.8h0M262.0 301.2h0M263.0 301.5h0M266.4 300.8h0M266.9 301.5h0M270.4 300.7h0M292.1 300.9h0M299.0 301.0h0M303.5 300.9h0M187.0 302.1h0M192.7 301.8h0M193.4 301.7h0M194.3 301.7h0M205.4 301.8h0M206.2 301.6h0M208.2 301.9h0M209.3 301.6h0M210.8 301.8h0M212.3 301.7h0M214.6 302.4h0M215.5 302.5h0M216.3 302.2h0M224.5 301.9h0M228.6 302.0h0M233.7 302.0h0M235.3 301.7h0M238.9 301.7h0M243.9 301.7h0M247.9 302.1h0M250.8 301.6h0M252.4 302.4h0M264.5 302.3h0M265.7 301.5h0M284.3 301.6h0M305.0 302.4h0M306.4 301.7h0M322.4 302.0h0M326.5 301.9h0M192.9 303.1h0M195.4 303.0h0M195.7 302.9h0M199.2 303.0h0M200.0 303.3h0M201.3 302.7h0M201.6 303.3h0M216.2 303.0h0M218.9 303.0h0M219.5 302.8h0M225.6 303.2h0M229.0 303.3h0M233.4 303.3h0M234.1 303.4h0M237.4 303.2h0M240.6 303.0h0M252.2 302.9h0M253.4 303.2h0M256.8 302.9h0M260.7 302.7h0M262.0 303.1h0M262.2 303.0h0M263.4 303.1h0M267.5 303.1h0M268.1 303.0h0M269.1 303.0h0M271.8 303.1h0M272.7 303.2h0M279.2 302.7h0M282.6 303.3h0M298.7 302.9h0M302.3 302.8h0M307.1 303.2h0M322.9 302.9h0M203.7 303.9h0M206.8 303.7h0M208.7 303.9h0M221.2 303.7h0M223.5 303.9h0M224.4 303.7h0M224.6 304.0h0M225.7 303.5h0M229.6 304.3h0M230.7 304.2h0M230.7 303.8h0M231.9 303.9h0M235.4 304.0h0M237.6 303.9h0M239.4 303.8h0M240.0 303.8h0M241.8 304.3h0M242.5 303.5h0M246.1 304.4h0M246.9 304.1h0M248.1 304.3h0M249.5 303.9h0M250.4 304.3h0M251.6 304.5h0M253.0 303.7h0M255.3 304.4h0M255.7 303.8h0M257.2 304.3h0M258.4 303.8h0M261.4 304.0h0M269.2 304.1h0M272.3 303.8h0M272.4 304.4h0M272.9 304.0h0M273.3 303.9h0M273.4 304.0h0M274.4 304.4h0M279.7 303.6h0M285.3 304.3h0M291.9 303.7h0M296.5 304.0h0M297.6 304.0h0M199.6 305.4h0M206.3 305.5h0M206.8 305.2h0M207.2 305.5h0M211.0 305.5h0M211.4 304.5h0M213.1 304.7h0M213.2 305.4h0M215.2 304.6h0M217.9 305.3h0M218.5 305.2h0M222.1 304.9h0M225.6 304.7h0M225.9 305.5h0M230.9 305.5h0M231.7 304.6h0M232.9 305.3h0M233.0 305.3h0M240.1 305.3h0M240.3 305.4h0M241.8 304.6h0M246.9 304.8h0M248.1 305.1h0M254.9 304.5h0M254.9 304.5h0M255.2 305.3h0M258.2 305.0h0M260.4 304.9h0M260.8 304.6h0M263.7 305.2h0M266.5 304.7h0M268.9 305.5h0M269.5 305.5h0M275.3 304.7h0M277.1 305.4h0M278.4 305.1h0M283.0 304.9h0M286.9 305.3h0M294.5 305.4h0M296.9 304.6h0M299.6 305.2h0M301.4 305.2h0M316.1 304.8h0M195.6 305.7h0M203.3 305.8h0M208.5 305.6h0M208.6 306.0h0M215.4 306.1h0M219.1 306.3h0M221.7 306.3h0M222.2 305.9h0M224.9 306.0h0M226.5 305.6h0M230.6 306.2h0M236.5 305.7h0M237.9 305.9h0M238.9 305.9h0M239.1 305.8h0M241.7 305.9h0M244.0 305.7h0M246.5 305.8h0M248.3 305.7h0M249.7 305.7h0M251.4 306.2h0M252.6 306.0h0M265.9 305.6h0M270.2 305.7h0M277.4 306.3h0M278.2 305.8h0M278.5 305.9h0M284.6 305.9h0M284.9 306.0h0M285.0 305.8h0M287.2 305.5h0M291.4 306.0h0M317.1 306.1h0M187.9 306.8h0M189.8 306.8h0M204.4 306.6h0M204.6 306.6h0M210.3 306.5h0M211.5 307.2h0M215.4 306.7h0M216.1 307.0h0M217.2 307.2h0M219.4 307.0h0M219.7 306.7h0M220.7 307.0h0M233.9 307.3h0M237.2 307.3h0M238.8 306.6h0M239.0 306.5h0M239.6 307.0h0M240.3 307.3h0M242.4 307.1h0M245.8 307.0h0M248.0 307.2h0M250.2 307.4h0M252.5 307.5h0M254.1 306.8h0M254.3 307.3h0M258.0 307.0h0M263.0 307.1h0M266.8 306.7h0M270.1 306.9h0M272.0 306.6h0M275.4 306.7h0M276.2 307.5h0M280.1 307.1h0M297.4 307.1h0M300.8 306.6h0M306.1 306.8h0M325.0 306.9h0M199.0 308.2h0M203.9 308.1h0M208.6 308.0h0M210.1 307.5h0M211.6 307.9h0M218.2 308.5h0M223.0 308.4h0M223.0 307.8h0M227.8 308.4h0M230.5 308.3h0M231.2 307.9h0M231.3 307.7h0M232.1 308.4h0M233.1 308.1h0M234.7 307.8h0M235.3 308.5h0M235.7 307.5h0M236.4 308.2h0M237.0 308.2h0M241.7 307.6h0M241.8 308.4h0M243.3 308.1h0M247.1 308.0h0M249.5 308.1h0M252.2 307.5h0M259.2 307.6h0M262.1 307.9h0M262.9 307.5h0M266.3 307.7h0M268.4 307.8h0M268.9 307.9h0M270.8 307.6h0M274.9 308.1h0M324.6 307.7h0M194.9 308.9h0M201.3 309.4h0M209.0 309.2h0M210.0 308.9h0M215.3 309.1h0M216.6 309.3h0M222.7 309.1h0M225.7 309.2h0M226.6 309.1h0M226.7 308.9h0M234.1 308.7h0M235.7 309.2h0M236.1 309.0h0M239.9 308.6h0M240.4 309.5h0M246.3 308.6h0M246.5 308.8h0M247.8 308.8h0M248.1 309.4h0M252.3 309.0h0M253.0 308.6h0M253.6 309.1h0M256.5 308.8h0M260.8 308.6h0M262.6 309.4h0M264.2 308.7h0M264.3 308.7h0M268.0 308.9h0M268.6 309.4h0M271.6 309.1h0M282.8 308.8h0M293.2 308.6h0M301.9 308.9h0M185.7 310.1h0M205.9 309.6h0M210.1 309.7h0M211.6 309.9h0M215.4 310.3h0M221.8 309.6h0M223.6 309.7h0M226.1 310.1h0M229.8 309.8h0M236.7 309.8h0M245.3 310.5h0M247.4 310.1h0M247.7 310.1h0M251.8 310.4h0M260.1 309.8h0M262.2 309.9h0M266.3 309.8h0M273.0 310.0h0M275.4 309.8h0M276.0 309.8h0M277.9 310.0h0M282.8 310.2h0M284.3 309.8h0M285.4 310.4h0M290.9 310.2h0M307.0 309.8h0M332.3 310.0h0M213.7 310.6h0M218.4 310.6h0M226.5 310.8h0M230.8 310.9h0M232.1 311.1h0M232.7 311.4h0M240.5 310.7h0M241.0 310.6h0M244.0 311.3h0M245.3 310.8h0M254.1 310.8h0M256.9 311.3h0M264.1 310.6h0M269.5 311.4h0M272.9 311.1h0M286.0 311.0h0M286.1 311.3h0M286.6 311.3h0M287.6 310.5h0M287.9 311.0h0M182.4 312.2h0M188.0 312.4h0M196.3 312.1h0M210.6 312.3h0M216.1 311.6h0M216.9 312.5h0M217.4 311.8h0M218.8 311.7h0M229.7 312.0h0M240.8 311.7h0M241.9 312.4h0M245.1 311.9h0M247.5 312.5h0M252.7 311.5h0M256.9 311.9h0M258.4 312.0h0M281.2 311.9h0M281.9 312.3h0M283.0 311.6h0M292.0 311.8h0M300.4 312.3h0M190.1 313.1h0M220.4 313.5h0M224.6 313.1h0M225.0 312.8h0M229.1 313.3h0M230.7 313.1h0M233.7 312.9h0M234.6 312.9h0M236.3 312.6h0M238.3 313.3h0M238.4 312.7h0M239.8 313.4h0M242.5 312.7h0M244.8 313.4h0M245.6 312.8h0M248.5 312.8h0M248.6 313.1h0M256.3 313.5h0M261.9 312.7h0M263.7 313.0h0M264.6 312.6h0M265.6 312.7h0M274.4 313.2h0M282.7 313.1h0M284.2 312.8h0M294.8 313.0h0M317.0 313.1h0M187.3 314.1h0M213.6 314.0h0M221.3 313.8h0M223.9 313.6h0M224.9 313.8h0M227.7 313.8h0M229.1 314.1h0M230.0 313.7h0M231.9 314.0h0M236.4 313.7h0M237.0 314.0h0M238.4 313.9h0M239.0 314.4h0M239.2 314.3h0M240.4 314.4h0M248.5 313.6h0M251.3 314.4h0M254.2 313.5h0M265.0 314.1h0M267.5 313.8h0M285.1 314.3h0M288.3 314.4h0M294.6 314.1h0M320.1 313.8h0M320.1 314.4h0M212.4 315.0h0M213.3 315.1h0M221.5 315.3h0M226.5 314.8h0M229.7 315.4h0M235.0 314.9h0M240.2 314.6h0M249.3 315.3h0M254.8 315.1h0M255.2 314.5h0M257.2 315.3h0M267.6 314.6h0M273.1 315.5h0M274.2 315.2h0M277.7 314.8h0M281.1 315.2h0M281.5 314.6h0M287.2 315.1h0M319.2 315.5h0M335.3 315.3h0M187.4 316.4h0M188.3 316.2h0M207.7 315.6h0M215.5 316.4h0M216.3 315.5h0M216.4 315.6h0M219.1 316.0h0M221.0 316.1h0M223.8 315.6h0M232.9 316.1h0M234.1 316.1h0M234.4 315.6h0M235.1 315.6h0M237.8 315.5h0M244.2 315.7h0M245.6 316.2h0M251.4 316.3h0M258.0 315.9h0M258.3 315.7h0M260.7 315.6h0M277.6 315.6h0M280.8 315.9h0M291.7 316.3h0M295.6 315.7h0M307.8 316.0h0M319.1 315.8h0M183.1 317.2h0M188.4 316.8h0M192.6 316.5h0M194.1 316.8h0M196.1 317.1h0M200.4 317.4h0M204.6 317.3h0M207.0 317.0h0M212.7 317.2h0M213.3 317.0h0M217.2 317.3h0M224.2 316.7h0M229.4 316.6h0M233.7 317.4h0M240.0 316.7h0M243.0 316.8h0M245.0 317.2h0M245.2 316.6h0M246.2 316.6h0M250.2 317.4h0M256.0 316.5h0M262.8 316.8h0M295.7 317.2h0M318.6 316.6h0M177.4 317.5h0M203.2 317.8h0M213.7 317.8h0M216.5 318.2h0M221.2 318.1h0M223.0 318.1h0M224.8 318.5h0M233.1 318.3h0M243.8 317.6h0M245.8 318.1h0M248.0 318.1h0M250.0 317.5h0M250.6 318.0h0M255.7 318.3h0M257.7 317.7h0M258.7 317.9h0M260.4 317.8h0M263.8 317.7h0M267.4 318.0h0M272.1 318.4h0M272.9 317.9h0M286.9 317.8h0M290.9 317.6h0M301.1 318.2h0M304.0 318.4h0M307.2 318.0h0M327.5 318.0h0M364.6 317.5h0M181.4 319.1h0M188.9 319.4h0M199.1 319.0h0M200.3 318.7h0M203.1 318.6h0M208.0 319.4h0M212.2 319.4h0M214.5 318.5h0M217.4 319.4h0M217.7 318.7h0M218.4 319.1h0M223.5 319.0h0M232.6 318.6h0M234.6 319.2h0M237.2 318.9h0M239.0 319.3h0M240.7 319.2h0M243.0 319.4h0M243.1 319.4h0M254.8 318.7h0M256.8 318.9h0M274.4 319.3h0M274.7 318.8h0M275.3 318.7h0M280.4 319.1h0M288.2 319.0h0M292.1 318.8h0M305.1 319.5h0M306.0 318.6h0M308.9 318.6h0M310.0 318.9h0M318.6 319.1h0M210.9 320.4h0M211.1 320.0h0M222.5 320.2h0M232.0 320.0h0M232.5 320.3h0M237.4 319.6h0M239.7 320.4h0M246.4 319.6h0M249.6 320.0h0M255.6 319.5h0M259.7 320.5h0M281.1 319.8h0M282.7 319.7h0M285.8 319.7h0M289.6 319.6h0M185.5 321.2h0M195.0 321.3h0M201.0 321.0h0M202.0 321.0h0M216.4 320.9h0M220.1 320.5h0M221.8 320.5h0M223.2 321.1h0M232.2 320.9h0M246.1 320.5h0M253.3 321.0h0M258.8 320.8h0M263.0 321.0h0M265.0 321.4h0M265.1 320.8h0M267.8 320.7h0M272.3 321.2h0M282.8 320.7h0M293.7 321.3h0M295.3 320.6h0M308.3 321.0h0M341.1 320.8h0M193.3 322.1h0M196.4 321.9h0M213.2 322.0h0M223.5 321.8h0M225.2 322.0h0M230.6 322.2h0M237.8 322.0h0M237.8 322.1h0M241.0 321.8h0M241.9 321.9h0M244.8 322.2h0M250.6 322.2h0M253.8 322.5h0M257.1 322.3h0M269.3 322.5h0M278.9 322.3h0M282.4 321.9h0M288.9 322.4h0M298.9 322.4h0M303.5 321.9h0M326.1 322.0h0M332.8 322.0h0M182.8 322.5h0M214.6 323.5h0M219.2 322.9h0M223.6 323.4h0M235.0 323.4h0M235.1 322.8h0M244.5 323.4h0M245.3 322.7h0M246.9 323.1h0M255.0 322.8h0M256.7 323.3h0M258.8 322.9h0M262.2 322.6h0M271.1 322.5h0M276.6 322.7h0M282.7 323.3h0M288.3 322.8h0M308.5 323.0h0M201.3 324.3h0M203.7 324.4h0M208.1 324.0h0M231.8 323.8h0M233.8 324.4h0M240.7 323.7h0M249.1 323.6h0M253.7 324.4h0M254.9 324.5h0M260.4 324.2h0M268.5 324.2h0M273.0 324.3h0M275.2 323.9h0M279.0 324.0h0M287.0 323.8h0M288.5 324.0h0M306.6 323.5h0M317.9 323.6h0M202.6 324.6h0M205.6 324.6h0M226.8 324.9h0M232.5 324.6h0M238.5 325.3h0M239.4 325.0h0M243.4 325.3h0M249.5 324.9h0M251.3 325.4h0M262.5 325.4h0M265.5 325.5h0M311.3 324.8h0M182.6 326.4h0M182.9 325.8h0M193.8 325.7h0M201.6 326.1h0M205.8 325.8h0M207.8 325.7h0M211.8 326.5h0M217.5 325.8h0M222.2 326.3h0M224.0 326.5h0M227.4 326.3h0M251.9 326.5h0M256.5 325.6h0M265.6 326.1h0M272.5 326.0h0M279.2 326.4h0M287.4 326.4h0M294.9 326.4h0M297.8 325.5h0M200.8 327.5h0M208.2 327.2h0M209.9 326.7h0M214.2 327.0h0M218.9 327.3h0M227.7 326.7h0M228.8 326.8h0M238.5 327.5h0M238.6 327.3h0M254.3 327.0h0M264.9 327.5h0M267.8 327.5h0M291.2 326.6h0M309.7 326.8h0M311.0 327.4h0M182.1 328.2h0M187.2 328.2h0M187.2 327.6h0M226.1 328.4h0M229.5 327.9h0M231.2 327.5h0M233.6 327.7h0M250.4 327.9h0M261.3 328.5h0M261.5 328.5h0M269.1 327.6h0M287.4 328.1h0M306.0 328.2h0M308.7 327.6h0M189.4 329.0h0M212.7 329.3h0M219.0 328.7h0M223.7 328.9h0M240.6 328.8h0M258.0 329.3h0M270.0 329.4h0M284.1 329.2h0M285.1 329.2h0M307.0 328.9h0M310.9 329.2h0M311.9 329.2h0M340.9 329.4h0M178.2 330.0h0M197.3 329.8h0M222.8 329.8h0M229.8 330.5h0M234.7 329.6h0M238.6 329.5h0M249.4 330.5h0M268.3 329.7h0M270.1 330.0h0M273.5 330.2h0M274.4 330.1h0M287.6 330.1h0M301.7 329.6h0M311.4 330.4h0M312.5 329.8h0M325.9 329.9h0M206.2 331.0h0M206.4 331.0h0M210.2 330.5h0M212.4 330.9h0M217.2 331.1h0M221.6 331.2h0M231.0 330.9h0M243.4 331.1h0M266.9 330.6h0M272.5 330.8h0M279.1 331.2h0M290.7 331.4h0M292.4 331.5h0M306.8 331.1h0M199.3 332.4h0M206.4 331.8h0M206.4 331.8h0M236.7 331.8h0M243.7 331.5h0M250.7 332.1h0M257.9 331.6h0M262.1 332.2h0M264.5 331.6h0M264.8 331.9h0M267.1 332.4h0M275.0 331.7h0M296.7 331.8h0M360.6 331.6h0M212.5 333.3h0M216.5 333.2h0M218.9 333.4h0M236.8 333.2h0M239.4 332.8h0M260.1 332.6h0M266.2 332.8h0M267.3 332.9h0M283.6 333.1h0M294.3 332.6h0M299.4 333.2h0M313.8 333.2h0M200.3 334.3h0M202.6 334.2h0M227.8 334.0h0M236.2 333.6h0M244.2 333.6h0M252.1 333.8h0M269.4 334.0h0M280.9 333.7h0M286.9 334.0h0M200.2 335.1h0M201.1 334.7h0M202.4 334.9h0M204.7 335.0h0M214.0 335.5h0M239.3 334.5h0M241.1 334.9h0M247.7 335.1h0M247.8 335.4h0M254.1 334.5h0M265.5 334.7h0M333.4 334.9h0M196.0 335.8h0M207.6 335.5h0M214.0 335.8h0M224.6 336.3h0M234.4 335.6h0M238.5 335.9h0M251.3 336.0h0M262.2 336.4h0M270.4 335.5h0M276.7 335.8h0M284.3 335.7h0M183.0 337.0h0M197.0 336.5h0M198.8 336.6h0M209.5 337.5h0M222.2 336.6h0M235.0 336.7h0M236.7 337.5h0M244.2 337.4h0M212.0 338.2h0M213.3 337.8h0M217.8 337.8h0M230.4 337.9h0M231.1 337.6h0M248.0 337.8h0M251.6 338.1h0M256.2 338.2h0M267.6 337.7h0M273.2 338.5h0M276.8 338.3h0M174.4 339.5h0M201.9 339.4h0M212.9 339.0h0M228.3 338.5h0M241.9 338.8h0M251.6 338.5h0M262.8 338.9h0M264.5 338.9h0M267.4 338.9h0M272.7 338.7h0M295.1 338.5h0M295.3 338.7h0M206.5 339.7h0M219.7 340.3h0M225.7 339.6h0M231.4 339.8h0M247.3 339.5h0M250.4 340.0h0M259.1 340.3h0M261.1 339.6h0M282.9 339.7h0M289.2 340.4h0M186.4 341.2h0M211.1 340.7h0M236.5 340.8h0M240.9 340.9h0M242.8 340.6h0M252.5 340.6h0M269.4 340.6h0M286.8 340.7h0M189.6 341.6h0M204.4 341.6h0M206.9 342.4h0M236.8 342.0h0M248.5 342.1h0M258.2 341.8h0M269.9 341.7h0M270.0 342.1h0M279.4 342.0h0M294.0 342.0h0M295.8 341.9h0M186.0 343.1h0M213.6 343.4h0M225.6 342.8h0M230.8 343.0h0M237.0 343.3h0M249.2 343.3h0M270.5 342.8h0M210.8 344.3h0M218.4 343.7h0M230.0 343.6h0M243.4 344.2h0M264.3 344.3h0M186.0 344.7h0M210.6 345.0h0M236.8 345.2h0M247.9 344.8h0M254.8 345.3h0M275.6 344.9h0M285.8 344.5h0M203.9 346.5h0M207.0 345.9h0M230.7 346.4h0M234.4 345.8h0M258.3 346.1h0M279.5 346.3h0M334.0 345.7h0M202.1 346.9h0M212.7 347.0h0M217.6 347.3h0M225.9 347.2h0M231.0 346.6h0M255.7 346.9h0M257.2 347.2h0M258.5 346.7h0M291.0 347.4h0M291.7 347.1h0M314.7 346.5h0M181.8 347.9h0M185.9 348.4h0M262.4 348.3h0M270.4 347.8h0M271.1 347.8h0M211.0 349.2h0M212.9 349.4h0M217.0 349.3h0M254.8 349.2h0M291.1 349.0h0M183.4 350.4h0M192.5 349.7h0M203.9 349.9h0M208.1 350.0h0M240.1 350.0h0M295.8 349.9h0M302.1 350.3h0M170.4 351.0h0M189.0 351.3h0M189.4 351.1h0M192.3 350.9h0M192.9 351.0h0M199.1 350.7h0M202.4 351.2h0M206.7 350.8h0M229.7 351.2h0M247.7 350.6h0M269.5 351.0h0M242.7 351.6h0M260.0 351.6h0M206.8 352.7h0M221.4 353.2h0M226.8 352.8h0M243.7 353.4h0M254.0 352.5h0M192.3 354.3h0M206.0 354.2h0M293.5 353.6h0M188.4 354.6h0M218.6 354.7h0M243.3 354.8h0M257.2 355.1h0M319.2 354.9h0M318.1 355.7h0M215.2 356.6h0M247.4 357.0h0M195.6 358.5h0M208.9 358.4h0M238.1 357.9h0M188.7 359.2h0M216.9 359.3h0M250.5 359.0h0M294.3 358.6h0M210.4 359.6h0M243.0 359.6h0M309.7 360.1h0M204.5 361.4h0M272.1 360.9h0M277.7 360.7h0M193.4 362.0h0M207.3 361.8h0M270.8 362.0h0M230.8 363.4h0M277.8 363.2h0M302.7 363.2h0M197.7 364.3h0M242.5 363.7h0M269.2 363.6h0M234.0 365.2h0M248.5 364.7h0M217.0 366.8h0M182.0 372.8h0"/>
<path fill="none" stroke="#000" stroke-width="3.8" stroke-linecap="round" d="M916.1 114.2h0M912.0 121.6h0M909.7 127.2h0M933.2 129.1h0M912.3 132.0h0M857.2 132.7h0M884.5 133.9h0M885.0 136.1h0M880.3 137.5h0M894.9 139.0h0M873.2 139.9h0M878.8 140.9h0M859.4 143.5h0M872.5 143.2h0M861.4 143.8h0M882.8 144.1h0M884.3 146.8h0M921.1 148.1h0M862.4 148.8h0M874.2 149.2h0M885.6 149.2h0M906.6 148.6h0M874.3 149.6h0M860.5 150.9h0M868.5 150.6h0M864.0 152.0h0M858.3 153.2h0M884.4 152.6h0M902.5 153.3h0M867.1 153.6h0M885.0 154.2h0M865.9 155.4h0M893.5 154.6h0M902.1 155.0h0M909.4 154.9h0M875.2 155.8h0M882.7 155.7h0M887.3 156.1h0M888.8 155.7h0M926.8 156.9h0M870.2 157.8h0M871.8 158.4h0M887.7 158.4h0M888.1 158.2h0M859.2 159.3h0M877.0 158.6h0M896.4 159.2h0M870.1 161.4h0M887.3 161.1h0M889.7 160.8h0M936.1 161.2h0M859.1 161.6h0M874.8 162.4h0M887.1 162.2h0M895.8 162.3h0M832.6 163.1h0M857.5 163.4h0M877.6 163.1h0M890.6 162.6h0M848.8 164.0h0M863.7 163.9h0M867.3 164.0h0M871.1 163.6h0M876.9 164.2h0M899.1 163.6h0M902.3 163.6h0M915.9 163.6h0M859.7 164.6h0M862.3 164.9h0M869.8 165.5h0M871.9 164.7h0M912.4 165.5h0M851.3 166.5h0M863.8 167.9h0M899.2 168.5h0M849.2 169.3h0M867.7 169.1h0M869.3 169.4h0M872.3 168.5h0M884.8 169.5h0M853.2 170.3h0M888.6 169.7h0M897.8 170.3h0M903.1 170.4h0M929.6 169.6h0M843.5 170.9h0M847.8 170.7h0M872.4 171.5h0M873.3 170.6h0M876.5 171.3h0M877.5 171.4h0M877.8 170.8h0M888.5 171.0h0M859.5 171.8h0M888.5 173.4h0M839.1 174.3h0M842.3 174.4h0M867.6 173.5h0M822.6 175.4h0M867.2 174.6h0M875.0 174.8h0M878.8 174.9h0M884.9 175.3h0M885.1 175.4h0M847.0 175.6h0M861.0 176.3h0M861.7 176.5h0M872.8 176.0h0M874.6 176.2h0M846.4 177.4h0M852.6 176.8h0M855.8 176.6h0M859.6 176.7h0M861.6 177.5h0M831.2 177.8h0M852.9 177.6h0M855.6 178.2h0M859.8 177.6h0M871.1 177.7h0M871.8 178.5h0M879.1 178.1h0M880.6 178.2h0M884.9 178.4h0M887.4 178.4h0M820.6 178.5h0M838.4 179.1h0M839.2 179.3h0M844.2 179.5h0M858.7 179.1h0M859.6 178.9h0M865.0 179.3h0M881.3 179.2h0M820.6 180.2h0M846.6 179.7h0M848.3 179.6h0M860.8 180.0h0M862.2 180.3h0M863.0 179.9h0M880.4 180.3h0M809.2 180.9h0M827.4 180.9h0M848.0 181.2h0M871.5 180.7h0M885.2 180.7h0M887.9 181.0h0M845.1 182.0h0M862.3 182.4h0M881.6 182.3h0M895.4 181.5h0M810.7 182.6h0M850.4 182.6h0M861.2 182.7h0M871.3 183.3h0M883.4 182.7h0M851.3 184.3h0M860.0 183.8h0M840.4 184.9h0M858.5 184.8h0M880.7 185.2h0M885.8 185.1h0M888.7 185.3h0M900.1 185.4h0M827.4 186.3h0M830.9 185.8h0M836.3 185.7h0M845.9 186.5h0M863.2 185.9h0M926.4 185.7h0M845.1 187.1h0M856.0 187.4h0M859.9 187.2h0M866.4 187.1h0M883.8 186.8h0M815.3 187.6h0M842.4 188.2h0M845.8 188.0h0M847.7 187.6h0M864.4 187.7h0M840.0 189.2h0M854.1 188.9h0M855.2 188.5h0M862.5 188.7h0M865.7 189.2h0M874.8 189.0h0M833.7 189.6h0M853.4 190.3h0M855.1 190.4h0M847.0 190.7h0M847.7 190.9h0M848.4 190.8h0M854.7 190.9h0M858.0 191.3h0M875.0 190.8h0M879.8 190.8h0M832.8 191.7h0M843.7 191.9h0M845.3 192.4h0M854.5 191.6h0M859.1 191.7h0M861.6 192.1h0M869.5 191.9h0M834.3 193.1h0M837.8 193.4h0M839.7 193.0h0M840.5 192.9h0M848.1 192.6h0M866.4 193.0h0M869.3 193.2h0M869.9 193.4h0M905.3 192.6h0M817.6 194.2h0M843.1 193.8h0M847.8 194.0h0M852.0 194.4h0M855.1 193.5h0M866.7 193.7h0M871.3 193.7h0M813.5 194.8h0M844.6 194.5h0M845.4 194.9h0M847.2 194.6h0M851.3 195.5h0M841.1 196.2h0M858.2 195.5h0M911.1 196.2h0M823.0 197.3h0M827.4 197.5h0M830.0 197.4h0M848.8 197.3h0M861.8 197.3h0M800.9 198.3h0M822.2 198.1h0M829.5 197.6h0M833.1 198.0h0M835.0 197.6h0M835.4 198.4h0M877.7 198.3h0M880.3 197.9h0M819.0 199.5h0M826.5 198.9h0M841.1 198.9h0M855.5 199.2h0M858.0 199.4h0M815.4 200.2h0M822.8 199.8h0M826.3 199.6h0M835.2 200.4h0M859.0 199.7h0M810.1 201.0h0M823.2 201.0h0M839.7 200.8h0M857.8 200.9h0M836.6 201.9h0M851.3 201.9h0M853.8 201.9h0M857.7 201.7h0M868.9 201.9h0M860.0 202.8h0M867.3 203.2h0M804.4 203.6h0M826.1 204.0h0M836.6 204.5h0M847.5 203.8h0M867.4 204.2h0M871.0 203.8h0M879.4 204.4h0M882.5 204.3h0M842.2 205.4h0M846.6 204.9h0M855.4 205.1h0M785.1 206.2h0M806.7 206.1h0M823.4 205.8h0M876.0 205.5h0M797.7 207.1h0M824.3 207.0h0M829.6 207.1h0M830.8 206.5h0M836.2 206.6h0M839.2 206.8h0M843.0 206.7h0M843.3 207.5h0M845.6 206.8h0M878.9 207.2h0M839.1 208.5h0M845.4 208.4h0M855.6 207.6h0M858.7 208.5h0M859.1 207.9h0M827.5 208.6h0M832.8 209.2h0M797.5 209.6h0M805.9 209.8h0M811.9 210.2h0M832.1 209.8h0M832.7 209.6h0M842.4 210.2h0M856.6 210.0h0M858.4 210.3h0M864.9 210.2h0M892.4 210.1h0M813.8 211.0h0M821.2 211.0h0M821.5 210.8h0M887.8 211.4h0M825.6 211.7h0M834.7 211.7h0M853.0 212.1h0M817.5 213.4h0M841.7 213.2h0M847.1 213.4h0M872.2 213.3h0M792.1 213.8h0M801.1 214.4h0M826.1 213.9h0M830.6 213.5h0M831.9 213.8h0M834.3 214.1h0M850.6 214.2h0M858.2 214.4h0M874.1 214.0h0M830.3 214.7h0M834.0 214.6h0M838.7 215.4h0M843.2 214.6h0M863.8 215.2h0M768.9 216.4h0M812.8 215.7h0M823.5 215.9h0M855.6 215.8h0M805.6 216.7h0M813.4 217.0h0M842.2 217.4h0M851.6 217.3h0M864.8 216.7h0M816.3 217.8h0M829.7 217.8h0M842.6 218.3h0M843.6 217.7h0M861.3 217.8h0M813.7 218.7h0M827.8 218.7h0M833.0 218.6h0M840.5 218.7h0M846.7 219.2h0M866.6 218.8h0M806.8 220.2h0M827.0 220.1h0M832.5 220.3h0M841.4 220.1h0M864.4 219.9h0M809.1 220.7h0M810.3 220.7h0M811.0 220.6h0M815.4 220.9h0M821.2 220.8h0M825.5 221.3h0M827.1 220.8h0M836.5 221.1h0M848.2 220.6h0M804.7 221.5h0M805.2 221.7h0M812.2 221.9h0M814.6 221.8h0M817.2 222.0h0M848.3 222.0h0M878.7 222.1h0M733.0 223.5h0M808.4 222.7h0M817.1 222.7h0M835.5 223.2h0M840.8 222.8h0M854.4 222.8h0M807.3 223.7h0M827.7 223.6h0M839.6 224.1h0M840.6 224.0h0M849.9 223.6h0M790.2 225.0h0M796.0 224.6h0M798.4 225.2h0M805.4 224.9h0M818.4 226.3h0M818.7 226.3h0M826.8 225.7h0M829.3 226.2h0M841.6 226.4h0M875.1 226.1h0M800.3 227.2h0M803.1 226.5h0M814.4 226.9h0M838.1 227.1h0M855.4 226.9h0M806.3 228.3h0M808.0 227.9h0M808.2 228.5h0M820.3 228.2h0M822.7 228.5h0M851.1 227.6h0M813.7 229.0h0M822.3 229.0h0M837.4 229.4h0M840.0 229.4h0M845.9 229.3h0M846.9 229.1h0M797.4 230.2h0M800.8 229.7h0M843.3 230.0h0M770.0 231.2h0M782.0 231.5h0M790.3 231.0h0M798.1 230.5h0M816.4 230.9h0M831.8 230.7h0M832.2 231.3h0M833.5 231.0h0M793.6 231.9h0M805.0 231.6h0M806.5 232.4h0M816.8 232.0h0M819.6 232.2h0M822.0 232.2h0M824.2 232.1h0M840.9 231.6h0M842.6 232.2h0M845.4 231.9h0M787.2 233.3h0M804.2 232.6h0M810.0 233.2h0M819.0 233.1h0M820.5 232.6h0M822.7 232.6h0M831.6 233.0h0M839.3 232.5h0M840.3 232.6h0M840.9 233.5h0M798.9 233.7h0M800.0 234.0h0M800.3 233.7h0M817.2 233.7h0M801.9 235.2h0M823.9 235.0h0M810.4 235.6h0M819.7 236.3h0M820.7 235.8h0M824.6 235.8h0M828.0 235.6h0M831.4 235.5h0M835.5 235.8h0M880.3 235.6h0M788.3 237.2h0M810.3 236.6h0M830.6 237.3h0M784.4 237.9h0M788.4 237.8h0M798.7 237.9h0M805.6 238.1h0M818.2 237.9h0M825.6 237.8h0M827.2 237.6h0M849.9 237.6h0M787.5 239.0h0M788.0 239.0h0M811.1 239.3h0M817.0 238.8h0M827.7 238.7h0M839.3 238.6h0M842.9 238.8h0M864.2 238.5h0M793.0 239.5h0M794.7 239.6h0M799.3 240.0h0M806.0 240.2h0M831.4 240.1h0M840.8 239.7h0M788.6 241.0h0M790.2 241.4h0M796.6 241.2h0M766.7 241.6h0M781.3 242.5h0M790.3 242.4h0M790.5 242.3h0M834.6 242.4h0M851.7 242.4h0M796.6 242.9h0M815.2 243.2h0M835.2 243.0h0M840.1 242.5h0M789.0 244.3h0M763.6 245.2h0M811.2 244.8h0M811.9 244.8h0M825.1 245.1h0M831.7 244.7h0M832.5 245.3h0M836.5 244.6h0M776.1 246.3h0M789.1 246.1h0M814.6 246.3h0M828.7 246.2h0M828.8 246.2h0M830.4 246.4h0M836.8 245.7h0M867.4 246.0h0M796.7 246.7h0M797.0 247.1h0M802.9 247.1h0M805.9 246.8h0M810.8 247.3h0M825.9 246.7h0M786.9 247.5h0M789.7 248.0h0M798.0 248.0h0M810.4 248.2h0M811.8 248.0h0M777.0 249.3h0M783.1 248.8h0M783.7 249.5h0M784.2 249.5h0M788.5 249.0h0M791.9 249.0h0M808.6 248.7h0M813.9 249.5h0M827.2 248.6h0M772.4 249.6h0M773.9 249.5h0M783.4 250.2h0M807.1 250.4h0M832.6 249.7h0M783.8 252.3h0M791.9 251.9h0M793.1 251.7h0M801.8 251.7h0M826.5 252.2h0M828.3 251.5h0M842.3 251.7h0M755.7 253.3h0M773.4 252.5h0M785.3 253.1h0M794.5 252.9h0M800.1 252.6h0M806.2 253.2h0M808.4 253.1h0M775.9 253.9h0M785.0 254.5h0M795.9 254.5h0M797.7 254.0h0M811.5 254.2h0M801.3 254.6h0M804.1 255.3h0M781.2 256.0h0M798.2 256.0h0M806.6 256.1h0M771.5 257.0h0M776.7 257.4h0M785.0 256.6h0M791.4 257.4h0M807.4 256.9h0M815.0 256.8h0M832.7 257.2h0M742.9 257.8h0M804.7 258.0h0M807.4 257.9h0M810.6 258.0h0M788.5 258.9h0M792.8 259.4h0M796.6 258.6h0M799.8 259.2h0M805.8 258.6h0M825.5 258.8h0M827.7 259.0h0M871.7 259.3h0M764.5 259.8h0M779.3 259.8h0M784.8 260.0h0M789.5 260.0h0M793.8 259.5h0M794.8 260.0h0M801.4 260.0h0M802.5 260.1h0M764.8 260.7h0M790.0 260.6h0M793.0 260.7h0M796.0 260.7h0M810.4 260.5h0M811.4 260.8h0M813.6 261.0h0M824.4 261.1h0M830.5 260.7h0M781.4 261.7h0M793.7 261.6h0M801.8 262.0h0M889.8 261.7h0M759.0 263.2h0M763.4 263.1h0M771.6 263.0h0M791.2 262.7h0M794.4 262.8h0M869.5 262.7h0M735.8 264.5h0M764.7 263.9h0M778.0 263.7h0M794.8 263.5h0M796.1 263.9h0M801.0 264.2h0M746.4 264.8h0M772.4 265.1h0M779.5 264.9h0M784.6 265.2h0M802.3 264.9h0M772.3 266.1h0M772.8 265.9h0M793.7 266.5h0M802.0 265.5h0M760.0 267.1h0M772.7 267.3h0M794.8 266.6h0M798.6 267.1h0M835.4 267.2h0M783.6 268.0h0M786.7 268.1h0M788.8 268.4h0M801.2 267.9h0M754.4 269.3h0M773.5 269.4h0M777.1 268.8h0M777.7 268.8h0M797.7 268.9h0M803.5 268.7h0M811.0 269.4h0M762.3 269.6h0M763.8 269.7h0M784.1 270.0h0M790.1 270.1h0M795.6 270.3h0M805.9 269.6h0M832.3 270.1h0M739.8 271.3h0M773.5 271.4h0M770.1 271.9h0M752.5 272.9h0M809.5 273.4h0M881.3 273.1h0M747.3 274.4h0M761.8 274.4h0M812.7 274.5h0M821.3 273.7h0M805.3 275.2h0M822.3 275.4h0M828.4 275.0h0M836.8 274.7h0M713.8 276.0h0M784.1 276.0h0M797.8 276.5h0M782.6 277.3h0M784.0 276.8h0M728.6 277.9h0M796.5 279.2h0M777.3 281.2h0M779.5 280.9h0M784.5 281.1h0M795.7 280.6h0M758.5 281.5h0M778.9 282.2h0M788.3 282.3h0M800.1 281.8h0M729.1 283.4h0M772.3 283.3h0M774.0 283.4h0M800.2 282.8h0M741.7 283.7h0M755.2 283.7h0M774.5 283.8h0M814.4 284.1h0M764.9 285.3h0M810.4 284.7h0M748.1 285.7h0M765.4 286.1h0M791.6 285.6h0M802.3 285.7h0M756.1 286.9h0M789.6 286.7h0M753.3 287.7h0M794.0 288.0h0M807.4 288.1h0M755.9 289.1h0M770.7 288.6h0M780.3 288.6h0M783.8 289.3h0M793.4 289.3h0M807.4 289.2h0M828.5 289.3h0M765.3 290.2h0M780.3 290.2h0M788.7 290.5h0M793.3 290.9h0M819.6 291.4h0M727.6 291.9h0M798.5 291.6h0M784.6 293.0h0M794.3 292.6h0M776.4 293.9h0M752.9 294.5h0M763.2 294.5h0M804.2 294.9h0M818.1 295.3h0M781.5 296.4h0M737.9 298.4h0M787.5 297.6h0M703.4 298.9h0M766.8 298.9h0M771.0 299.0h0M809.5 298.9h0M763.2 299.9h0M790.7 300.8h0M815.8 301.4h0M761.4 302.0h0M763.4 302.1h0M772.1 301.9h0M743.0 303.2h0M733.3 303.9h0M761.4 304.0h0M787.8 304.4h0M729.9 304.9h0M763.7 305.4h0M780.3 307.0h0M781.3 308.5h0M698.5 309.8h0M710.5 310.9h0M773.7 311.3h0M729.2 311.8h0M753.4 313.5h0M710.8 314.9h0M730.9 315.1h0M760.1 317.0h0M783.1 320.9h0M792.6 321.7h0M747.1 322.9h0M805.4 323.9h0M717.9 333.6h0M790.7 335.2h0M732.4 336.3h0M723.6 340.2h0M708.2 342.0h0M753.2 342.3h0M749.6 342.6h0M732.4 348.3h0M735.0 348.0h0M750.6 351.6h0M739.8 356.2h0M770.2 358.3h0M786.1 357.6h0M708.6 366.8h0M728.0 368.4h0M731.3 375.8h0M725.8 386.8h0"/>
<g stroke="rgba(128,128,128,0.55)" stroke-width="3.8" stroke-linecap="round">
<line x1="83.3" y1="408.7" x2="470.1" y2="51.3"/>
<line x1="627.2" y1="408.7" x2="1013.8" y2="51.3"/>
</g>
<g fill="#8b66bd"><circle cx="342.6" cy="352.1" r="6.65"/><circle cx="339.7" cy="356.7" r="6.65"/><circle cx="332.6" cy="366.4" r="6.65"/><circle cx="342.1" cy="367.8" r="6.65"/><circle cx="353.6" cy="375.9" r="6.65"/><circle cx="764.9" cy="161.7" r="6.65"/><circle cx="858.6" cy="294.8" r="6.65"/><circle cx="876.8" cy="289.6" r="6.65"/><circle cx="805.5" cy="359.2" r="6.65"/><circle cx="816.5" cy="372.5" r="6.65"/></g>
<g stroke="#000" stroke-width="3.8" fill="none">
<path d="M73.7 49H83.3V408.7H471.6V418M83.3 408.7H73.7M83.3 408.7V418"/>
<path d="M617.4 49H627.2V408.7H1015.7V418M627.2 408.7H617.4M627.2 408.7V418"/>
</g>
<g font-size="25" class="t">
<text x="62.8" y="58" text-anchor="end">0.3</text>
<text x="62.8" y="417.5" text-anchor="end">−0.3</text>
<text x="83.3" y="446" text-anchor="middle">−0.3</text>
<text x="471.6" y="446" text-anchor="middle">0.3</text>
<text x="277.5" y="468.5" text-anchor="middle">Initial</text>
<text transform="translate(22.3,229) rotate(-90)" text-anchor="middle">Trained</text>
<text x="607.6" y="58" text-anchor="end">1.2</text>
<text x="608" y="417.5" text-anchor="end">−1.2</text>
<text x="627.2" y="446" text-anchor="middle">−1.2</text>
<text x="1015.7" y="446" text-anchor="middle">1.2</text>
<text x="159.25" y="21">Layer 1:</text><text x="257.45" y="21">g</text><text x="271.90" y="28.6" font-size="17.5" letter-spacing="1.7">syn</text><text x="302.95" y="22.3">,</text><text x="317.30" y="21">ρ=0.58</text>
<text x="703.25" y="21">Layer 2:</text><text x="801.45" y="21">g</text><text x="815.90" y="28.6" font-size="17.5" letter-spacing="1.7">syn</text><text x="846.95" y="22.3">,</text><text x="861.30" y="21">ρ=0.79</text>
</g>
</svg>
</body></html>
